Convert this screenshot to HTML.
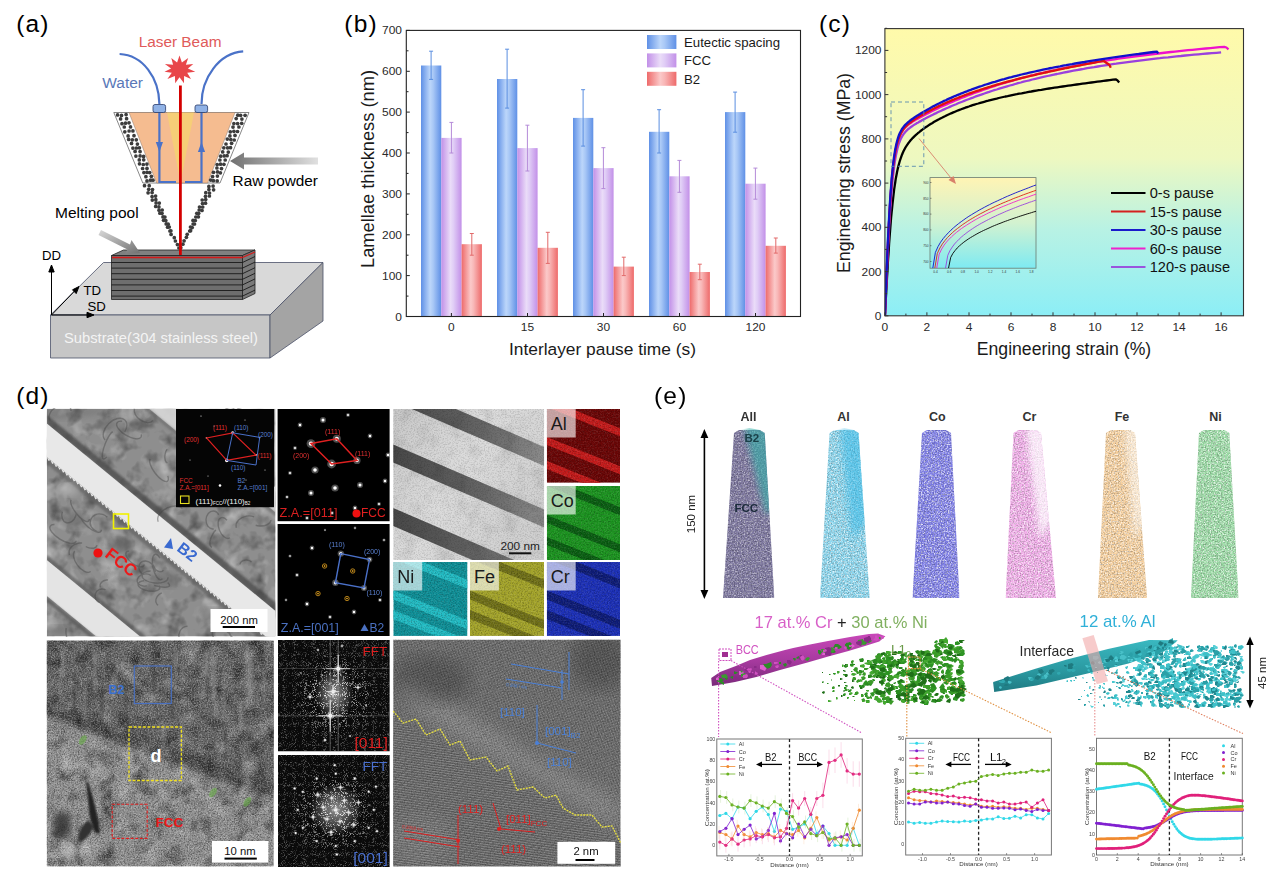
<!DOCTYPE html><html><head><meta charset="utf-8"><style>html,body{margin:0;padding:0;background:#fff;}svg{display:block;font-family:"Liberation Sans", sans-serif;}</style></head><body><svg width="1268" height="869" viewBox="0 0 1268 869"><defs><linearGradient id="garr" x1="0" y1="0" x2="1" y2="0"><stop offset="0" stop-color="#707070"/><stop offset="1" stop-color="#e0e0e0"/></linearGradient><linearGradient id="garr2" x1="1" y1="1" x2="0" y2="0"><stop offset="0" stop-color="#707070"/><stop offset="1" stop-color="#d8d8d8"/></linearGradient><linearGradient id="gbl" x1="0" x2="1"><stop offset="0" stop-color="#5f90e6"/><stop offset="0.45" stop-color="#bcd6fa"/><stop offset="0.6" stop-color="#a9c8f6"/><stop offset="1" stop-color="#5f90e6"/></linearGradient><linearGradient id="gpu" x1="0" x2="1"><stop offset="0" stop-color="#c290e8"/><stop offset="0.45" stop-color="#eadcf8"/><stop offset="0.6" stop-color="#e0cdf6"/><stop offset="1" stop-color="#c290e8"/></linearGradient><linearGradient id="grd" x1="0" x2="1"><stop offset="0" stop-color="#ee6a6a"/><stop offset="0.45" stop-color="#fbc9c9"/><stop offset="0.6" stop-color="#f8b6b6"/><stop offset="1" stop-color="#ee6a6a"/></linearGradient><linearGradient id="gcb" x1="0" y1="0" x2="0" y2="1"><stop offset="0" stop-color="#fffaaa"/><stop offset="0.45" stop-color="#eef8c0"/><stop offset="0.7" stop-color="#b8f2e4"/><stop offset="1" stop-color="#8ceef6"/></linearGradient><clipPath id="cpc"><rect x="884.9" y="28.6" width="358.6" height="287.2"/></clipPath><linearGradient id="gci" x1="0" y1="0" x2="0" y2="1"><stop offset="0" stop-color="#fff4b4"/><stop offset="0.5" stop-color="#d2f2d0"/><stop offset="1" stop-color="#7eeaf2"/></linearGradient><clipPath id="cpi"><rect x="930" y="177.6" width="106" height="90.6"/></clipPath><filter id="nzA" x="0" y="0" width="100%" height="100%" filterUnits="objectBoundingBox"><feTurbulence type="fractalNoise" baseFrequency="0.06" numOctaves="3" seed="4"/><feColorMatrix type="matrix" values="0 0 0 0 0  0 0 0 0 0  0 0 0 0 0  2.2 0 0 0 -1.05"/></filter><filter id="nzB" x="0" y="0" width="100%" height="100%" filterUnits="objectBoundingBox"><feTurbulence type="fractalNoise" baseFrequency="0.05" numOctaves="3" seed="9"/><feColorMatrix type="matrix" values="0 0 0 0 1  0 0 0 0 1  0 0 0 0 1  2.0 0 0 0 -1.05"/></filter><filter id="nzF" x="0" y="0" width="100%" height="100%" filterUnits="objectBoundingBox"><feTurbulence type="fractalNoise" baseFrequency="0.7" numOctaves="2" seed="2"/><feColorMatrix type="matrix" values="0 0 0 0 0  0 0 0 0 0  0 0 0 0 0  3 0 0 0 -1.3"/></filter><filter id="nzW" x="0" y="0" width="100%" height="100%" filterUnits="objectBoundingBox"><feTurbulence type="fractalNoise" baseFrequency="0.7" numOctaves="2" seed="5"/><feColorMatrix type="matrix" values="0 0 0 0 1  0 0 0 0 1  0 0 0 0 1  3 0 0 0 -1.3"/></filter><filter id="bl1"><feGaussianBlur stdDeviation="1.2"/></filter><filter id="bl2"><feGaussianBlur stdDeviation="3"/></filter><filter id="glow"><feGaussianBlur stdDeviation="0.7"/></filter><clipPath id="cd1"><rect x="46.8" y="408.8" width="228.7" height="227.7"/></clipPath><clipPath id="cd2"><rect x="393.2" y="409" width="151" height="151"/></clipPath><linearGradient id="gt2" x1="0" y1="0" x2="1" y2="0.6"><stop offset="0" stop-color="#c8c8c8"/><stop offset="0.5" stop-color="#dcdcdc"/><stop offset="1" stop-color="#d0d0d0"/></linearGradient><linearGradient id="gt2b" x1="0" y1="0" x2="1" y2="0"><stop offset="0" stop-color="#484848"/><stop offset="0.6" stop-color="#666"/><stop offset="1" stop-color="#8c8c8c"/></linearGradient><clipPath id="ceAl"><rect x="546.8" y="409" width="73.2" height="73.8"/></clipPath><clipPath id="ceCo"><rect x="546.8" y="486" width="73.2" height="74"/></clipPath><clipPath id="ceNi"><rect x="393.3" y="562" width="74.2" height="73.9"/></clipPath><clipPath id="ceFe"><rect x="470" y="562" width="74" height="73.9"/></clipPath><clipPath id="ceCr"><rect x="546.8" y="562" width="73.2" height="73.9"/></clipPath><clipPath id="ch1"><rect x="46.7" y="640.4" width="227.1" height="226.2"/></clipPath><clipPath id="cf640"><rect x="278" y="640" width="111.8" height="111.5"/></clipPath><radialGradient id="rgmk640" cx="0.5" cy="0.5" r="0.4"><stop offset="0" stop-color="#fff"/><stop offset="0.5" stop-color="#aaa"/><stop offset="1" stop-color="#4a4a4a"/></radialGradient><radialGradient id="rcmk640"><stop offset="0" stop-color="#fff" stop-opacity="0.55"/><stop offset="1" stop-color="#fff" stop-opacity="0"/></radialGradient><mask id="mk640"><rect x="278" y="640" width="111.8" height="111.5" fill="url(#rgmk640)"/></mask><filter id="fspmk640" x="0" y="0" width="100%" height="100%" filterUnits="objectBoundingBox"><feTurbulence type="turbulence" baseFrequency="1.1" numOctaves="1" seed="3"/><feColorMatrix type="matrix" values="0 0 0 0 1  0 0 0 0 1  0 0 0 0 1  3.2 0 0 0 -0.55"/></filter><clipPath id="cf755"><rect x="278" y="755" width="111.8" height="112"/></clipPath><radialGradient id="rgmk755" cx="0.5" cy="0.5" r="0.4"><stop offset="0" stop-color="#fff"/><stop offset="0.5" stop-color="#aaa"/><stop offset="1" stop-color="#4a4a4a"/></radialGradient><radialGradient id="rcmk755"><stop offset="0" stop-color="#fff" stop-opacity="0.55"/><stop offset="1" stop-color="#fff" stop-opacity="0"/></radialGradient><mask id="mk755"><rect x="278" y="755" width="111.8" height="112" fill="url(#rgmk755)"/></mask><filter id="fspmk755" x="0" y="0" width="100%" height="100%" filterUnits="objectBoundingBox"><feTurbulence type="turbulence" baseFrequency="1.1" numOctaves="1" seed="8"/><feColorMatrix type="matrix" values="0 0 0 0 1  0 0 0 0 1  0 0 0 0 1  3.2 0 0 0 -0.55"/></filter><clipPath id="ch2"><rect x="393.2" y="639.6" width="227.5" height="227"/></clipPath><pattern id="lat" width="2.6" height="2.6" patternUnits="userSpaceOnUse" patternTransform="rotate(-20)"><rect width="2.6" height="2.6" fill="#666"/><circle cx="1.3" cy="1.3" r="0.8" fill="#909090"/></pattern><pattern id="lat3" width="2.4" height="2.4" patternUnits="userSpaceOnUse" patternTransform="rotate(8)"><rect width="2.4" height="2.4" fill="#626262"/><rect width="2.4" height="1" fill="#8c8c8c"/></pattern><filter id="bl6"><feGaussianBlur stdDeviation="9"/></filter><filter id="spAll" x="0" y="0" width="100%" height="100%" filterUnits="objectBoundingBox"><feTurbulence type="fractalNoise" baseFrequency="1.1" numOctaves="1" seed="10"/><feColorMatrix type="matrix" values="0 0 0 0 0  0 0 0 0 0  0 0 0 0 0  6 0 0 0 -2.6"/><feFlood flood-color="#6a5a88"/><feComposite operator="in" in2="" /></filter><filter id="spAl" x="0" y="0" width="100%" height="100%" filterUnits="objectBoundingBox"><feTurbulence type="fractalNoise" baseFrequency="1.1" numOctaves="1" seed="7"/><feColorMatrix type="matrix" values="0 0 0 0 0  0 0 0 0 0  0 0 0 0 0  6 0 0 0 -2.6"/><feFlood flood-color="#40c8ec"/><feComposite operator="in" in2="" /></filter><filter id="spCo" x="0" y="0" width="100%" height="100%" filterUnits="objectBoundingBox"><feTurbulence type="fractalNoise" baseFrequency="1.1" numOctaves="1" seed="7"/><feColorMatrix type="matrix" values="0 0 0 0 0  0 0 0 0 0  0 0 0 0 0  6 0 0 0 -2.6"/><feFlood flood-color="#5050d8"/><feComposite operator="in" in2="" /></filter><filter id="spCr" x="0" y="0" width="100%" height="100%" filterUnits="objectBoundingBox"><feTurbulence type="fractalNoise" baseFrequency="1.1" numOctaves="1" seed="7"/><feColorMatrix type="matrix" values="0 0 0 0 0  0 0 0 0 0  0 0 0 0 0  6 0 0 0 -2.6"/><feFlood flood-color="#ea70d8"/><feComposite operator="in" in2="" /></filter><filter id="spFe" x="0" y="0" width="100%" height="100%" filterUnits="objectBoundingBox"><feTurbulence type="fractalNoise" baseFrequency="1.1" numOctaves="1" seed="7"/><feColorMatrix type="matrix" values="0 0 0 0 0  0 0 0 0 0  0 0 0 0 0  6 0 0 0 -2.6"/><feFlood flood-color="#f4b060"/><feComposite operator="in" in2="" /></filter><filter id="spNi" x="0" y="0" width="100%" height="100%" filterUnits="objectBoundingBox"><feTurbulence type="fractalNoise" baseFrequency="1.1" numOctaves="1" seed="7"/><feColorMatrix type="matrix" values="0 0 0 0 0  0 0 0 0 0  0 0 0 0 0  6 0 0 0 -2.6"/><feFlood flood-color="#50c860"/><feComposite operator="in" in2="" /></filter><clipPath id="ctAll"><polygon points="734,433 739,430 749.4,428 759.7,430 764.7,433 774.3,598 723,598"/></clipPath><clipPath id="ctAl"><polygon points="829.6,433 834.6,430 844.1,428 853.6,430 858.6,433 869.7,598 820,598"/></clipPath><clipPath id="ctCo"><polygon points="922,433 927,430 936.5,428 946,430 951,433 959.5,598 912.5,598"/></clipPath><clipPath id="ctCr"><polygon points="1013.5,433 1018.5,430 1027.2,428 1036,430 1041,433 1056,598 1005.6,598"/></clipPath><clipPath id="ctFe"><polygon points="1106,433 1111,430 1120.5,428 1130,430 1135,433 1147,598 1098,598"/></clipPath><clipPath id="ctNi"><polygon points="1199,433 1204,430 1214.2,428 1224.3,430 1229.3,433 1238.6,598 1191,598"/></clipPath><linearGradient id="grod" x1="0" y1="0" x2="0" y2="1"><stop offset="0" stop-color="#c848b8"/><stop offset="0.5" stop-color="#a83aa0"/><stop offset="1" stop-color="#7a2a7a"/></linearGradient><linearGradient id="grod2" x1="0" y1="0" x2="0" y2="1"><stop offset="0" stop-color="#3ab8c0"/><stop offset="0.6" stop-color="#2a98a0"/><stop offset="1" stop-color="#1e7a82"/></linearGradient></defs><rect width="1268" height="869" fill="#fff"/><text x="16.2" y="32" font-size="24.5" fill="#000" text-anchor="start" font-weight="normal" letter-spacing="1.2">(a)</text><polygon points="50.5,315 103.5,262.5 323,262.5 270,315" fill="#d9d9d9" stroke="#4a5068" stroke-width="0.8"/><polygon points="50.5,315 270,315 270,358 50.5,358" fill="#c6c6c6" stroke="#4a5068" stroke-width="0.8"/><polygon points="270,315 323,262.5 323,321 270,358" fill="#a4a4a4" stroke="#4a5068" stroke-width="0.8"/><text x="64" y="343" font-size="14.7" fill="#f4f4f4" text-anchor="start" font-weight="normal" textLength="194" lengthAdjust="spacingAndGlyphs">Substrate(304 stainless steel)</text><polygon points="111.5,255.5 123.5,250 255,250 242.5,255.5" fill="#808080" stroke="#222" stroke-width="0.8"/><polygon points="111.5,255.5 242.5,255.5 242.5,299.5 111.5,299.5" fill="#6e6e6e" stroke="#222" stroke-width="0.8"/><polygon points="242.5,255.5 255,250 255,293.5 242.5,299.5" fill="#7a7a7a" stroke="#222" stroke-width="0.8"/><line x1="111.5" y1="262.5" x2="242.5" y2="262.5" stroke="#1a1a1a" stroke-width="0.9"/><line x1="242.5" y1="262.5" x2="255" y2="256.5" stroke="#1a1a1a" stroke-width="0.9"/><line x1="111.5" y1="268.1" x2="242.5" y2="268.1" stroke="#1a1a1a" stroke-width="0.9"/><line x1="242.5" y1="268.1" x2="255" y2="262.1" stroke="#1a1a1a" stroke-width="0.9"/><line x1="111.5" y1="273.7" x2="242.5" y2="273.7" stroke="#1a1a1a" stroke-width="0.9"/><line x1="242.5" y1="273.7" x2="255" y2="267.7" stroke="#1a1a1a" stroke-width="0.9"/><line x1="111.5" y1="279.3" x2="242.5" y2="279.3" stroke="#1a1a1a" stroke-width="0.9"/><line x1="242.5" y1="279.3" x2="255" y2="273.3" stroke="#1a1a1a" stroke-width="0.9"/><line x1="111.5" y1="284.9" x2="242.5" y2="284.9" stroke="#1a1a1a" stroke-width="0.9"/><line x1="242.5" y1="284.9" x2="255" y2="278.9" stroke="#1a1a1a" stroke-width="0.9"/><line x1="111.5" y1="290.5" x2="242.5" y2="290.5" stroke="#1a1a1a" stroke-width="0.9"/><line x1="242.5" y1="290.5" x2="255" y2="284.5" stroke="#1a1a1a" stroke-width="0.9"/><line x1="111.5" y1="296.1" x2="242.5" y2="296.1" stroke="#1a1a1a" stroke-width="0.9"/><line x1="242.5" y1="296.1" x2="255" y2="290.1" stroke="#1a1a1a" stroke-width="0.9"/><line x1="112" y1="257.5" x2="242.5" y2="257.5" stroke="#d41a1a" stroke-width="1.6"/><line x1="242.5" y1="257.5" x2="255" y2="252" stroke="#d41a1a" stroke-width="1.2"/><g stroke="#000" stroke-width="1" fill="#000"><line x1="51.5" y1="315" x2="51.5" y2="270"/><polygon points="51.5,265 48.8,272 54.2,272"/><line x1="51.5" y1="315" x2="88" y2="315"/><polygon points="94,315 87,312.3 87,317.7"/><line x1="51.5" y1="315" x2="75" y2="290.5"/><polygon points="79,286.5 72.5,289.8 76.2,293.6"/></g><text x="42" y="259.8" font-size="13.2" fill="#000" text-anchor="start" font-weight="normal" >DD</text><text x="83.5" y="294.8" font-size="13.2" fill="#000" text-anchor="start" font-weight="normal" >TD</text><text x="87.5" y="311.3" font-size="13.2" fill="#000" text-anchor="start" font-weight="normal" >SD</text><polygon points="101,230 130,244.5 131.5,240 140,253 125,254 127.5,249.5 98.5,235" fill="url(#garr2)"/><text x="55" y="218" font-size="15.5" fill="#000" text-anchor="start" font-weight="normal" textLength="83.6" lengthAdjust="spacingAndGlyphs">Melting pool</text><polygon points="113.8,112.5 249,112.5 220,183 142.8,183" fill="#fff" stroke="#6a6a6a" stroke-width="0.8"/><polygon points="129,112.5 235,112.5 207.7,183 156.6,183" fill="#f5bc90" stroke="#8a7a70" stroke-width="0.5"/><polygon points="167,112.5 194,112.5 180.5,183" fill="#f6cf74" opacity="0.9"/><g fill="#3c3c3c"><circle cx="144.5" cy="185.7" r="1.85"/><circle cx="149.2" cy="185.7" r="1.85"/><circle cx="148.7" cy="189.3" r="1.85"/><circle cx="152.5" cy="189.5" r="1.85"/><circle cx="148.1" cy="192.8" r="1.85"/><circle cx="152.1" cy="192.6" r="1.85"/><circle cx="152.1" cy="196.6" r="1.85"/><circle cx="155.6" cy="196.1" r="1.85"/><circle cx="152.3" cy="200.1" r="1.85"/><circle cx="155.8" cy="199.7" r="1.85"/><circle cx="156.1" cy="202.9" r="1.85"/><circle cx="159.3" cy="203.1" r="1.85"/><circle cx="155.7" cy="206.4" r="1.85"/><circle cx="158.9" cy="206.9" r="1.85"/><circle cx="159" cy="210.2" r="1.85"/><circle cx="162.2" cy="210" r="1.85"/><circle cx="159.9" cy="213.2" r="1.85"/><circle cx="162" cy="213.3" r="1.85"/><circle cx="163" cy="216.9" r="1.85"/><circle cx="164.9" cy="217.1" r="1.85"/><circle cx="163.6" cy="220.3" r="1.85"/><circle cx="165.8" cy="220.6" r="1.85"/><circle cx="166.2" cy="223.9" r="1.85"/><circle cx="168.2" cy="224.2" r="1.85"/><circle cx="167.6" cy="227.2" r="1.85"/><circle cx="169.3" cy="227" r="1.85"/><circle cx="169.9" cy="231" r="1.85"/><circle cx="170.9" cy="230.8" r="1.85"/><circle cx="171.1" cy="234.4" r="1.85"/><circle cx="174.3" cy="237.7" r="1.85"/><circle cx="175.4" cy="241" r="1.85"/><circle cx="177.4" cy="244.6" r="1.85"/><circle cx="178.9" cy="248" r="1.85"/><circle cx="208.9" cy="186.4" r="1.85"/><circle cx="213.1" cy="186.1" r="1.85"/><circle cx="208.9" cy="189.6" r="1.85"/><circle cx="213.6" cy="189.8" r="1.85"/><circle cx="205.8" cy="192.7" r="1.85"/><circle cx="209.5" cy="193" r="1.85"/><circle cx="205.5" cy="196.3" r="1.85"/><circle cx="209.4" cy="196" r="1.85"/><circle cx="202.2" cy="200" r="1.85"/><circle cx="205.7" cy="199.6" r="1.85"/><circle cx="202.5" cy="203.5" r="1.85"/><circle cx="205.5" cy="203.2" r="1.85"/><circle cx="199.5" cy="207" r="1.85"/><circle cx="202.7" cy="207" r="1.85"/><circle cx="199.2" cy="210" r="1.85"/><circle cx="202" cy="210.4" r="1.85"/><circle cx="196.8" cy="213.3" r="1.85"/><circle cx="198.7" cy="213.3" r="1.85"/><circle cx="195.8" cy="217" r="1.85"/><circle cx="198.4" cy="216.8" r="1.85"/><circle cx="193" cy="220.4" r="1.85"/><circle cx="195.3" cy="220.5" r="1.85"/><circle cx="193.1" cy="224" r="1.85"/><circle cx="194.5" cy="224" r="1.85"/><circle cx="190.5" cy="227" r="1.85"/><circle cx="192.2" cy="227.6" r="1.85"/><circle cx="189.7" cy="231" r="1.85"/><circle cx="190.6" cy="230.7" r="1.85"/><circle cx="187.2" cy="234.3" r="1.85"/><circle cx="186.4" cy="237.3" r="1.85"/><circle cx="184.1" cy="240.8" r="1.85"/><circle cx="182.9" cy="244.2" r="1.85"/><circle cx="180.8" cy="247.7" r="1.85"/><circle cx="117.6" cy="114.9" r="1.85"/><circle cx="121.5" cy="115.4" r="1.85"/><circle cx="126.1" cy="114.6" r="1.85"/><circle cx="120.6" cy="118.9" r="1.85"/><circle cx="126.6" cy="118.7" r="1.85"/><circle cx="122" cy="123.7" r="1.85"/><circle cx="125.5" cy="123.2" r="1.85"/><circle cx="129" cy="122.8" r="1.85"/><circle cx="124.3" cy="127" r="1.85"/><circle cx="130.5" cy="126.9" r="1.85"/><circle cx="124.8" cy="131.8" r="1.85"/><circle cx="129.1" cy="131" r="1.85"/><circle cx="132.9" cy="130.9" r="1.85"/><circle cx="128.1" cy="135.9" r="1.85"/><circle cx="134" cy="135.7" r="1.85"/><circle cx="128.7" cy="139.4" r="1.85"/><circle cx="132.3" cy="139.8" r="1.85"/><circle cx="136.3" cy="139.8" r="1.85"/><circle cx="131.5" cy="143.4" r="1.85"/><circle cx="137.4" cy="144.1" r="1.85"/><circle cx="132.9" cy="148.1" r="1.85"/><circle cx="136.4" cy="148" r="1.85"/><circle cx="139.4" cy="147.8" r="1.85"/><circle cx="135.1" cy="151.4" r="1.85"/><circle cx="140.1" cy="151.6" r="1.85"/><circle cx="135.9" cy="156.1" r="1.85"/><circle cx="140.1" cy="155.9" r="1.85"/><circle cx="143.6" cy="156.4" r="1.85"/><circle cx="139.3" cy="159.9" r="1.85"/><circle cx="143.7" cy="159.8" r="1.85"/><circle cx="139.5" cy="163.8" r="1.85"/><circle cx="143.3" cy="164.5" r="1.85"/><circle cx="146.9" cy="164.1" r="1.85"/><circle cx="142.6" cy="168.5" r="1.85"/><circle cx="147" cy="168.4" r="1.85"/><circle cx="143.9" cy="172.6" r="1.85"/><circle cx="147" cy="172.3" r="1.85"/><circle cx="149.7" cy="172.6" r="1.85"/><circle cx="145.9" cy="176.7" r="1.85"/><circle cx="151.4" cy="176.3" r="1.85"/><circle cx="147" cy="180.9" r="1.85"/><circle cx="150.5" cy="180.2" r="1.85"/><circle cx="153" cy="180.2" r="1.85"/><circle cx="245.1" cy="115.3" r="1.85"/><circle cx="240.6" cy="115.3" r="1.85"/><circle cx="237.8" cy="115.2" r="1.85"/><circle cx="241.9" cy="119.1" r="1.85"/><circle cx="236.2" cy="118.6" r="1.85"/><circle cx="241.7" cy="123.3" r="1.85"/><circle cx="237.6" cy="123.6" r="1.85"/><circle cx="233.9" cy="123.6" r="1.85"/><circle cx="238.9" cy="127" r="1.85"/><circle cx="233" cy="127.1" r="1.85"/><circle cx="237.5" cy="131.5" r="1.85"/><circle cx="233.9" cy="131.3" r="1.85"/><circle cx="230.3" cy="131.8" r="1.85"/><circle cx="235" cy="135.4" r="1.85"/><circle cx="229.9" cy="135.9" r="1.85"/><circle cx="234.2" cy="140" r="1.85"/><circle cx="230.8" cy="139.6" r="1.85"/><circle cx="227.3" cy="139.1" r="1.85"/><circle cx="231.6" cy="143.3" r="1.85"/><circle cx="226" cy="144" r="1.85"/><circle cx="230.5" cy="147.7" r="1.85"/><circle cx="227.6" cy="147.8" r="1.85"/><circle cx="223.8" cy="147.8" r="1.85"/><circle cx="228.3" cy="152.1" r="1.85"/><circle cx="222.7" cy="151.9" r="1.85"/><circle cx="227.1" cy="155.7" r="1.85"/><circle cx="224.2" cy="155.9" r="1.85"/><circle cx="220.7" cy="156.2" r="1.85"/><circle cx="225.2" cy="160" r="1.85"/><circle cx="219.9" cy="160" r="1.85"/><circle cx="223.9" cy="164.3" r="1.85"/><circle cx="220.5" cy="164.2" r="1.85"/><circle cx="217.2" cy="164.6" r="1.85"/><circle cx="221.5" cy="168.6" r="1.85"/><circle cx="216.9" cy="168" r="1.85"/><circle cx="220.4" cy="172.8" r="1.85"/><circle cx="217.5" cy="171.9" r="1.85"/><circle cx="213.5" cy="172.3" r="1.85"/><circle cx="217.4" cy="176.1" r="1.85"/><circle cx="212.6" cy="176.6" r="1.85"/><circle cx="217.2" cy="180.9" r="1.85"/><circle cx="213.4" cy="180.7" r="1.85"/><circle cx="210.7" cy="180.1" r="1.85"/></g><g stroke="#4a72c8" stroke-width="2.2" fill="none"><path d="M119.6,54 C143,55 159,78 159.4,104"/><path d="M243.2,51.4 C219,53 201.5,78 201.5,104"/><path d="M159.4,112 V182 H176"/><path d="M201.5,112 V182 H185"/></g><polygon points="155.8,142 163,142 159.4,152" fill="#4a72c8"/><polygon points="197.9,152 205.1,152 201.5,142" fill="#4a72c8"/><rect x="153" y="104.5" width="12.6" height="8" rx="2" fill="#90b2e6" stroke="#283a68" stroke-width="0.8"/><rect x="195" y="105" width="12.6" height="7.5" rx="2" fill="#90b2e6" stroke="#283a68" stroke-width="0.8"/><line x1="180.4" y1="85.5" x2="180.4" y2="255" stroke="#d40000" stroke-width="2.8"/><polygon points="179.5,55.6 181.9,62.5 188.2,57.9 185.9,64.8 193.3,63.9 187.9,68.6 195.3,71.7 187.2,72.8 191,78.9 184.1,76 184,83.2 179.5,77.2 175.2,83.2 174.9,76 167.4,78.9 171.8,72.8 164.5,71.7 171.1,68.6 164.9,63.9 173.1,64.8 171.3,57.9 177.1,62.5" fill="#e8464a"/><text x="138.7" y="46.5" font-size="15.4" fill="#e05a5a" text-anchor="start" font-weight="normal" textLength="82.8" lengthAdjust="spacingAndGlyphs">Laser Beam</text><text x="102.3" y="88" font-size="15.5" fill="#5a78b8" text-anchor="start" font-weight="normal" textLength="40.7" lengthAdjust="spacingAndGlyphs">Water</text><polygon points="318,157.5 244,157.5 244,152.5 230,161 244,169.5 244,164.5 318,164.5" fill="url(#garr)"/><text x="232.6" y="185.5" font-size="15.4" fill="#000" text-anchor="start" font-weight="normal" textLength="85.4" lengthAdjust="spacingAndGlyphs">Raw powder</text><text x="344.3" y="31.8" font-size="24.5" fill="#000" text-anchor="start" font-weight="normal" letter-spacing="1.2">(b)</text><rect x="421" y="65.5" width="20.3" height="251" fill="url(#gbl)"/><g stroke="#5a8ee0" stroke-width="1"><line x1="431.1" y1="51.2" x2="431.1" y2="79.4"/><line x1="429.1" y1="51.2" x2="433.1" y2="51.2"/><line x1="429.1" y1="79.4" x2="433.1" y2="79.4"/></g><rect x="441.3" y="137.9" width="20.3" height="178.6" fill="url(#gpu)"/><g stroke="#b48ad8" stroke-width="1"><line x1="451.4" y1="122.4" x2="451.4" y2="153"/><line x1="449.4" y1="122.4" x2="453.4" y2="122.4"/><line x1="449.4" y1="153" x2="453.4" y2="153"/></g><rect x="461.6" y="244.2" width="20.3" height="72.3" fill="url(#grd)"/><g stroke="#e26a6a" stroke-width="1"><line x1="471.8" y1="233.5" x2="471.8" y2="255.2"/><line x1="469.8" y1="233.5" x2="473.8" y2="233.5"/><line x1="469.8" y1="255.2" x2="473.8" y2="255.2"/></g><rect x="497" y="79" width="20.3" height="237.5" fill="url(#gbl)"/><g stroke="#5a8ee0" stroke-width="1"><line x1="507.1" y1="49.2" x2="507.1" y2="108.1"/><line x1="505.1" y1="49.2" x2="509.1" y2="49.2"/><line x1="505.1" y1="108.1" x2="509.1" y2="108.1"/></g><rect x="517.3" y="148.1" width="20.3" height="168.4" fill="url(#gpu)"/><g stroke="#b48ad8" stroke-width="1"><line x1="527.4" y1="125.2" x2="527.4" y2="171"/><line x1="525.4" y1="125.2" x2="529.4" y2="125.2"/><line x1="525.4" y1="171" x2="529.4" y2="171"/></g><rect x="537.6" y="247.8" width="20.3" height="68.7" fill="url(#grd)"/><g stroke="#e26a6a" stroke-width="1"><line x1="547.8" y1="232.3" x2="547.8" y2="263.4"/><line x1="545.8" y1="232.3" x2="549.8" y2="232.3"/><line x1="545.8" y1="263.4" x2="549.8" y2="263.4"/></g><rect x="573" y="117.9" width="20.3" height="198.6" fill="url(#gbl)"/><g stroke="#5a8ee0" stroke-width="1"><line x1="583.1" y1="89.7" x2="583.1" y2="146.1"/><line x1="581.1" y1="89.7" x2="585.1" y2="89.7"/><line x1="581.1" y1="146.1" x2="585.1" y2="146.1"/></g><rect x="593.3" y="168.1" width="20.3" height="148.4" fill="url(#gpu)"/><g stroke="#b48ad8" stroke-width="1"><line x1="603.4" y1="147.7" x2="603.4" y2="188.6"/><line x1="601.4" y1="147.7" x2="605.4" y2="147.7"/><line x1="601.4" y1="188.6" x2="605.4" y2="188.6"/></g><rect x="613.6" y="266.6" width="20.3" height="49.9" fill="url(#grd)"/><g stroke="#e26a6a" stroke-width="1"><line x1="623.8" y1="257.2" x2="623.8" y2="275.6"/><line x1="621.8" y1="257.2" x2="625.8" y2="257.2"/><line x1="621.8" y1="275.6" x2="625.8" y2="275.6"/></g><rect x="649" y="131.8" width="20.3" height="184.7" fill="url(#gbl)"/><g stroke="#5a8ee0" stroke-width="1"><line x1="659.1" y1="109.7" x2="659.1" y2="153"/><line x1="657.1" y1="109.7" x2="661.1" y2="109.7"/><line x1="657.1" y1="153" x2="661.1" y2="153"/></g><rect x="669.3" y="176.3" width="20.3" height="140.2" fill="url(#gpu)"/><g stroke="#b48ad8" stroke-width="1"><line x1="679.4" y1="160.4" x2="679.4" y2="192.3"/><line x1="677.4" y1="160.4" x2="681.4" y2="160.4"/><line x1="677.4" y1="192.3" x2="681.4" y2="192.3"/></g><rect x="689.6" y="272" width="20.3" height="44.5" fill="url(#grd)"/><g stroke="#e26a6a" stroke-width="1"><line x1="699.8" y1="264.2" x2="699.8" y2="279.7"/><line x1="697.8" y1="264.2" x2="701.8" y2="264.2"/><line x1="697.8" y1="279.7" x2="701.8" y2="279.7"/></g><rect x="725" y="112.1" width="20.3" height="204.4" fill="url(#gbl)"/><g stroke="#5a8ee0" stroke-width="1"><line x1="735.1" y1="92.1" x2="735.1" y2="132.2"/><line x1="733.1" y1="92.1" x2="737.1" y2="92.1"/><line x1="733.1" y1="132.2" x2="737.1" y2="132.2"/></g><rect x="745.3" y="183.7" width="20.3" height="132.8" fill="url(#gpu)"/><g stroke="#b48ad8" stroke-width="1"><line x1="755.4" y1="168.1" x2="755.4" y2="199.2"/><line x1="753.4" y1="168.1" x2="757.4" y2="168.1"/><line x1="753.4" y1="199.2" x2="757.4" y2="199.2"/></g><rect x="765.6" y="245.8" width="20.3" height="70.7" fill="url(#grd)"/><g stroke="#e26a6a" stroke-width="1"><line x1="775.8" y1="238" x2="775.8" y2="253.1"/><line x1="773.8" y1="238" x2="777.8" y2="238"/><line x1="773.8" y1="253.1" x2="777.8" y2="253.1"/></g><rect x="406.3" y="30.4" width="394.2" height="286.1" fill="none" stroke="#222" stroke-width="1.1"/><text x="402" y="320.5" font-size="11.6" fill="#2a2a2a" text-anchor="end" font-weight="normal" textLength="6.65" lengthAdjust="spacingAndGlyphs">0</text><text x="402" y="279.6" font-size="11.6" fill="#2a2a2a" text-anchor="end" font-weight="normal" textLength="19.950000000000003" lengthAdjust="spacingAndGlyphs">100</text><text x="402" y="238.8" font-size="11.6" fill="#2a2a2a" text-anchor="end" font-weight="normal" textLength="19.950000000000003" lengthAdjust="spacingAndGlyphs">200</text><text x="402" y="197.9" font-size="11.6" fill="#2a2a2a" text-anchor="end" font-weight="normal" textLength="19.950000000000003" lengthAdjust="spacingAndGlyphs">300</text><text x="402" y="157" font-size="11.6" fill="#2a2a2a" text-anchor="end" font-weight="normal" textLength="19.950000000000003" lengthAdjust="spacingAndGlyphs">400</text><text x="402" y="116.1" font-size="11.6" fill="#2a2a2a" text-anchor="end" font-weight="normal" textLength="19.950000000000003" lengthAdjust="spacingAndGlyphs">500</text><text x="402" y="75.3" font-size="11.6" fill="#2a2a2a" text-anchor="end" font-weight="normal" textLength="19.950000000000003" lengthAdjust="spacingAndGlyphs">600</text><text x="402" y="34.4" font-size="11.6" fill="#2a2a2a" text-anchor="end" font-weight="normal" textLength="19.950000000000003" lengthAdjust="spacingAndGlyphs">700</text><g stroke="#222" stroke-width="1"><line x1="406.3" y1="316.5" x2="409.8" y2="316.5"/><line x1="406.3" y1="296.1" x2="408.5" y2="296.1"/><line x1="406.3" y1="275.6" x2="409.8" y2="275.6"/><line x1="406.3" y1="255.2" x2="408.5" y2="255.2"/><line x1="406.3" y1="234.8" x2="409.8" y2="234.8"/><line x1="406.3" y1="214.3" x2="408.5" y2="214.3"/><line x1="406.3" y1="193.9" x2="409.8" y2="193.9"/><line x1="406.3" y1="173.4" x2="408.5" y2="173.4"/><line x1="406.3" y1="153" x2="409.8" y2="153"/><line x1="406.3" y1="132.6" x2="408.5" y2="132.6"/><line x1="406.3" y1="112.1" x2="409.8" y2="112.1"/><line x1="406.3" y1="91.7" x2="408.5" y2="91.7"/><line x1="406.3" y1="71.3" x2="409.8" y2="71.3"/><line x1="406.3" y1="50.8" x2="408.5" y2="50.8"/><line x1="406.3" y1="30.4" x2="409.8" y2="30.4"/><line x1="451.4" y1="316.5" x2="451.4" y2="313"/><line x1="527.5" y1="316.5" x2="527.5" y2="313"/><line x1="603.5" y1="316.5" x2="603.5" y2="313"/><line x1="679.5" y1="316.5" x2="679.5" y2="313"/><line x1="755.5" y1="316.5" x2="755.5" y2="313"/></g><text x="451.4" y="331" font-size="11.6" fill="#2a2a2a" text-anchor="middle" font-weight="normal" textLength="6.65" lengthAdjust="spacingAndGlyphs">0</text><text x="527.5" y="331" font-size="11.6" fill="#2a2a2a" text-anchor="middle" font-weight="normal" textLength="13.3" lengthAdjust="spacingAndGlyphs">15</text><text x="603.5" y="331" font-size="11.6" fill="#2a2a2a" text-anchor="middle" font-weight="normal" textLength="13.3" lengthAdjust="spacingAndGlyphs">30</text><text x="679.5" y="331" font-size="11.6" fill="#2a2a2a" text-anchor="middle" font-weight="normal" textLength="13.3" lengthAdjust="spacingAndGlyphs">60</text><text x="755.5" y="331" font-size="11.6" fill="#2a2a2a" text-anchor="middle" font-weight="normal" textLength="19.950000000000003" lengthAdjust="spacingAndGlyphs">120</text><text x="602.5" y="355" font-size="17.4" fill="#1a1a1a" text-anchor="middle" font-weight="normal" textLength="187" lengthAdjust="spacingAndGlyphs">Interlayer pause time (s)</text><text transform="translate(373.5,169) rotate(-90)" x="0" y="0" font-size="18.2" fill="#1a1a1a" text-anchor="middle" textLength="198" lengthAdjust="spacingAndGlyphs">Lamellae thickness (nm)</text><rect x="647" y="35" width="29.4" height="14" fill="url(#gbl)"/><text x="684" y="47" font-size="13.2" fill="#1a1a1a" text-anchor="start" font-weight="normal" >Eutectic spacing</text><rect x="647" y="53.4" width="29.4" height="14" fill="url(#gpu)"/><text x="684" y="65.4" font-size="13.2" fill="#1a1a1a" text-anchor="start" font-weight="normal" >FCC</text><rect x="647" y="71.8" width="29.4" height="14" fill="url(#grd)"/><text x="684" y="83.8" font-size="13.2" fill="#1a1a1a" text-anchor="start" font-weight="normal" >B2</text><text x="819" y="32" font-size="24.5" fill="#000" text-anchor="start" font-weight="normal" letter-spacing="1.2">(c)</text><rect x="884.9" y="28.6" width="358.6" height="287.2" fill="url(#gcb)"/><g clip-path="url(#cpc)" fill="none" stroke-width="2.3" stroke-linejoin="round"><polyline points="884.9,315.8 884.9,315.7 884.9,315.5 884.9,315.1 885,314.5 885,313.7 885.1,312.7 885.1,311.4 885.2,310 885.3,308.2 885.4,306.3 885.5,304 885.7,301.6 885.8,298.9 886,295.9 886.2,292.7 886.4,289.2 886.6,285.5 886.8,281.6 887,277.4 887.3,273.1 887.6,268.6 887.8,263.8 888.1,259 888.5,254 888.8,248.9 889.1,243.7 889.5,238.5 889.9,233.2 890.3,228 890.7,222.8 891.1,217.7 891.6,212.7 892.1,207.8 892.6,203 893.1,198.5 893.6,194 894.1,189.8 894.7,185.8 895.3,182 895.8,178.4 896.5,175 897.1,171.8 897.7,168.9 898.4,166.1 899.1,163.5 899.8,161 900.5,158.8 901.3,156.6 902,154.7 902.8,152.8 903.6,151.1 904.4,149.5 905.2,147.9 906.1,146.5 907,145.1 907.9,143.8 908.8,142.6 909.7,141.4 910.6,140.3 911.6,139.2 912.6,138.1 913.6,137.1 914.6,136.1 915.7,135.1 916.8,134.2 917.8,133.2 919,132.3 920.1,131.4 921.2,130.5 922.4,129.6 923.6,128.7 924.8,127.9 926,127 927.3,126.2 928.5,125.4 929.8,124.5 931.1,123.7 932.5,122.9 933.8,122.1 935.2,121.3 936.6,120.5 938,119.7 939.4,119 940.9,118.2 942.4,117.5 943.9,116.7 945.4,116 946.9,115.2 948.5,114.5 950.1,113.8 951.7,113.1 953.3,112.4 955,111.7 956.6,111 958.3,110.3 960,109.7 961.8,109 963.5,108.4 965.3,107.7 967.1,107.1 968.9,106.5 970.7,105.8 972.6,105.2 974.5,104.6 976.4,104 978.3,103.5 980.3,102.9 982.3,102.3 984.2,101.8 986.3,101.2 988.3,100.7 990.4,100.1 992.4,99.6 994.5,99.1 996.7,98.6 998.8,98 1001,97.5 1003.2,97 1005.4,96.5 1007.6,96.1 1009.9,95.6 1012.2,95.1 1014.5,94.6 1016.8,94.2 1019.2,93.7 1021.6,93.3 1024,92.8 1026.4,92.4 1028.8,91.9 1031.3,91.5 1033.8,91 1036.3,90.6 1038.8,90.2 1041.4,89.8 1044,89.3 1046.6,88.9 1049.2,88.5 1051.8,88.1 1054.5,87.7 1057.2,87.3 1059.9,86.9 1062.7,86.5 1065.4,86.1 1068.2,85.7 1071,85.3 1073.9,84.9 1076.7,84.5 1079.6,84.1 1082.5,83.7 1085.4,83.3 1088.4,82.9 1091.4,82.5 1094.4,82.1 1097.4,81.7 1100.4,81.3 1103.5,80.9 1106.6,80.5 1109.7,80.1 1112.9,79.7 1116,79.3 1117.7,80.7 1119.2,82.5" stroke="#000000"/><polyline points="884.9,315.8 884.9,315.7 884.9,315.3 885,314.6 885,313.5 885.1,312 885.1,310.1 885.2,307.8 885.4,305.1 885.5,302 885.7,298.4 885.8,294.4 886,289.9 886.2,285 886.5,279.7 886.7,274 887,267.9 887.3,261.5 887.6,254.8 888,247.9 888.4,240.7 888.8,233.4 889.2,226.1 889.6,218.8 890.1,211.5 890.6,204.4 891.1,197.5 891.6,190.9 892.2,184.5 892.7,178.6 893.4,173 894,167.9 894.6,163.2 895.3,158.9 896,155 896.8,151.5 897.5,148.3 898.3,145.5 899.1,143 900,140.8 900.8,138.8 901.7,137.1 902.6,135.5 903.6,134.1 904.5,132.9 905.5,131.7 906.6,130.6 907.6,129.7 908.7,128.7 909.8,127.9 910.9,127 912.1,126.2 913.3,125.4 914.5,124.6 915.7,123.9 917,123.1 918.3,122.4 919.6,121.6 921,120.9 922.3,120.1 923.8,119.3 925.2,118.6 926.7,117.8 928.2,117 929.7,116.3 931.2,115.5 932.8,114.7 934.4,113.9 936.1,113.1 937.7,112.3 939.4,111.5 941.2,110.7 942.9,109.9 944.7,109.1 946.5,108.3 948.4,107.5 950.3,106.6 952.2,105.8 954.1,105 956.1,104.2 958.1,103.3 960.1,102.5 962.2,101.7 964.2,100.9 966.4,100 968.5,99.2 970.7,98.4 972.9,97.6 975.1,96.7 977.4,95.9 979.7,95.1 982,94.3 984.4,93.5 986.8,92.7 989.2,91.9 991.7,91 994.2,90.2 996.7,89.5 999.2,88.7 1001.8,87.9 1004.4,87.1 1007.1,86.3 1009.8,85.5 1012.5,84.8 1015.2,84 1018,83.2 1020.8,82.5 1023.6,81.7 1026.5,81 1029.4,80.3 1032.3,79.5 1035.3,78.8 1038.3,78.1 1041.3,77.4 1044.4,76.7 1047.5,76 1050.6,75.3 1053.8,74.6 1057,74 1060.2,73.3 1063.4,72.6 1066.7,72 1070.1,71.3 1073.4,70.7 1076.8,70.1 1080.2,69.5 1083.7,68.9 1087.2,68.2 1090.7,67.6 1094.2,67.1 1097.8,66.5 1101.4,65.9 1105.1,65.3 1108.8,64.8 1112.5,64.2 1116.2,63.7 1120,63.1 1123.9,62.6 1127.7,62.1 1131.6,61.6 1135.5,61.1 1139.5,60.6 1143.5,60.1 1147.5,59.6 1151.5,59.1 1155.6,58.6 1159.8,58.2 1163.9,57.7 1168.1,57.3 1172.3,56.8 1176.6,56.4 1180.9,56 1185.2,55.5 1189.6,55.1 1194,54.7 1198.4,54.3 1202.9,53.9 1207.4,53.5 1211.9,53.1 1216.5,52.8 1221.1,52.4" stroke="#9a40dd"/><polyline points="884.9,315.8 884.9,315.7 884.9,315.2 885,314.4 885,313.2 885.1,311.6 885.1,309.6 885.2,307 885.4,304 885.5,300.6 885.7,296.6 885.8,292.2 886,287.3 886.3,282 886.5,276.2 886.8,269.9 887,263.3 887.3,256.3 887.7,249.1 888,241.6 888.4,233.9 888.8,226.2 889.2,218.4 889.7,210.7 890.1,203.2 890.6,195.9 891.1,188.8 891.7,182.1 892.2,175.9 892.8,170 893.4,164.6 894.1,159.7 894.7,155.2 895.4,151.2 896.1,147.6 896.9,144.4 897.6,141.5 898.4,139 899.3,136.8 900.1,134.9 901,133.2 901.9,131.6 902.8,130.3 903.7,129.1 904.7,127.9 905.7,126.9 906.8,126 907.8,125.1 908.9,124.2 910,123.4 911.2,122.7 912.3,121.9 913.5,121.1 914.8,120.4 916,119.6 917.3,118.9 918.6,118.2 919.9,117.4 921.3,116.7 922.7,115.9 924.1,115.2 925.6,114.4 927.1,113.6 928.6,112.9 930.1,112.1 931.7,111.3 933.3,110.5 934.9,109.7 936.6,108.9 938.2,108.1 940,107.3 941.7,106.5 943.5,105.7 945.3,104.9 947.1,104.1 949,103.2 950.9,102.4 952.8,101.6 954.8,100.7 956.7,99.9 958.8,99.1 960.8,98.2 962.9,97.4 965,96.6 967.1,95.7 969.3,94.9 971.5,94.1 973.7,93.2 976,92.4 978.3,91.6 980.6,90.8 983,89.9 985.3,89.1 987.8,88.3 990.2,87.5 992.7,86.7 995.2,85.8 997.7,85 1000.3,84.2 1002.9,83.4 1005.6,82.6 1008.2,81.9 1010.9,81.1 1013.7,80.3 1016.4,79.5 1019.2,78.7 1022.1,78 1024.9,77.2 1027.8,76.5 1030.8,75.7 1033.7,75 1036.7,74.2 1039.7,73.5 1042.8,72.8 1045.9,72.1 1049,71.4 1052.2,70.7 1055.3,70 1058.6,69.3 1061.8,68.6 1065.1,67.9 1068.4,67.3 1071.8,66.6 1075.2,66 1078.6,65.3 1082,64.7 1085.5,64 1089.1,63.4 1092.6,62.8 1096.2,62.2 1099.8,61.6 1103.5,61 1107.2,60.4 1110.9,59.8 1114.6,59.3 1118.4,58.7 1122.2,58.1 1126.1,57.6 1130,57.1 1133.9,56.5 1137.9,56 1141.9,55.5 1145.9,55 1149.9,54.5 1154,54 1158.2,53.5 1162.3,53 1166.5,52.5 1170.8,52 1175,51.6 1179.3,51.1 1183.7,50.6 1188,50.2 1192.4,49.8 1196.9,49.3 1201.4,48.9 1205.9,48.5 1210.4,48.1 1215,47.7 1219.6,47.2 1224.3,46.8 1226.4,47.5 1228.5,49.3" stroke="#ee10cc"/><polyline points="884.9,315.8 884.9,315.7 884.9,315.4 884.9,314.9 885,314.2 885,313.1 885.1,311.8 885.1,310.2 885.2,308.2 885.3,306 885.4,303.4 885.5,300.6 885.6,297.4 885.8,293.9 885.9,290 886.1,285.9 886.3,281.4 886.5,276.7 886.7,271.6 886.9,266.3 887.2,260.8 887.4,255 887.7,249.1 888,243 888.3,236.8 888.6,230.5 888.9,224.1 889.3,217.8 889.6,211.5 890,205.4 890.4,199.3 890.8,193.5 891.2,187.8 891.7,182.4 892.1,177.3 892.6,172.4 893.1,167.8 893.6,163.5 894.1,159.6 894.7,155.9 895.3,152.5 895.8,149.5 896.4,146.6 897,144.1 897.7,141.7 898.3,139.6 899,137.7 899.7,136 900.4,134.4 901.1,133 901.8,131.7 902.6,130.5 903.3,129.4 904.1,128.3 904.9,127.4 905.8,126.5 906.6,125.6 907.5,124.8 908.3,124 909.2,123.3 910.2,122.6 911.1,121.8 912,121.2 913,120.5 914,119.8 915,119.1 916,118.5 917.1,117.8 918.2,117.1 919.2,116.5 920.4,115.8 921.5,115.2 922.6,114.5 923.8,113.9 925,113.2 926.2,112.5 927.4,111.9 928.6,111.2 929.9,110.6 931.2,109.9 932.5,109.2 933.8,108.6 935.1,107.9 936.5,107.2 937.8,106.6 939.2,105.9 940.7,105.2 942.1,104.6 943.6,103.9 945,103.2 946.5,102.6 948,101.9 949.6,101.3 951.1,100.6 952.7,99.9 954.3,99.3 955.9,98.6 957.6,98 959.2,97.3 960.9,96.7 962.6,96 964.3,95.4 966.1,94.7 967.8,94.1 969.6,93.4 971.4,92.8 973.2,92.2 975.1,91.5 976.9,90.9 978.8,90.3 980.7,89.6 982.7,89 984.6,88.4 986.6,87.8 988.6,87.2 990.6,86.6 992.6,85.9 994.7,85.3 996.7,84.7 998.8,84.1 1001,83.5 1003.1,82.9 1005.2,82.3 1007.4,81.7 1009.6,81.1 1011.9,80.6 1014.1,80 1016.4,79.4 1018.7,78.8 1021,78.2 1023.3,77.6 1025.6,77.1 1028,76.5 1030.4,75.9 1032.8,75.4 1035.3,74.8 1037.7,74.2 1040.2,73.6 1042.7,73.1 1045.3,72.5 1047.8,72 1050.4,71.4 1053,70.8 1055.6,70.3 1058.2,69.7 1060.9,69.2 1063.6,68.6 1066.3,68 1069,67.5 1071.7,66.9 1074.5,66.4 1077.3,65.8 1080.1,65.3 1082.9,64.7 1085.8,64.1 1088.7,63.6 1091.6,63 1094.5,62.5 1097.5,61.9 1100.4,61.4 1103.4,60.8 1106.6,63 1109.3,64.8 1110.8,67.7" stroke="#e01010"/><polyline points="884.9,315.8 884.9,315.7 884.9,315.3 884.9,314.7 885,313.7 885,312.3 885.1,310.6 885.2,308.5 885.3,306 885.4,303.1 885.5,299.8 885.7,296.1 885.8,292 886,287.4 886.2,282.5 886.4,277.2 886.6,271.6 886.9,265.6 887.1,259.3 887.4,252.7 887.7,245.9 888,238.9 888.4,231.9 888.7,224.7 889.1,217.6 889.5,210.5 889.9,203.5 890.3,196.7 890.8,190.2 891.3,183.9 891.7,177.9 892.3,172.3 892.8,167.1 893.3,162.3 893.9,157.8 894.5,153.8 895.1,150.1 895.8,146.7 896.4,143.7 897.1,141 897.8,138.6 898.5,136.4 899.2,134.5 900,132.7 900.8,131.2 901.6,129.7 902.4,128.4 903.3,127.3 904.1,126.2 905,125.1 906,124.2 906.9,123.3 907.9,122.4 908.8,121.6 909.8,120.8 910.9,120 911.9,119.2 913,118.5 914.1,117.7 915.2,116.9 916.3,116.2 917.5,115.4 918.7,114.7 919.9,114 921.1,113.2 922.4,112.4 923.7,111.7 925,110.9 926.3,110.2 927.7,109.4 929,108.7 930.4,107.9 931.9,107.1 933.3,106.3 934.8,105.6 936.3,104.8 937.8,104 939.3,103.3 940.9,102.5 942.5,101.7 944.1,100.9 945.8,100.2 947.4,99.4 949.1,98.6 950.8,97.9 952.6,97.1 954.3,96.3 956.1,95.6 957.9,94.8 959.8,94.1 961.6,93.3 963.5,92.6 965.4,91.8 967.4,91.1 969.3,90.3 971.3,89.6 973.3,88.8 975.4,88.1 977.5,87.4 979.5,86.7 981.7,86 983.8,85.2 986,84.5 988.2,83.8 990.4,83.1 992.6,82.4 994.9,81.8 997.2,81.1 999.5,80.4 1001.9,79.7 1004.2,79.1 1006.6,78.4 1009.1,77.7 1011.5,77.1 1014,76.4 1016.5,75.8 1019,75.2 1021.6,74.5 1024.2,73.9 1026.8,73.3 1029.4,72.7 1032.1,72.1 1034.8,71.5 1037.5,70.9 1040.2,70.3 1043,69.7 1045.8,69.1 1048.6,68.5 1051.5,68 1054.3,67.4 1057.2,66.8 1060.2,66.3 1063.1,65.7 1066.1,65.2 1069.1,64.6 1072.1,64.1 1075.2,63.5 1078.3,63 1081.4,62.5 1084.6,62 1087.7,61.4 1090.9,60.9 1094.2,60.4 1097.4,59.9 1100.7,59.4 1104,58.9 1107.4,58.4 1110.7,57.9 1114.1,57.4 1117.5,56.9 1121,56.4 1124.5,55.9 1128,55.4 1131.5,54.9 1135.1,54.4 1138.7,54 1142.3,53.5 1145.9,53 1149.6,52.5 1153.3,52 1157,51.6 1158.1,53.5" stroke="#1010cc"/></g><rect x="884.9" y="28.6" width="358.6" height="287.2" fill="none" stroke="#333" stroke-width="1.1"/><g stroke="#333" stroke-width="1"><line x1="884.9" y1="315.8" x2="884.9" y2="312.3"/><line x1="905.9" y1="315.8" x2="905.9" y2="313.6"/><line x1="926.9" y1="315.8" x2="926.9" y2="312.3"/><line x1="947.9" y1="315.8" x2="947.9" y2="313.6"/><line x1="969" y1="315.8" x2="969" y2="312.3"/><line x1="990" y1="315.8" x2="990" y2="313.6"/><line x1="1011" y1="315.8" x2="1011" y2="312.3"/><line x1="1032" y1="315.8" x2="1032" y2="313.6"/><line x1="1053" y1="315.8" x2="1053" y2="312.3"/><line x1="1074" y1="315.8" x2="1074" y2="313.6"/><line x1="1095" y1="315.8" x2="1095" y2="312.3"/><line x1="1116" y1="315.8" x2="1116" y2="313.6"/><line x1="1137" y1="315.8" x2="1137" y2="312.3"/><line x1="1158.1" y1="315.8" x2="1158.1" y2="313.6"/><line x1="1179.1" y1="315.8" x2="1179.1" y2="312.3"/><line x1="1200.1" y1="315.8" x2="1200.1" y2="313.6"/><line x1="1221.1" y1="315.8" x2="1221.1" y2="312.3"/><line x1="884.9" y1="315.8" x2="888.4" y2="315.8"/><line x1="884.9" y1="293.7" x2="887.1" y2="293.7"/><line x1="884.9" y1="271.6" x2="888.4" y2="271.6"/><line x1="884.9" y1="249.4" x2="887.1" y2="249.4"/><line x1="884.9" y1="227.3" x2="888.4" y2="227.3"/><line x1="884.9" y1="205.2" x2="887.1" y2="205.2"/><line x1="884.9" y1="183.1" x2="888.4" y2="183.1"/><line x1="884.9" y1="161" x2="887.1" y2="161"/><line x1="884.9" y1="138.9" x2="888.4" y2="138.9"/><line x1="884.9" y1="116.7" x2="887.1" y2="116.7"/><line x1="884.9" y1="94.6" x2="888.4" y2="94.6"/><line x1="884.9" y1="72.5" x2="887.1" y2="72.5"/><line x1="884.9" y1="50.4" x2="888.4" y2="50.4"/><line x1="884.9" y1="28.3" x2="887.1" y2="28.3"/></g><text x="884.9" y="331" font-size="11.6" fill="#2a2a2a" text-anchor="middle" font-weight="normal" textLength="6.65" lengthAdjust="spacingAndGlyphs">0</text><text x="926.9" y="331" font-size="11.6" fill="#2a2a2a" text-anchor="middle" font-weight="normal" textLength="6.65" lengthAdjust="spacingAndGlyphs">2</text><text x="969" y="331" font-size="11.6" fill="#2a2a2a" text-anchor="middle" font-weight="normal" textLength="6.65" lengthAdjust="spacingAndGlyphs">4</text><text x="1011" y="331" font-size="11.6" fill="#2a2a2a" text-anchor="middle" font-weight="normal" textLength="6.65" lengthAdjust="spacingAndGlyphs">6</text><text x="1053" y="331" font-size="11.6" fill="#2a2a2a" text-anchor="middle" font-weight="normal" textLength="6.65" lengthAdjust="spacingAndGlyphs">8</text><text x="1095" y="331" font-size="11.6" fill="#2a2a2a" text-anchor="middle" font-weight="normal" textLength="13.3" lengthAdjust="spacingAndGlyphs">10</text><text x="1137" y="331" font-size="11.6" fill="#2a2a2a" text-anchor="middle" font-weight="normal" textLength="13.3" lengthAdjust="spacingAndGlyphs">12</text><text x="1179.1" y="331" font-size="11.6" fill="#2a2a2a" text-anchor="middle" font-weight="normal" textLength="13.3" lengthAdjust="spacingAndGlyphs">14</text><text x="1221.1" y="331" font-size="11.6" fill="#2a2a2a" text-anchor="middle" font-weight="normal" textLength="13.3" lengthAdjust="spacingAndGlyphs">16</text><text x="881.5" y="319.8" font-size="11.6" fill="#2a2a2a" text-anchor="end" font-weight="normal" textLength="6.65" lengthAdjust="spacingAndGlyphs">0</text><text x="881.5" y="275.6" font-size="11.6" fill="#2a2a2a" text-anchor="end" font-weight="normal" textLength="19.950000000000003" lengthAdjust="spacingAndGlyphs">200</text><text x="881.5" y="231.3" font-size="11.6" fill="#2a2a2a" text-anchor="end" font-weight="normal" textLength="19.950000000000003" lengthAdjust="spacingAndGlyphs">400</text><text x="881.5" y="187.1" font-size="11.6" fill="#2a2a2a" text-anchor="end" font-weight="normal" textLength="19.950000000000003" lengthAdjust="spacingAndGlyphs">600</text><text x="881.5" y="142.9" font-size="11.6" fill="#2a2a2a" text-anchor="end" font-weight="normal" textLength="19.950000000000003" lengthAdjust="spacingAndGlyphs">800</text><text x="881.5" y="98.6" font-size="11.6" fill="#2a2a2a" text-anchor="end" font-weight="normal" textLength="26.6" lengthAdjust="spacingAndGlyphs">1000</text><text x="881.5" y="54.4" font-size="11.6" fill="#2a2a2a" text-anchor="end" font-weight="normal" textLength="26.6" lengthAdjust="spacingAndGlyphs">1200</text><text x="1064" y="355" font-size="17.6" fill="#1a1a1a" text-anchor="middle" font-weight="normal" textLength="174.5" lengthAdjust="spacingAndGlyphs">Engineering strain (%)</text><text transform="translate(849.5,173) rotate(-90)" font-size="18" fill="#1a1a1a" text-anchor="middle" textLength="200" lengthAdjust="spacingAndGlyphs">Engineering stress (MPa)</text><rect x="891" y="102" width="32.8" height="64.3" fill="none" stroke="#5a8ab0" stroke-width="0.9" stroke-dasharray="4,3"/><rect x="930" y="177.6" width="106" height="90.6" fill="url(#gci)" stroke="#6a7a70" stroke-width="0.8"/><g clip-path="url(#cpi)" fill="none" stroke-width="0.9"><polyline points="932.8,268.2 935.4,252.4 938,246.6 940.5,242.3 943.1,238.7 945.7,235.6 948.3,232.8 950.9,230.2 953.4,227.9 956,225.7 958.6,223.6 961.2,221.7 963.8,219.8 966.3,218 968.9,216.3 971.5,214.7 974.1,213.1 976.7,211.6 979.2,210.1 981.8,208.7 984.4,207.3 987,205.9 989.6,204.6 992.1,203.3 994.7,202.1 997.3,200.9 999.9,199.7 1002.5,198.5 1005,197.3 1007.6,196.2 1010.2,195.1 1012.8,194 1015.4,192.9 1017.9,191.9 1020.5,190.9 1023.1,189.9 1025.7,188.9 1028.3,187.9 1030.8,186.9 1033.4,185.9 1036,185" stroke="#1111cc"/><polyline points="934.8,268.2 937.3,253.4 939.9,248 942.4,243.9 944.9,240.6 947.4,237.6 950,235 952.5,232.6 955,230.4 957.6,228.4 960.1,226.5 962.6,224.6 965.2,222.9 967.7,221.2 970.2,219.6 972.8,218.1 975.3,216.6 977.8,215.2 980.3,213.8 982.9,212.5 985.4,211.2 987.9,209.9 990.5,208.7 993,207.5 995.5,206.3 998,205.2 1000.6,204 1003.1,202.9 1005.6,201.9 1008.2,200.8 1010.7,199.8 1013.2,198.7 1015.8,197.7 1018.3,196.8 1020.8,195.8 1023.4,194.8 1025.9,193.9 1028.4,193 1030.9,192.1 1033.5,191.2 1036,190.3" stroke="#dd2211"/><polyline points="936.7,268.2 939.2,254.1 941.7,249 944.1,245.1 946.6,241.9 949.1,239.2 951.6,236.7 954.1,234.4 956.6,232.3 959,230.4 961.5,228.5 964,226.8 966.5,225.2 969,223.6 971.5,222.1 973.9,220.6 976.4,219.2 978.9,217.8 981.4,216.5 983.9,215.3 986.4,214 988.8,212.8 991.3,211.7 993.8,210.5 996.3,209.4 998.8,208.3 1001.2,207.2 1003.7,206.2 1006.2,205.2 1008.7,204.2 1011.2,203.2 1013.7,202.2 1016.1,201.3 1018.6,200.3 1021.1,199.4 1023.6,198.5 1026.1,197.6 1028.6,196.8 1031,195.9 1033.5,195 1036,194.2" stroke="#ee22cc"/><polyline points="945.5,268.2 947.8,255.3 950,250.5 952.3,247 954.5,244 956.8,241.5 959.1,239.2 961.3,237.1 963.6,235.2 965.9,233.4 968.1,231.7 970.4,230.1 972.6,228.6 974.9,227.1 977.2,225.7 979.4,224.4 981.7,223.1 984,221.9 986.2,220.7 988.5,219.5 990.8,218.3 993,217.2 995.3,216.2 997.5,215.1 999.8,214.1 1002.1,213.1 1004.3,212.1 1006.6,211.1 1008.9,210.2 1011.1,209.3 1013.4,208.4 1015.6,207.5 1017.9,206.6 1020.2,205.7 1022.4,204.9 1024.7,204.1 1027,203.3 1029.2,202.4 1031.5,201.7 1033.7,200.9 1036,200.1" stroke="#9944dd"/><polyline points="948.5,268.2 950.7,257.4 952.9,253.4 955.1,250.5 957.2,248 959.4,245.9 961.6,244 963.8,242.2 966,240.6 968.2,239.1 970.4,237.7 972.6,236.4 974.8,235.1 976.9,233.9 979.1,232.7 981.3,231.6 983.5,230.5 985.7,229.5 987.9,228.5 990.1,227.5 992.2,226.5 994.4,225.6 996.6,224.7 998.8,223.8 1001,223 1003.2,222.1 1005.4,221.3 1007.6,220.5 1009.8,219.7 1011.9,219 1014.1,218.2 1016.3,217.5 1018.5,216.7 1020.7,216 1022.9,215.3 1025.1,214.6 1027.2,213.9 1029.4,213.3 1031.6,212.6 1033.8,211.9 1036,211.3" stroke="#000"/></g><line x1="930" y1="182.5" x2="931.5" y2="182.5" stroke="#333" stroke-width="0.5"/><text x="928.5" y="183.8" font-size="3.2" fill="#333" text-anchor="end" font-weight="normal" >900</text><line x1="930" y1="198.3" x2="931.5" y2="198.3" stroke="#333" stroke-width="0.5"/><text x="928.5" y="199.6" font-size="3.2" fill="#333" text-anchor="end" font-weight="normal" >850</text><line x1="930" y1="214.1" x2="931.5" y2="214.1" stroke="#333" stroke-width="0.5"/><text x="928.5" y="215.4" font-size="3.2" fill="#333" text-anchor="end" font-weight="normal" >800</text><line x1="930" y1="229.9" x2="931.5" y2="229.9" stroke="#333" stroke-width="0.5"/><text x="928.5" y="231.2" font-size="3.2" fill="#333" text-anchor="end" font-weight="normal" >800</text><line x1="930" y1="245.7" x2="931.5" y2="245.7" stroke="#333" stroke-width="0.5"/><text x="928.5" y="247" font-size="3.2" fill="#333" text-anchor="end" font-weight="normal" >750</text><line x1="930" y1="261.5" x2="931.5" y2="261.5" stroke="#333" stroke-width="0.5"/><text x="928.5" y="262.8" font-size="3.2" fill="#333" text-anchor="end" font-weight="normal" >700</text><text x="935.5" y="272.5" font-size="3.2" fill="#333" text-anchor="middle" font-weight="normal" >0.4</text><text x="949.2" y="272.5" font-size="3.2" fill="#333" text-anchor="middle" font-weight="normal" >0.6</text><text x="962.9" y="272.5" font-size="3.2" fill="#333" text-anchor="middle" font-weight="normal" >0.8</text><text x="976.6" y="272.5" font-size="3.2" fill="#333" text-anchor="middle" font-weight="normal" >1.0</text><text x="990.3" y="272.5" font-size="3.2" fill="#333" text-anchor="middle" font-weight="normal" >1.2</text><text x="1004" y="272.5" font-size="3.2" fill="#333" text-anchor="middle" font-weight="normal" >1.4</text><text x="1017.7" y="272.5" font-size="3.2" fill="#333" text-anchor="middle" font-weight="normal" >1.6</text><text x="1031.4" y="272.5" font-size="3.2" fill="#333" text-anchor="middle" font-weight="normal" >1.8</text><line x1="919" y1="138.5" x2="953" y2="180.5" stroke="#d8806a" stroke-width="0.9"/><polygon points="956,184 948.5,180 953.5,176" fill="#d8806a"/><line x1="1111" y1="193" x2="1145.5" y2="193" stroke="#000" stroke-width="2.2"/><text x="1149.7" y="198" font-size="14.6" fill="#111" text-anchor="start" font-weight="normal" >0-s pause</text><line x1="1111" y1="211.5" x2="1145.5" y2="211.5" stroke="#d42020" stroke-width="2.2"/><text x="1149.7" y="216.5" font-size="14.6" fill="#111" text-anchor="start" font-weight="normal" >15-s pause</text><line x1="1111" y1="230" x2="1145.5" y2="230" stroke="#1a1acc" stroke-width="2.2"/><text x="1149.7" y="235" font-size="14.6" fill="#111" text-anchor="start" font-weight="normal" >30-s pause</text><line x1="1111" y1="248.5" x2="1145.5" y2="248.5" stroke="#ee22cc" stroke-width="2.2"/><text x="1149.7" y="253.5" font-size="14.6" fill="#111" text-anchor="start" font-weight="normal" >60-s pause</text><line x1="1111" y1="267" x2="1145.5" y2="267" stroke="#9955dd" stroke-width="2.2"/><text x="1149.7" y="272" font-size="14.6" fill="#111" text-anchor="start" font-weight="normal" >120-s pause</text><text x="16.2" y="404" font-size="24.5" fill="#000" text-anchor="start" font-weight="normal" letter-spacing="1.2">(d)</text><g clip-path="url(#cd1)"><rect x="46.8" y="408.8" width="228.7" height="227.7" fill="#8e8e8e"/><rect x="46.8" y="408.8" width="228.7" height="227.7" fill="#000" filter="url(#nzA)" opacity="0.45"/><rect x="46.8" y="408.8" width="228.7" height="227.7" fill="#fff" filter="url(#nzB)" opacity="0.5"/><polygon points="46.8,300 275.5,487.5 275.5,512.5 46.8,325" fill="#d8d8d8" opacity="0.9"/><polygon points="46.8,325 275.5,512.5 275.5,516.5 46.8,329" fill="#666" filter="url(#bl1)" opacity="0.6"/><polygon points="46.8,408.8 150,408.8 46.8,420" fill="#5a5a5a" opacity="0.35" filter="url(#bl2)"/><polygon points="46.8,415 275.5,602.5 275.5,611.5 46.8,424" fill="#4a4a4a" filter="url(#bl1)" opacity="0.75"/><polygon points="46.8,457 275.5,644.5 275.5,651.5 46.8,464" fill="#5a5a5a" filter="url(#bl1)" opacity="0.6"/><polygon points="46.8,423.5 275.5,611 275.5,644.5 46.8,457" fill="#e8e8e8" /><polygon points="46.8,457 48.6,461 50.4,460" fill="#e8e8e8" /><polygon points="50.4,460 52.2,463.9 54,462.9" fill="#e8e8e8" /><polygon points="54,462.9 55.8,466.9 57.6,465.9" fill="#e8e8e8" /><polygon points="57.6,465.9 59.4,469.8 61.2,468.8" fill="#e8e8e8" /><polygon points="61.2,468.8 63,472.8 64.8,471.8" fill="#e8e8e8" /><polygon points="64.8,471.8 66.6,475.7 68.4,474.7" fill="#e8e8e8" /><polygon points="68.4,474.7 70.2,478.7 72,477.7" fill="#e8e8e8" /><polygon points="72,477.7 73.8,481.6 75.6,480.6" fill="#e8e8e8" /><polygon points="75.6,480.6 77.4,484.6 79.2,483.6" fill="#e8e8e8" /><polygon points="79.2,483.6 81,487.5 82.8,486.5" fill="#e8e8e8" /><polygon points="82.8,486.5 84.6,490.5 86.4,489.5" fill="#e8e8e8" /><polygon points="86.4,489.5 88.2,493.4 90,492.4" fill="#e8e8e8" /><polygon points="90,492.4 91.8,496.4 93.6,495.4" fill="#e8e8e8" /><polygon points="93.6,495.4 95.4,499.4 97.2,498.3" fill="#e8e8e8" /><polygon points="97.2,498.3 99,502.3 100.8,501.3" fill="#e8e8e8" /><polygon points="100.8,501.3 102.6,505.3 104.4,504.2" fill="#e8e8e8" /><polygon points="104.4,504.2 106.2,508.2 108,507.2" fill="#e8e8e8" /><polygon points="108,507.2 109.8,511.2 111.6,510.1" fill="#e8e8e8" /><polygon points="111.6,510.1 113.4,514.1 115.2,513.1" fill="#e8e8e8" /><polygon points="115.2,513.1 117,517.1 118.8,516" fill="#e8e8e8" /><polygon points="118.8,516 120.6,520 122.4,519" fill="#e8e8e8" /><polygon points="122.4,519 124.2,523 126,521.9" fill="#e8e8e8" /><polygon points="126,521.9 127.8,525.9 129.6,524.9" fill="#e8e8e8" /><polygon points="129.6,524.9 131.4,528.9 133.2,527.8" fill="#e8e8e8" /><polygon points="133.2,527.8 135,531.8 136.8,530.8" fill="#e8e8e8" /><polygon points="136.8,530.8 138.6,534.8 140.4,533.8" fill="#e8e8e8" /><polygon points="140.4,533.8 142.2,537.7 144,536.7" fill="#e8e8e8" /><polygon points="144,536.7 145.8,540.7 147.6,539.7" fill="#e8e8e8" /><polygon points="147.6,539.7 149.4,543.6 151.2,542.6" fill="#e8e8e8" /><polygon points="151.2,542.6 153,546.6 154.8,545.6" fill="#e8e8e8" /><polygon points="154.8,545.6 156.6,549.5 158.4,548.5" fill="#e8e8e8" /><polygon points="158.4,548.5 160.2,552.5 162,551.5" fill="#e8e8e8" /><polygon points="162,551.5 163.8,555.4 165.6,554.4" fill="#e8e8e8" /><polygon points="165.6,554.4 167.4,558.4 169.2,557.4" fill="#e8e8e8" /><polygon points="169.2,557.4 171,561.3 172.8,560.3" fill="#e8e8e8" /><polygon points="172.8,560.3 174.6,564.3 176.4,563.3" fill="#e8e8e8" /><polygon points="176.4,563.3 178.2,567.2 180,566.2" fill="#e8e8e8" /><polygon points="180,566.2 181.8,570.2 183.6,569.2" fill="#e8e8e8" /><polygon points="183.6,569.2 185.4,573.2 187.2,572.1" fill="#e8e8e8" /><polygon points="187.2,572.1 189,576.1 190.8,575.1" fill="#e8e8e8" /><polygon points="190.8,575.1 192.6,579.1 194.4,578" fill="#e8e8e8" /><polygon points="194.4,578 196.2,582 198,581" fill="#e8e8e8" /><polygon points="198,581 199.8,585 201.6,583.9" fill="#e8e8e8" /><polygon points="201.6,583.9 203.4,587.9 205.2,586.9" fill="#e8e8e8" /><polygon points="205.2,586.9 207,590.9 208.8,589.8" fill="#e8e8e8" /><polygon points="208.8,589.8 210.6,593.8 212.4,592.8" fill="#e8e8e8" /><polygon points="212.4,592.8 214.2,596.8 216,595.7" fill="#e8e8e8" /><polygon points="216,595.7 217.8,599.7 219.6,598.7" fill="#e8e8e8" /><polygon points="219.6,598.7 221.4,602.7 223.2,601.6" fill="#e8e8e8" /><polygon points="223.2,601.6 225,605.6 226.8,604.6" fill="#e8e8e8" /><polygon points="226.8,604.6 228.6,608.6 230.4,607.6" fill="#e8e8e8" /><polygon points="230.4,607.6 232.2,611.5 234,610.5" fill="#e8e8e8" /><polygon points="234,610.5 235.8,614.5 237.6,613.5" fill="#e8e8e8" /><polygon points="237.6,613.5 239.4,617.4 241.2,616.4" fill="#e8e8e8" /><polygon points="241.2,616.4 243,620.4 244.8,619.4" fill="#e8e8e8" /><polygon points="244.8,619.4 246.6,623.3 248.4,622.3" fill="#e8e8e8" /><polygon points="248.4,622.3 250.2,626.3 252,625.3" fill="#e8e8e8" /><polygon points="252,625.3 253.8,629.2 255.6,628.2" fill="#e8e8e8" /><polygon points="255.6,628.2 257.4,632.2 259.2,631.2" fill="#e8e8e8" /><polygon points="259.2,631.2 261,635.1 262.8,634.1" fill="#e8e8e8" /><polygon points="46.8,555 275.5,742.5 275.5,748.5 46.8,561" fill="#505050" filter="url(#bl1)" opacity="0.6"/><polygon points="46.8,560 275.5,747.5 275.5,783.5 46.8,596" fill="#e4e4e4" /><polygon points="46.8,597 275.5,784.5 275.5,789.5 46.8,602" fill="#555" filter="url(#bl1)" opacity="0.7"/><ellipse cx="75" cy="520" rx="12" ry="8" fill="#6a6a6a" filter="url(#bl2)" opacity="0.65"/><ellipse cx="120" cy="545" rx="12" ry="7" fill="#707070" filter="url(#bl2)" opacity="0.65"/><ellipse cx="165" cy="580" rx="14" ry="8" fill="#6e6e6e" filter="url(#bl2)" opacity="0.65"/><ellipse cx="215" cy="615" rx="14" ry="7" fill="#747474" filter="url(#bl2)" opacity="0.65"/><ellipse cx="70" cy="490" rx="8" ry="6" fill="#b4b4b4" filter="url(#bl2)" opacity="0.65"/><ellipse cx="200" cy="470" rx="16" ry="9" fill="#7a7a7a" filter="url(#bl2)" opacity="0.65"/><ellipse cx="250" cy="500" rx="14" ry="8" fill="#808080" filter="url(#bl2)" opacity="0.65"/><ellipse cx="235" cy="450" rx="10" ry="6" fill="#b0b0b0" filter="url(#bl2)" opacity="0.65"/><ellipse cx="110" cy="425" rx="14" ry="6" fill="#7a7a7a" filter="url(#bl2)" opacity="0.65"/><ellipse cx="60" cy="630" rx="10" ry="5" fill="#707070" filter="url(#bl2)" opacity="0.65"/><g fill="none" stroke="#444" stroke-width="1.4" opacity="0.42" filter="url(#glow)"><ellipse cx="102" cy="596" rx="7" ry="7" transform="rotate(110 102 596)" stroke-dasharray="23 21"/><ellipse cx="80" cy="552" rx="11" ry="9" transform="rotate(172 80 552)" stroke-dasharray="19 42"/><ellipse cx="163" cy="599" rx="8" ry="6" transform="rotate(140 163 599)" stroke-dasharray="14 28"/><ellipse cx="169" cy="455" rx="8" ry="4" transform="rotate(101 169 455)" stroke-dasharray="15 24"/><ellipse cx="147" cy="569" rx="7" ry="9" transform="rotate(133 147 569)" stroke-dasharray="34 15"/><ellipse cx="69" cy="514" rx="7" ry="9" transform="rotate(19 69 514)" stroke-dasharray="25 23"/><ellipse cx="149" cy="586" rx="11" ry="5" transform="rotate(10 149 586)" stroke-dasharray="33 16"/><ellipse cx="240" cy="631" rx="13" ry="10" transform="rotate(39 240 631)" stroke-dasharray="36 34"/><ellipse cx="155" cy="577" rx="13" ry="6" transform="rotate(6 155 577)" stroke-dasharray="41 19"/><ellipse cx="74" cy="633" rx="14" ry="8" transform="rotate(85 74 633)" stroke-dasharray="23 47"/><ellipse cx="115" cy="430" rx="14" ry="9" transform="rotate(135 115 430)" stroke-dasharray="49 24"/><ellipse cx="157" cy="582" rx="13" ry="4" transform="rotate(16 157 582)" stroke-dasharray="16 37"/><ellipse cx="258" cy="435" rx="10" ry="7" transform="rotate(24 258 435)" stroke-dasharray="34 18"/><ellipse cx="107" cy="585" rx="7" ry="5" transform="rotate(172 107 585)" stroke-dasharray="11 25"/><ellipse cx="100" cy="523" rx="9" ry="10" transform="rotate(108 100 523)" stroke-dasharray="35 25"/><ellipse cx="159" cy="470" rx="14" ry="5" transform="rotate(53 159 470)" stroke-dasharray="31 26"/><ellipse cx="90" cy="544" rx="7" ry="4" transform="rotate(16 90 544)" stroke-dasharray="12 22"/><ellipse cx="248" cy="525" rx="12" ry="9" transform="rotate(171 248 525)" stroke-dasharray="24 41"/><ellipse cx="158" cy="567" rx="13" ry="5" transform="rotate(77 158 567)" stroke-dasharray="36 21"/><ellipse cx="224" cy="630" rx="13" ry="10" transform="rotate(135 224 630)" stroke-dasharray="35 36"/><ellipse cx="225" cy="528" rx="11" ry="6" transform="rotate(68 225 528)" stroke-dasharray="34 19"/><ellipse cx="218" cy="537" rx="12" ry="6" transform="rotate(122 218 537)" stroke-dasharray="19 38"/><ellipse cx="226" cy="420" rx="14" ry="8" transform="rotate(122 226 420)" stroke-dasharray="36 32"/><ellipse cx="60" cy="414" rx="12" ry="8" transform="rotate(148 60 414)" stroke-dasharray="35 28"/><ellipse cx="109" cy="445" rx="15" ry="4" transform="rotate(112 109 445)" stroke-dasharray="30 30"/><ellipse cx="265" cy="429" rx="12" ry="4" transform="rotate(112 265 429)" stroke-dasharray="25 27"/><ellipse cx="241" cy="420" rx="13" ry="5" transform="rotate(177 241 420)" stroke-dasharray="26 30"/><ellipse cx="241" cy="426" rx="6" ry="4" transform="rotate(7 241 426)" stroke-dasharray="20 12"/><ellipse cx="234" cy="622" rx="12" ry="9" transform="rotate(120 234 622)" stroke-dasharray="34 31"/><ellipse cx="63" cy="534" rx="15" ry="6" transform="rotate(32 63 534)" stroke-dasharray="39 28"/><ellipse cx="223" cy="482" rx="10" ry="5" transform="rotate(169 223 482)" stroke-dasharray="26 23"/><ellipse cx="135" cy="559" rx="11" ry="5" transform="rotate(38 135 559)" stroke-dasharray="29 21"/><ellipse cx="187" cy="635" rx="9" ry="8" transform="rotate(116 187 635)" stroke-dasharray="23 30"/><ellipse cx="91" cy="523" rx="13" ry="5" transform="rotate(41 91 523)" stroke-dasharray="25 32"/><ellipse cx="83" cy="561" rx="13" ry="7" transform="rotate(54 83 561)" stroke-dasharray="31 34"/><ellipse cx="157" cy="564" rx="9" ry="5" transform="rotate(53 157 564)" stroke-dasharray="13 30"/><ellipse cx="171" cy="516" rx="14" ry="9" transform="rotate(156 171 516)" stroke-dasharray="34 40"/><ellipse cx="145" cy="580" rx="6" ry="8" transform="rotate(79 145 580)" stroke-dasharray="29 14"/><ellipse cx="246" cy="564" rx="6" ry="4" transform="rotate(175 246 564)" stroke-dasharray="14 19"/><ellipse cx="80" cy="510" rx="14" ry="5" transform="rotate(53 80 510)" stroke-dasharray="30 30"/><ellipse cx="129" cy="430" rx="14" ry="6" transform="rotate(31 129 430)" stroke-dasharray="38 24"/><ellipse cx="144" cy="414" rx="11" ry="7" transform="rotate(36 144 414)" stroke-dasharray="27 30"/><ellipse cx="260" cy="519" rx="11" ry="7" transform="rotate(5 260 519)" stroke-dasharray="18 39"/><ellipse cx="213" cy="520" rx="9" ry="7" transform="rotate(92 213 520)" stroke-dasharray="32 17"/><ellipse cx="247" cy="416" rx="12" ry="7" transform="rotate(30 247 416)" stroke-dasharray="36 25"/></g></g><rect x="176" y="409" width="98" height="98.2" fill="#050505"/><g fill="#fff"><circle cx="232.7" cy="432.8" r="1.6"/><circle cx="226.8" cy="460.4" r="1.8"/><circle cx="256" cy="455" r="1"/><circle cx="206.5" cy="438" r="0.8"/><circle cx="259.7" cy="437.4" r="0.7"/><circle cx="201" cy="416" r="0.6"/><circle cx="220" cy="485.5" r="1.3"/><circle cx="190" cy="460" r="0.5"/><circle cx="245" cy="420" r="0.5"/><circle cx="265" cy="470" r="0.5"/><circle cx="208" cy="476" r="0.5"/><circle cx="246" cy="480" r="0.5"/><circle cx="214" cy="426" r="0.5"/></g><polygon points="206.5,438 232.7,432.8 256,455 226.8,460.4" fill="none" stroke="#e02020" stroke-width="1.2"/><polygon points="232.7,432.8 259.7,437.4 256,465 226.8,460.4" fill="none" stroke="#4a70c8" stroke-width="1"/><g font-size="6.4" fill="#e03030"><text x="213" y="430">(111)</text><text x="184" y="442">(200)</text><text x="257.5" y="458">(111)</text><text x="179.5" y="483">FCC</text><text x="179.5" y="490">Z.A.=[011]</text></g><g font-size="6.4" fill="#5a80d0"><text x="234" y="430">(110)</text><text x="258" y="437">(200)</text><text x="231" y="470">(110)</text><text x="237.6" y="483">B2</text><text x="237.6" y="490">Z.A.=[001]</text></g><rect x="180.5" y="496" width="8.5" height="7.5" fill="none" stroke="#e8e020" stroke-width="1.1"/><text x="195.5" y="503.5" font-size="8" fill="#f0f0f0">(111)<tspan font-size="4.5" dy="1.5">FCC</tspan><tspan dy="-1.5">//(110)</tspan><tspan font-size="4.5" dy="1.5">B2</tspan></text><rect x="113.5" y="514" width="15" height="14.5" fill="none" stroke="#f0f000" stroke-width="1.6"/><circle cx="98" cy="553" r="4.6" fill="#ee1010"/><text transform="translate(104,556) rotate(38)" font-size="17" font-weight="bold" fill="#ee1818">FCC</text><polygon points="164,547.5 171,538 173,549" fill="#3a6ad0"/><text transform="translate(176,550) rotate(38)" font-size="16" font-weight="bold" fill="#3a6ad0">B2</text><rect x="210.5" y="609" width="57" height="23" fill="#fff"/><text x="239" y="623.5" font-size="11.3" fill="#111" text-anchor="middle" font-weight="normal" >200 nm</text><rect x="222.7" y="626" width="32.3" height="2" fill="#000"/><rect x="277.6" y="409" width="112" height="112.2" fill="#000"/><g fill="#fff"><circle cx="311" cy="443.6" r="4.4" opacity="0.3"/><circle cx="311" cy="443.6" r="2.2"/><circle cx="336.8" cy="438.8" r="4" opacity="0.3"/><circle cx="336.8" cy="438.8" r="2"/><circle cx="357" cy="460.4" r="3.6" opacity="0.3"/><circle cx="357" cy="460.4" r="1.8"/><circle cx="331.6" cy="464" r="4.4" opacity="0.3"/><circle cx="331.6" cy="464" r="2.2"/><circle cx="323" cy="420" r="3.0" opacity="0.3"/><circle cx="323" cy="420" r="1.5"/><circle cx="348" cy="415" r="2" opacity="0.3"/><circle cx="348" cy="415" r="1"/><circle cx="300" cy="425" r="2.4" opacity="0.3"/><circle cx="300" cy="425" r="1.2"/><circle cx="370" cy="436" r="2.4" opacity="0.3"/><circle cx="370" cy="436" r="1.2"/><circle cx="295" cy="448" r="2" opacity="0.3"/><circle cx="295" cy="448" r="1"/><circle cx="388" cy="455" r="2.4" opacity="0.3"/><circle cx="388" cy="455" r="1.2"/><circle cx="315" cy="470" r="3.6" opacity="0.3"/><circle cx="315" cy="470" r="1.8"/><circle cx="290" cy="473" r="2" opacity="0.3"/><circle cx="290" cy="473" r="1"/><circle cx="335" cy="488" r="3.6" opacity="0.3"/><circle cx="335" cy="488" r="1.8"/><circle cx="360" cy="485" r="3.0" opacity="0.3"/><circle cx="360" cy="485" r="1.5"/><circle cx="385" cy="481" r="2.4" opacity="0.3"/><circle cx="385" cy="481" r="1.2"/><circle cx="311" cy="493" r="3.0" opacity="0.3"/><circle cx="311" cy="493" r="1.5"/><circle cx="287" cy="497" r="1.8" opacity="0.3"/><circle cx="287" cy="497" r="0.9"/><circle cx="355" cy="508" r="2.4" opacity="0.3"/><circle cx="355" cy="508" r="1.2"/><circle cx="379" cy="504" r="2" opacity="0.3"/><circle cx="379" cy="504" r="1"/><circle cx="332" cy="513" r="2" opacity="0.3"/><circle cx="332" cy="513" r="1"/><circle cx="307" cy="518" r="2" opacity="0.3"/><circle cx="307" cy="518" r="1"/></g><polygon points="311,443.6 336.8,438.8 357,460.4 331.6,464" fill="none" stroke="#e02020" stroke-width="1.5"/><g font-size="7" fill="#e03030"><text x="325" y="434">(111)</text><text x="293" y="458">(200)</text><text x="355" y="456">(111)</text></g><text x="279.5" y="517" font-size="12.3" fill="#d82020" textLength="58" lengthAdjust="spacingAndGlyphs">Z.A.=[011]</text><circle cx="356.5" cy="513.5" r="4" fill="#ee1010"/><text x="361" y="517" font-size="12" fill="#e02020" text-anchor="start" font-weight="normal" >FCC</text><rect x="277.6" y="524" width="112" height="112" fill="#000"/><g fill="#fff"><circle cx="340.8" cy="553.6" r="3.2" opacity="0.3"/><circle cx="340.8" cy="553.6" r="1.6"/><circle cx="369.5" cy="559.6" r="2.8" opacity="0.3"/><circle cx="369.5" cy="559.6" r="1.4"/><circle cx="364" cy="588" r="3.0" opacity="0.3"/><circle cx="364" cy="588" r="1.5"/><circle cx="335.4" cy="582.8" r="3.2" opacity="0.3"/><circle cx="335.4" cy="582.8" r="1.6"/><circle cx="312" cy="548" r="2.4" opacity="0.3"/><circle cx="312" cy="548" r="1.2"/><circle cx="297" cy="575" r="2" opacity="0.3"/><circle cx="297" cy="575" r="1"/><circle cx="307" cy="604" r="2.4" opacity="0.3"/><circle cx="307" cy="604" r="1.2"/><circle cx="330" cy="617" r="2" opacity="0.3"/><circle cx="330" cy="617" r="1"/><circle cx="354" cy="612" r="2.4" opacity="0.3"/><circle cx="354" cy="612" r="1.2"/><circle cx="380" cy="600" r="2" opacity="0.3"/><circle cx="380" cy="600" r="1"/><circle cx="384" cy="540" r="1.6" opacity="0.3"/><circle cx="384" cy="540" r="0.8"/><circle cx="355" cy="528" r="1.4" opacity="0.3"/><circle cx="355" cy="528" r="0.7"/><circle cx="290" cy="556" r="1.6" opacity="0.3"/><circle cx="290" cy="556" r="0.8"/><circle cx="286" cy="600" r="1.4" opacity="0.3"/><circle cx="286" cy="600" r="0.7"/><circle cx="325" cy="530" r="1.2" opacity="0.3"/><circle cx="325" cy="530" r="0.6"/></g><polygon points="340.8,553.6 369.5,559.6 364,588 335.4,582.8" fill="none" stroke="#4a70c8" stroke-width="1.4"/><g fill="none" stroke="#e0a020" stroke-width="0.8"><circle cx="324.6" cy="566" r="2.2"/><circle cx="324.6" cy="566" r="0.6" fill="#e0a020"/><circle cx="352.7" cy="571" r="2.2"/><circle cx="352.7" cy="571" r="0.6" fill="#e0a020"/><circle cx="318" cy="593.6" r="2.2"/><circle cx="318" cy="593.6" r="0.6" fill="#e0a020"/><circle cx="347" cy="598.5" r="2.2"/><circle cx="347" cy="598.5" r="0.6" fill="#e0a020"/></g><g font-size="7" fill="#5a80d0"><text x="329" y="547">(110)</text><text x="364" y="554">(200)</text><text x="366.5" y="595">(110)</text></g><text x="280.8" y="632" font-size="12.3" fill="#4a70c0" textLength="58" lengthAdjust="spacingAndGlyphs">Z.A.=[001]</text><polygon points="360.5,631 368.5,631 364.5,624" fill="#4a70c0"/><text x="369.5" y="632" font-size="12" fill="#4a70c0" text-anchor="start" font-weight="normal" >B2</text><g clip-path="url(#cd2)"><rect x="393.2" y="409" width="151" height="151" fill="url(#gt2)"/><polygon points="393.2,382 544.2,446.9 544.2,465.9 393.2,401" fill="url(#gt2b)" /><polygon points="393.2,444.5 544.2,509.4 544.2,527.4 393.2,462.5" fill="url(#gt2b)" /><polygon points="393.2,508 544.2,572.9 544.2,590.9 393.2,526" fill="url(#gt2b)" /><rect x="393.2" y="409" width="151" height="151" fill="#000" filter="url(#nzA)" opacity="0.1"/><rect x="393.2" y="409" width="151" height="151" fill="#000" filter="url(#nzF)" opacity="0.12"/></g><text x="520.2" y="549.5" font-size="11.3" fill="#222" text-anchor="middle" font-weight="normal" textLength="39.5" lengthAdjust="spacingAndGlyphs">200 nm</text><rect x="509" y="552.3" width="22.3" height="2" fill="#111"/><g clip-path="url(#ceAl)"><rect x="546.8" y="409" width="73.2" height="73.8" fill="#6a0606"/><polygon points="546.8,399 620,428.3 620,436.3 546.8,407" fill="#c41a1a" /><polygon points="546.8,437 620,466.3 620,474.3 546.8,445" fill="#c41a1a" /><polygon points="546.8,461 620,490.3 620,498.3 546.8,469" fill="#c41a1a" /><rect x="546.8" y="409" width="73.2" height="73.8" fill="#000" filter="url(#nzF)" opacity="0.22"/><rect x="546.8" y="409" width="73.2" height="73.8" fill="#fff" filter="url(#nzW)" opacity="0.1"/><rect x="546.8" y="409" width="28.9" height="28.5" fill="#fff" opacity="0.62"/><text x="550.8" y="430" font-size="18" fill="#1a1a1a">Al</text></g><g clip-path="url(#ceCo)"><rect x="546.8" y="486" width="73.2" height="74" fill="#1c9420"/><polygon points="546.8,478 620,507.3 620,515.3 546.8,486" fill="#0a5e12" /><polygon points="546.8,515 620,544.3 620,552.3 546.8,523" fill="#0a5e12" /><polygon points="546.8,537 620,566.3 620,574.3 546.8,545" fill="#0a5e12" /><rect x="546.8" y="486" width="73.2" height="74" fill="#000" filter="url(#nzF)" opacity="0.22"/><rect x="546.8" y="486" width="73.2" height="74" fill="#fff" filter="url(#nzW)" opacity="0.1"/><rect x="546.8" y="486" width="28.9" height="28.5" fill="#fff" opacity="0.62"/><text x="550.8" y="507" font-size="18" fill="#1a1a1a">Co</text></g><g clip-path="url(#ceNi)"><rect x="393.3" y="562" width="74.2" height="73.9" fill="#0f9098"/><polygon points="393.3,550 467.5,579.7 467.5,588.7 393.3,559" fill="#22bcc4" /><polygon points="393.3,590.5 467.5,620.2 467.5,629.2 393.3,599.5" fill="#22bcc4" /><polygon points="393.3,610 467.5,639.7 467.5,648.7 393.3,619" fill="#22bcc4" /><rect x="393.3" y="562" width="74.2" height="73.9" fill="#000" filter="url(#nzF)" opacity="0.22"/><rect x="393.3" y="562" width="74.2" height="73.9" fill="#fff" filter="url(#nzW)" opacity="0.1"/><rect x="393.3" y="562" width="28.9" height="28.5" fill="#fff" opacity="0.62"/><text x="397.3" y="583" font-size="18" fill="#1a1a1a">Ni</text></g><g clip-path="url(#ceFe)"><rect x="470" y="562" width="74" height="73.9" fill="#a4a42a"/><polygon points="470,550 544,579.6 544,588.6 470,559" fill="#707018" /><polygon points="470,590.5 544,620.1 544,629.1 470,599.5" fill="#707018" /><polygon points="470,610 544,639.6 544,648.6 470,619" fill="#707018" /><rect x="470" y="562" width="74" height="73.9" fill="#000" filter="url(#nzF)" opacity="0.22"/><rect x="470" y="562" width="74" height="73.9" fill="#fff" filter="url(#nzW)" opacity="0.1"/><rect x="470" y="562" width="28.9" height="28.5" fill="#fff" opacity="0.62"/><text x="474" y="583" font-size="18" fill="#1a1a1a">Fe</text></g><g clip-path="url(#ceCr)"><rect x="546.8" y="562" width="73.2" height="73.9" fill="#1c30b8"/><polygon points="546.8,550 620,579.3 620,588.3 546.8,559" fill="#0e1c78" /><polygon points="546.8,590.5 620,619.8 620,628.8 546.8,599.5" fill="#0e1c78" /><polygon points="546.8,610 620,639.3 620,648.3 546.8,619" fill="#0e1c78" /><rect x="546.8" y="562" width="73.2" height="73.9" fill="#000" filter="url(#nzF)" opacity="0.22"/><rect x="546.8" y="562" width="73.2" height="73.9" fill="#fff" filter="url(#nzW)" opacity="0.1"/><rect x="546.8" y="562" width="28.9" height="28.5" fill="#fff" opacity="0.62"/><text x="550.8" y="583" font-size="18" fill="#1a1a1a">Cr</text></g><g clip-path="url(#ch1)"><rect x="46.7" y="640.4" width="227.1" height="226.2" fill="#909090"/><polygon points="46.7,640.4 273.8,640.4 273.8,790 46.7,706" fill="#646464" /><polygon points="46.7,700 273.8,784 273.8,800 46.7,716" fill="#4a4a4a" filter="url(#bl2)"/><rect x="46.7" y="640.4" width="227.1" height="226.2" fill="#000" filter="url(#nzA)" opacity="0.6"/><rect x="46.7" y="640.4" width="227.1" height="226.2" fill="#fff" filter="url(#nzB)" opacity="0.45"/><rect x="46.7" y="640.4" width="227.1" height="226.2" fill="#000" filter="url(#nzF)" opacity="0.35"/><rect x="46.7" y="640.4" width="227.1" height="226.2" fill="#fff" filter="url(#nzW)" opacity="0.3"/><g opacity="0.35" filter="url(#bl1)"><rect x="152" y="672" width="4" height="19" fill="#333"/><rect x="124" y="675" width="3" height="33" fill="#333"/><rect x="212" y="658" width="4" height="43" fill="#aaa"/><rect x="82" y="654" width="3" height="18" fill="#333"/><rect x="223" y="683" width="2" height="37" fill="#aaa"/><rect x="93" y="654" width="4" height="39" fill="#aaa"/><rect x="254" y="689" width="2" height="25" fill="#333"/><rect x="246" y="647" width="3" height="26" fill="#333"/><rect x="100" y="689" width="4" height="37" fill="#333"/><rect x="74" y="673" width="2" height="42" fill="#333"/><rect x="249" y="656" width="3" height="43" fill="#aaa"/><rect x="169" y="658" width="2" height="17" fill="#333"/><rect x="206" y="656" width="3" height="43" fill="#333"/><rect x="59" y="668" width="2" height="33" fill="#aaa"/><rect x="214" y="702" width="4" height="16" fill="#aaa"/><rect x="263" y="670" width="2" height="33" fill="#aaa"/><rect x="239" y="701" width="3" height="32" fill="#aaa"/><rect x="72" y="689" width="2" height="26" fill="#333"/><rect x="271" y="714" width="4" height="16" fill="#aaa"/><rect x="47" y="645" width="3" height="22" fill="#333"/><rect x="116" y="661" width="2" height="31" fill="#aaa"/><rect x="224" y="730" width="3" height="30" fill="#333"/><rect x="175" y="647" width="2" height="34" fill="#aaa"/><rect x="162" y="725" width="2" height="24" fill="#aaa"/><rect x="86" y="691" width="2" height="23" fill="#333"/><rect x="106" y="652" width="2" height="19" fill="#333"/><rect x="61" y="651" width="3" height="27" fill="#aaa"/><rect x="111" y="674" width="4" height="23" fill="#aaa"/><rect x="205" y="647" width="3" height="29" fill="#aaa"/><rect x="180" y="717" width="3" height="35" fill="#aaa"/><rect x="126" y="710" width="2" height="23" fill="#333"/><rect x="84" y="687" width="2" height="32" fill="#aaa"/><rect x="150" y="687" width="2" height="27" fill="#aaa"/><rect x="181" y="665" width="3" height="17" fill="#aaa"/><rect x="170" y="688" width="4" height="31" fill="#333"/><rect x="246" y="709" width="2" height="44" fill="#333"/><rect x="210" y="651" width="3" height="36" fill="#aaa"/><rect x="249" y="728" width="2" height="35" fill="#333"/><rect x="246" y="668" width="3" height="40" fill="#aaa"/><rect x="246" y="645" width="3" height="33" fill="#aaa"/></g><path d="M86,782 C89,800 88,815 92,825 C94,832 97,836 100,832 C98,815 94,800 88,782 Z" fill="#202020" filter="url(#bl1)"/><path d="M88,820 C80,828 76,836 80,842 C86,840 92,832 94,826 Z" fill="#303030" filter="url(#bl1)"/><ellipse cx="62" cy="825" rx="9" ry="14" fill="#2a2a2a" opacity="0.75" filter="url(#bl2)"/><ellipse cx="70" cy="852" rx="6" ry="10" fill="#d0d0d0" opacity="0.5" filter="url(#bl2)"/></g><rect x="134.3" y="666" width="37" height="37.5" fill="none" stroke="#4a70c0" stroke-width="1.2"/><text x="108.5" y="694" font-size="12.5" fill="#3a70d0" text-anchor="start" font-weight="bold" >B2</text><rect x="129" y="727" width="52.4" height="53.5" fill="none" stroke="#f0e020" stroke-width="1.3" stroke-dasharray="3,1.6"/><text x="150.5" y="761.5" font-size="18" fill="#fff" text-anchor="start" font-weight="bold" >d</text><rect x="112.2" y="804.2" width="35" height="34.2" fill="none" stroke="#e02020" stroke-width="1.1" stroke-dasharray="3,1.6"/><text x="155.5" y="827" font-size="13.5" fill="#e81818" text-anchor="start" font-weight="bold" >FCC</text><ellipse cx="82.8" cy="740" rx="3" ry="5.5" transform="rotate(35 82.8 740)" fill="#66aa44" opacity="0.6"/><ellipse cx="213" cy="792.6" rx="3" ry="5.5" transform="rotate(35 213 792.6)" fill="#66aa44" opacity="0.6"/><ellipse cx="247.3" cy="801.8" rx="3" ry="5.5" transform="rotate(35 247.3 801.8)" fill="#66aa44" opacity="0.6"/><rect x="211.9" y="841" width="56.5" height="21.6" fill="#fff"/><text x="240" y="855" font-size="11.3" fill="#111" text-anchor="middle" font-weight="normal" >10 nm</text><rect x="224.5" y="857.6" width="32.3" height="2" fill="#000"/><g clip-path="url(#cf640)"><rect x="278" y="640" width="111.8" height="111.5" fill="#0a0a0a"/><g mask="url(#mk640)"><rect x="278" y="640" width="111.8" height="111.5" fill="#fff" filter="url(#fspmk640)"/></g><ellipse cx="334" cy="694" rx="19.5" ry="26" fill="url(#rcmk640)"/><line x1="278" y1="668.7" x2="389.8" y2="668.7" stroke="#888" stroke-width="0.6" opacity="0.7"/><line x1="338.2" y1="640" x2="338.2" y2="751.5" stroke="#999" stroke-width="0.7" opacity="0.8"/><line x1="326.2" y1="668.7" x2="350.2" y2="668.7" stroke="#ddd" stroke-width="0.9"/><line x1="338.2" y1="654.7" x2="338.2" y2="682.7" stroke="#eee" stroke-width="1"/><line x1="278" y1="715.8" x2="389.8" y2="715.8" stroke="#888" stroke-width="0.6" opacity="0.7"/><line x1="330.2" y1="640" x2="330.2" y2="751.5" stroke="#999" stroke-width="0.7" opacity="0.8"/><line x1="318.2" y1="715.8" x2="342.2" y2="715.8" stroke="#ddd" stroke-width="0.9"/><line x1="330.2" y1="699.8" x2="330.2" y2="731.8" stroke="#eee" stroke-width="1"/><line x1="327" y1="691.6" x2="339" y2="691.6" stroke="#ddd" stroke-width="0.9"/><line x1="333" y1="685.6" x2="333" y2="697.6" stroke="#eee" stroke-width="1"/><circle cx="338.2" cy="668.7" r="3.6" fill="#fff" opacity="0.35" filter="url(#glow)"/><circle cx="338.2" cy="668.7" r="2" fill="#fff"/><line x1="332.2" y1="668.7" x2="344.2" y2="668.7" stroke="#ddd" stroke-width="0.6"/><line x1="338.2" y1="662.7" x2="338.2" y2="674.7" stroke="#ddd" stroke-width="0.6"/><circle cx="330.2" cy="715.8" r="3.6" fill="#fff" opacity="0.35" filter="url(#glow)"/><circle cx="330.2" cy="715.8" r="2" fill="#fff"/><line x1="324.2" y1="715.8" x2="336.2" y2="715.8" stroke="#ddd" stroke-width="0.6"/><line x1="330.2" y1="709.8" x2="330.2" y2="721.8" stroke="#ddd" stroke-width="0.6"/><circle cx="333" cy="691.6" r="2.7" fill="#fff" opacity="0.35" filter="url(#glow)"/><circle cx="333" cy="691.6" r="1.5" fill="#fff"/><line x1="328.5" y1="691.6" x2="337.5" y2="691.6" stroke="#ddd" stroke-width="0.6"/><line x1="333" y1="687.1" x2="333" y2="696.1" stroke="#ddd" stroke-width="0.6"/><circle cx="310" cy="697" r="1.8" fill="#fff" opacity="0.35" filter="url(#glow)"/><circle cx="310" cy="697" r="1" fill="#fff"/><line x1="307" y1="697" x2="313" y2="697" stroke="#ddd" stroke-width="0.6"/><line x1="310" y1="694" x2="310" y2="700" stroke="#ddd" stroke-width="0.6"/><circle cx="358" cy="687.5" r="1.8" fill="#fff" opacity="0.35" filter="url(#glow)"/><circle cx="358" cy="687.5" r="1" fill="#fff"/><line x1="355" y1="687.5" x2="361" y2="687.5" stroke="#ddd" stroke-width="0.6"/><line x1="358" y1="684.5" x2="358" y2="690.5" stroke="#ddd" stroke-width="0.6"/><circle cx="318" cy="650" r="1.4" fill="#fff" opacity="0.35" filter="url(#glow)"/><circle cx="318" cy="650" r="0.8" fill="#fff"/><circle cx="342" cy="646" r="1.4" fill="#fff" opacity="0.35" filter="url(#glow)"/><circle cx="342" cy="646" r="0.8" fill="#fff"/><circle cx="325" cy="740" r="1.6" fill="#fff" opacity="0.35" filter="url(#glow)"/><circle cx="325" cy="740" r="0.9" fill="#fff"/><circle cx="350" cy="736" r="1.3" fill="#fff" opacity="0.35" filter="url(#glow)"/><circle cx="350" cy="736" r="0.7" fill="#fff"/><circle cx="301" cy="673" r="0.9" fill="#fff" opacity="0.35" filter="url(#glow)"/><circle cx="301" cy="673" r="0.5" fill="#fff"/><circle cx="366" cy="705" r="1.1" fill="#fff" opacity="0.35" filter="url(#glow)"/><circle cx="366" cy="705" r="0.6" fill="#fff"/></g><text x="387.3" y="655.5" font-size="13.5" fill="#e02020" text-anchor="end" font-weight="normal" >FFT</text><text x="387.8" y="747.5" font-size="15.5" fill="#e02020" text-anchor="end" font-weight="normal" >[011]</text><g clip-path="url(#cf755)"><rect x="278" y="755" width="111.8" height="112" fill="#0a0a0a"/><g mask="url(#mk755)"><rect x="278" y="755" width="111.8" height="112" fill="#fff" filter="url(#fspmk755)"/></g><ellipse cx="335.8" cy="809.8" rx="26" ry="26" fill="url(#rcmk755)"/><circle cx="348.5" cy="812.3" r="2" fill="#fff" opacity="0.35" filter="url(#glow)"/><circle cx="348.5" cy="812.3" r="1.1" fill="#fff"/><line x1="345.2" y1="812.3" x2="351.8" y2="812.3" stroke="#ddd" stroke-width="0.6"/><line x1="348.5" y1="809" x2="348.5" y2="815.6" stroke="#ddd" stroke-width="0.6"/><circle cx="339.9" cy="821.5" r="2" fill="#fff" opacity="0.35" filter="url(#glow)"/><circle cx="339.9" cy="821.5" r="1.1" fill="#fff"/><line x1="336.6" y1="821.5" x2="343.2" y2="821.5" stroke="#ddd" stroke-width="0.6"/><line x1="339.9" y1="818.2" x2="339.9" y2="824.8" stroke="#ddd" stroke-width="0.6"/><circle cx="327.2" cy="819.1" r="2" fill="#fff" opacity="0.35" filter="url(#glow)"/><circle cx="327.2" cy="819.1" r="1.1" fill="#fff"/><line x1="323.9" y1="819.1" x2="330.5" y2="819.1" stroke="#ddd" stroke-width="0.6"/><line x1="327.2" y1="815.8" x2="327.2" y2="822.4" stroke="#ddd" stroke-width="0.6"/><circle cx="323.1" cy="807.3" r="2" fill="#fff" opacity="0.35" filter="url(#glow)"/><circle cx="323.1" cy="807.3" r="1.1" fill="#fff"/><line x1="319.8" y1="807.3" x2="326.4" y2="807.3" stroke="#ddd" stroke-width="0.6"/><line x1="323.1" y1="804" x2="323.1" y2="810.6" stroke="#ddd" stroke-width="0.6"/><circle cx="331.7" cy="798.1" r="2" fill="#fff" opacity="0.35" filter="url(#glow)"/><circle cx="331.7" cy="798.1" r="1.1" fill="#fff"/><line x1="328.4" y1="798.1" x2="335" y2="798.1" stroke="#ddd" stroke-width="0.6"/><line x1="331.7" y1="794.8" x2="331.7" y2="801.4" stroke="#ddd" stroke-width="0.6"/><circle cx="344.4" cy="800.5" r="2" fill="#fff" opacity="0.35" filter="url(#glow)"/><circle cx="344.4" cy="800.5" r="1.1" fill="#fff"/><line x1="341.1" y1="800.5" x2="347.7" y2="800.5" stroke="#ddd" stroke-width="0.6"/><line x1="344.4" y1="797.2" x2="344.4" y2="803.8" stroke="#ddd" stroke-width="0.6"/><circle cx="353.8" cy="824.8" r="2" fill="#fff" opacity="0.35" filter="url(#glow)"/><circle cx="353.8" cy="824.8" r="1.1" fill="#fff"/><line x1="350.5" y1="824.8" x2="357.1" y2="824.8" stroke="#ddd" stroke-width="0.6"/><line x1="353.8" y1="821.5" x2="353.8" y2="828.1" stroke="#ddd" stroke-width="0.6"/><circle cx="331.1" cy="832.2" r="2" fill="#fff" opacity="0.35" filter="url(#glow)"/><circle cx="331.1" cy="832.2" r="1.1" fill="#fff"/><line x1="327.8" y1="832.2" x2="334.4" y2="832.2" stroke="#ddd" stroke-width="0.6"/><line x1="331.1" y1="828.9" x2="331.1" y2="835.5" stroke="#ddd" stroke-width="0.6"/><circle cx="313.1" cy="817.1" r="2" fill="#fff" opacity="0.35" filter="url(#glow)"/><circle cx="313.1" cy="817.1" r="1.1" fill="#fff"/><line x1="309.8" y1="817.1" x2="316.4" y2="817.1" stroke="#ddd" stroke-width="0.6"/><line x1="313.1" y1="813.8" x2="313.1" y2="820.4" stroke="#ddd" stroke-width="0.6"/><circle cx="317.8" cy="794.8" r="2" fill="#fff" opacity="0.35" filter="url(#glow)"/><circle cx="317.8" cy="794.8" r="1.1" fill="#fff"/><line x1="314.5" y1="794.8" x2="321.1" y2="794.8" stroke="#ddd" stroke-width="0.6"/><line x1="317.8" y1="791.5" x2="317.8" y2="798.1" stroke="#ddd" stroke-width="0.6"/><circle cx="340.5" cy="787.4" r="2" fill="#fff" opacity="0.35" filter="url(#glow)"/><circle cx="340.5" cy="787.4" r="1.1" fill="#fff"/><line x1="337.2" y1="787.4" x2="343.8" y2="787.4" stroke="#ddd" stroke-width="0.6"/><line x1="340.5" y1="784.1" x2="340.5" y2="790.7" stroke="#ddd" stroke-width="0.6"/><circle cx="358.5" cy="802.5" r="2" fill="#fff" opacity="0.35" filter="url(#glow)"/><circle cx="358.5" cy="802.5" r="1.1" fill="#fff"/><line x1="355.2" y1="802.5" x2="361.8" y2="802.5" stroke="#ddd" stroke-width="0.6"/><line x1="358.5" y1="799.2" x2="358.5" y2="805.8" stroke="#ddd" stroke-width="0.6"/><circle cx="373.8" cy="809.8" r="1.6" fill="#fff" opacity="0.35" filter="url(#glow)"/><circle cx="373.8" cy="809.8" r="0.9" fill="#fff"/><circle cx="368.7" cy="827.8" r="1.6" fill="#fff" opacity="0.35" filter="url(#glow)"/><circle cx="368.7" cy="827.8" r="0.9" fill="#fff"/><circle cx="354.8" cy="841.1" r="1.6" fill="#fff" opacity="0.35" filter="url(#glow)"/><circle cx="354.8" cy="841.1" r="0.9" fill="#fff"/><circle cx="335.8" cy="845.9" r="1.6" fill="#fff" opacity="0.35" filter="url(#glow)"/><circle cx="335.8" cy="845.9" r="0.9" fill="#fff"/><circle cx="316.8" cy="841.1" r="1.6" fill="#fff" opacity="0.35" filter="url(#glow)"/><circle cx="316.8" cy="841.1" r="0.9" fill="#fff"/><circle cx="302.9" cy="827.8" r="1.6" fill="#fff" opacity="0.35" filter="url(#glow)"/><circle cx="302.9" cy="827.8" r="0.9" fill="#fff"/><circle cx="297.8" cy="809.8" r="1.6" fill="#fff" opacity="0.35" filter="url(#glow)"/><circle cx="297.8" cy="809.8" r="0.9" fill="#fff"/><circle cx="302.9" cy="791.8" r="1.6" fill="#fff" opacity="0.35" filter="url(#glow)"/><circle cx="302.9" cy="791.8" r="0.9" fill="#fff"/><circle cx="316.8" cy="778.5" r="1.6" fill="#fff" opacity="0.35" filter="url(#glow)"/><circle cx="316.8" cy="778.5" r="0.9" fill="#fff"/><circle cx="335.8" cy="773.7" r="1.6" fill="#fff" opacity="0.35" filter="url(#glow)"/><circle cx="335.8" cy="773.7" r="0.9" fill="#fff"/><circle cx="354.8" cy="778.5" r="1.6" fill="#fff" opacity="0.35" filter="url(#glow)"/><circle cx="354.8" cy="778.5" r="0.9" fill="#fff"/><circle cx="368.7" cy="791.7" r="1.6" fill="#fff" opacity="0.35" filter="url(#glow)"/><circle cx="368.7" cy="791.7" r="0.9" fill="#fff"/><circle cx="377" cy="831.2" r="1.6" fill="#fff" opacity="0.35" filter="url(#glow)"/><circle cx="377" cy="831.2" r="0.9" fill="#fff"/><circle cx="336.9" cy="854.4" r="1.6" fill="#fff" opacity="0.35" filter="url(#glow)"/><circle cx="336.9" cy="854.4" r="0.9" fill="#fff"/><circle cx="295.7" cy="833" r="1.6" fill="#fff" opacity="0.35" filter="url(#glow)"/><circle cx="295.7" cy="833" r="0.9" fill="#fff"/><circle cx="294.6" cy="788.4" r="1.6" fill="#fff" opacity="0.35" filter="url(#glow)"/><circle cx="294.6" cy="788.4" r="0.9" fill="#fff"/><circle cx="334.7" cy="765.2" r="1.6" fill="#fff" opacity="0.35" filter="url(#glow)"/><circle cx="334.7" cy="765.2" r="0.9" fill="#fff"/><circle cx="375.9" cy="786.6" r="1.6" fill="#fff" opacity="0.35" filter="url(#glow)"/><circle cx="375.9" cy="786.6" r="0.9" fill="#fff"/><circle cx="335.8" cy="809.8" r="2.5" fill="#fff" opacity="0.35" filter="url(#glow)"/><circle cx="335.8" cy="809.8" r="1.4" fill="#fff"/><line x1="331.6" y1="809.8" x2="340" y2="809.8" stroke="#ddd" stroke-width="0.6"/><line x1="335.8" y1="805.6" x2="335.8" y2="814" stroke="#ddd" stroke-width="0.6"/></g><text x="387.3" y="770.5" font-size="13.5" fill="#4a70d0" text-anchor="end" font-weight="normal" >FFT</text><text x="387.8" y="863" font-size="15.5" fill="#4a70d0" text-anchor="end" font-weight="normal" >[001]</text><g clip-path="url(#ch2)"><rect x="393.2" y="639.6" width="227.5" height="227" fill="url(#lat)"/><polygon points="393.2,716 403,723 470,760 545,798 620.7,843 620.7,866.6 393.2,866.6" fill="url(#lat3)" /><ellipse cx="430" cy="680" rx="40" ry="25" fill="#000" opacity="0.2" filter="url(#bl6)"/><ellipse cx="600" cy="660" rx="30" ry="30" fill="#000" opacity="0.2" filter="url(#bl6)"/><path d="M400,700 L470,745 L545,785 L620,830 L620,800 L540,760 L470,715 L400,680 Z" fill="#fff" opacity="0.18" filter="url(#bl6)"/><ellipse cx="420" cy="840" rx="35" ry="25" fill="#fff" opacity="0.08" filter="url(#bl6)"/><rect x="393.2" y="639.6" width="227.5" height="227" fill="#000" filter="url(#nzF)" opacity="0.25"/></g><polyline points="393.2,711 403,723 416,719 426,735 440,729 450,745 460,741 470,760 486,757 497,771 508,766 517,790 533,787 545,798 556,795 563,808 575,815 592,815 602,827 612,826 620.7,843" fill="none" stroke="#e8e040" stroke-width="1.3" stroke-dasharray="2,1"/><g stroke="#4a80d8" stroke-width="1" fill="none"><line x1="511" y1="664" x2="569" y2="674"/><line x1="506" y1="679" x2="562" y2="688"/><line x1="569" y1="652" x2="569" y2="690"/><line x1="562" y1="670" x2="562" y2="700"/><line x1="537" y1="705" x2="537" y2="745"/><line x1="537" y1="743" x2="576" y2="753"/></g><circle cx="537" cy="743" r="2" fill="#4a80d8"/><circle cx="562" cy="682" r="1.8" fill="#4a80d8"/><g font-size="11.5" fill="#4a80d8"><text x="500" y="716">[110]</text><text x="545" y="735">[001]<tspan font-size="8" dy="2.5">B2</tspan></text><text x="547" y="766">[110]</text></g><text x="506" y="686" font-size="4.5" fill="#4a80d8" transform="rotate(8 506 686)">0.2087 nm</text><g stroke="#e02020" stroke-width="1" fill="none"><line x1="404" y1="831" x2="460" y2="840"/><line x1="404" y1="838" x2="460" y2="847"/><line x1="458" y1="815" x2="458" y2="864"/><line x1="493" y1="803" x2="501" y2="829"/><line x1="501" y1="829" x2="535" y2="832"/></g><circle cx="458" cy="841" r="1.8" fill="#e02020"/><circle cx="499" cy="829" r="2" fill="#e02020"/><g font-size="11.5" fill="#e02020"><text x="458" y="813">(111)</text><text x="506" y="823">[011]<tspan font-size="8" dy="2.5">FCC</tspan></text><text x="501" y="853">(111)</text></g><text x="402" y="828" font-size="4.5" fill="#e02020" transform="rotate(8 402 828)">0.2058 nm</text><rect x="557.4" y="841.8" width="57.8" height="22" fill="#fff"/><text x="586" y="855" font-size="11.3" fill="#111" text-anchor="middle" font-weight="normal" >2 nm</text><rect x="575.5" y="859" width="19" height="2" fill="#000"/><text x="654" y="404" font-size="24.5" fill="#000" text-anchor="start" font-weight="normal" letter-spacing="1.2">(e)</text><text x="748.6" y="420.5" font-size="12.5" fill="#333" text-anchor="middle" font-weight="bold" >All</text><g clip-path="url(#ctAll)"><rect x="723" y="430" width="51.3" height="168" fill="#7e78a0"/><rect x="723" y="430" width="51.3" height="168" fill="#fff" filter="url(#nzW)" opacity="0.5"/><rect x="723" y="430" width="51.3" height="168" fill="#000" filter="url(#nzF)" opacity="0.25"/><polygon points="744,426 770,426 777,505 766,515" fill="#30b0a8" opacity="0.6" filter="url(#bl2)"/></g><text x="843.4" y="420.5" font-size="12.5" fill="#333" text-anchor="middle" font-weight="bold" >Al</text><g clip-path="url(#ctAl)"><rect x="820" y="430" width="49.7" height="168" fill="#8cd8f0"/><rect x="820" y="430" width="49.7" height="168" fill="#fff" filter="url(#nzW)" opacity="0.75"/><rect x="820" y="430" width="49.7" height="168" fill="#000" filter="url(#nzF)" opacity="0.25"/><polygon points="840,428 862,428 868,520 852,540" fill="#30b8e8" opacity="0.5" filter="url(#bl2)"/></g><text x="937.4" y="420.5" font-size="12.5" fill="#333" text-anchor="middle" font-weight="bold" >Co</text><g clip-path="url(#ctCo)"><rect x="912.5" y="430" width="47" height="168" fill="#8282ea"/><rect x="912.5" y="430" width="47" height="168" fill="#fff" filter="url(#nzW)" opacity="0.75"/><rect x="912.5" y="430" width="47" height="168" fill="#000" filter="url(#nzF)" opacity="0.25"/></g><text x="1029.4" y="420.5" font-size="12.5" fill="#333" text-anchor="middle" font-weight="bold" >Cr</text><g clip-path="url(#ctCr)"><rect x="1005.6" y="430" width="50.4" height="168" fill="#f4b0ec"/><rect x="1005.6" y="430" width="50.4" height="168" fill="#fff" filter="url(#nzW)" opacity="0.75"/><rect x="1005.6" y="430" width="50.4" height="168" fill="#000" filter="url(#nzF)" opacity="0.25"/><polygon points="1026,428 1045,428 1052,520 1040,540" fill="#fff" opacity="0.7" filter="url(#bl2)"/></g><text x="1122" y="420.5" font-size="12.5" fill="#333" text-anchor="middle" font-weight="bold" >Fe</text><g clip-path="url(#ctFe)"><rect x="1098" y="430" width="49" height="168" fill="#f8d2a0"/><rect x="1098" y="430" width="49" height="168" fill="#fff" filter="url(#nzW)" opacity="0.75"/><rect x="1098" y="430" width="49" height="168" fill="#000" filter="url(#nzF)" opacity="0.25"/><polygon points="1124,428 1140,428 1146,520 1134,540" fill="#fff" opacity="0.5" filter="url(#bl2)"/></g><text x="1215.6" y="420.5" font-size="12.5" fill="#333" text-anchor="middle" font-weight="bold" >Ni</text><g clip-path="url(#ctNi)"><rect x="1191" y="430" width="47.6" height="168" fill="#9edea8"/><rect x="1191" y="430" width="47.6" height="168" fill="#fff" filter="url(#nzW)" opacity="0.75"/><rect x="1191" y="430" width="47.6" height="168" fill="#000" filter="url(#nzF)" opacity="0.25"/></g><text x="744.5" y="441.5" font-size="11.5" fill="#1a4048" text-anchor="start" font-weight="bold" >B2</text><text x="734.5" y="512" font-size="11.5" fill="#1a2a3a" text-anchor="start" font-weight="bold" >FCC</text><g fill="#000"><line x1="704.4" y1="436" x2="704.4" y2="592" stroke="#000" stroke-width="1.6"/><polygon points="704.4,429 700.5,438 708.3,438"/><polygon points="704.4,599 700.5,590 708.3,590"/></g><text transform="translate(695,514) rotate(-90)" font-size="11.5" fill="#222" text-anchor="middle">150 nm</text><text x="754.5" y="627.5" font-size="16.4" fill="#d860c8" textLength="173" lengthAdjust="spacingAndGlyphs">17 at.% Cr <tspan fill="#222">+</tspan> <tspan fill="#80b060">30 at.% Ni</tspan></text><text x="1079.5" y="627" font-size="16.4" fill="#30b0d8" text-anchor="start" font-weight="normal" textLength="76" lengthAdjust="spacingAndGlyphs">12 at.% Al</text><polygon points="711.2,678 712,686 735,682 756.3,677 780,670 807.5,662.5 830,656 848.5,651 865,646 879.3,641.5 885.4,636.2 878,633.5 869,634.1 850,637 828,641 810,644.5 793.2,648 785,650 766.5,655 750,660 735.8,666 720,672" fill="url(#grod)" /><g><path fill="#e060d0" d="M746 675 743 677 741 676 741 674 743 674zM770 666 768 668 767 667 768 666 769 666zM850 644 849 645 847 645 847 643 849 642zM767 667 765 671 760 669 760 665 765 665zM719 679 718 680 716 680 716 678 718 677zM769 666 768 668 763 668 762 665 767 664zM827 654 826 655 822 655 823 652 825 652zM744 674 742 675 739 675 739 671 743 671zM855 646 852 648 849 648 849 645 852 644z"/><path fill="#2e8a28" d="M852 644 849 647 845 647 846 643 850 642zM822 652 820 655 818 653 818 650 820 650zM724 680 722 682 719 681 719 678 721 678zM842 647 839 649 833 648 835 644 838 644zM831 652 831 653 828 653 829 651 830 651zM799 658 798 659 796 658 797 657 799 656zM781 663 781 664 779 664 779 662 781 662zM772 665 770 668 767 667 766 664 771 662zM787 665 785 667 784 666 783 664 786 663zM728 678 727 680 725 679 725 678 727 677zM738 672 736 674 734 674 734 671 736 672zM796 659 795 661 793 659 793 658 795 658zM852 647 849 650 845 648 845 644 850 644zM829 650 827 652 825 652 824 650 827 648zM836 652 834 653 831 653 830 650 833 649zM771 665 768 669 765 667 763 664 768 664zM734 678 733 679 731 678 730 677 733 676zM867 643 865 645 864 644 864 642 865 641zM724 682 724 685 718 682 717 680 721 679z"/><path fill="#3a9a30" d="M720 682 719 683 718 682 717 681 719 680zM810 658 808 661 805 660 806 658 808 657zM872 641 869 643 866 642 866 639 870 639zM828 652 827 654 826 652 826 651 828 650zM863 643 861 646 857 644 858 640 863 639zM882 638 880 639 879 639 879 637 881 637zM743 671 742 673 741 672 740 670 742 671zM867 642 864 645 860 644 858 641 863 640zM829 650 826 653 822 652 821 649 825 649zM835 650 833 653 828 651 828 649 832 647zM728 677 726 678 722 678 721 675 726 674zM746 675 744 676 741 677 741 674 745 673z"/><path fill="#8a2a88" d="M754 674 751 678 748 676 748 673 752 673zM861 642 858 644 856 643 856 642 859 641zM862 642 861 643 859 643 858 641 861 641zM757 667 756 668 754 668 754 666 756 666zM749 670 747 671 745 671 744 668 748 668zM750 670 749 672 746 671 747 669 749 668zM738 679 738 681 733 681 733 677 736 676zM792 662 790 665 787 663 787 660 790 660zM870 640 868 643 864 641 864 638 870 636zM804 657 803 659 799 658 800 655 803 655zM832 653 830 656 825 655 825 652 828 650zM862 642 861 646 856 644 857 642 861 640zM832 649 830 653 825 651 825 648 829 647zM871 638 871 641 867 640 867 638 869 636zM805 657 803 661 798 659 799 657 802 656z"/><path fill="#d050c0" d="M852 646 851 647 849 647 849 645 850 645zM750 669 749 671 747 670 747 669 749 668zM758 673 757 675 755 674 755 671 756 672zM805 658 803 661 801 660 800 657 803 655zM752 669 751 671 749 670 749 669 751 668zM779 666 778 668 776 668 775 666 778 665zM751 672 750 673 749 673 748 671 750 671zM838 648 837 649 835 649 835 647 837 647zM779 663 776 664 774 664 774 662 777 662zM847 648 846 650 844 648 844 647 846 646zM879 639 877 641 873 640 875 638 877 637zM878 637 877 639 875 638 875 636 876 635zM884 638 883 639 881 639 880 636 884 636zM748 676 747 678 743 678 743 675 747 674zM827 651 825 652 823 652 823 650 826 649z"/></g><g><path fill="#2e9424" d="M878 700 877 701 875 700 875 699 877 697zM908 672 905 674 903 674 903 671 906 670zM947 664 945 667 942 666 942 664 945 663zM934 697 933 698 931 697 930 696 933 696zM938 673 938 675 934 675 934 672 937 671zM893 664 890 666 887 665 888 662 891 661zM907 672 905 673 902 673 902 669 905 670zM932 660 930 662 928 660 927 659 930 657zM922 677 920 679 917 679 917 676 920 676zM886 658 884 660 882 659 882 658 884 657zM951 672 949 675 945 674 946 670 950 670zM941 678 941 681 936 680 936 677 940 677zM941 648 939 650 936 649 934 646 938 646zM928 661 926 663 923 663 923 660 926 660zM965 654 963 656 959 656 958 653 964 651zM882 693 880 695 876 694 877 692 881 691zM951 648 950 650 948 649 948 647 951 647zM952 692 950 694 949 693 948 691 950 691zM879 666 878 668 874 667 875 665 877 665zM943 667 941 669 938 668 938 666 941 666zM966 695 964 697 960 696 960 694 963 693zM885 668 882 670 879 669 879 666 882 665zM921 680 920 683 916 682 917 679 919 677zM924 691 923 693 919 692 919 690 922 689zM951 670 948 671 946 671 947 669 949 669zM963 661 963 662 960 661 960 660 962 660zM857 669 856 670 855 670 854 668 856 667zM947 680 946 682 943 681 944 678 946 678zM892 701 891 703 886 703 886 699 890 699zM882 660 880 661 876 662 876 657 879 658zM944 657 942 659 941 658 940 657 943 656zM891 692 890 694 888 693 888 692 890 691zM910 701 909 702 907 701 905 699 909 698zM868 695 867 697 865 697 865 695 866 694zM933 664 933 666 931 665 930 664 933 663zM912 673 910 674 908 674 909 672 910 672zM881 675 881 677 878 676 876 674 880 673zM852 690 850 692 848 691 849 690 851 689zM907 659 906 660 904 660 904 659 906 658zM887 667 883 670 880 669 881 666 883 664zM945 689 942 692 940 690 940 687 944 688zM870 701 869 702 867 701 866 700 869 700zM908 698 907 699 904 699 904 697 907 697zM902 682 901 685 898 684 897 681 901 680zM899 678 898 679 896 678 896 677 898 677zM899 667 898 669 896 668 895 666 898 665zM891 692 890 695 888 694 887 692 890 691zM907 662 904 664 900 664 900 659 905 659zM955 688 954 690 951 690 951 686 955 686zM906 688 904 692 900 690 900 687 904 686zM875 680 875 681 873 681 872 679 874 679zM917 695 916 697 913 696 913 694 915 694zM887 655 886 657 884 656 884 654 887 654zM963 648 959 651 956 649 955 647 961 646zM847 688 846 689 844 689 844 687 846 687zM914 659 912 660 910 660 910 658 912 657zM949 683 947 685 943 683 945 681 947 680zM903 652 900 654 897 654 898 651 901 651zM901 693 899 694 896 694 896 691 899 692zM965 651 963 653 961 652 961 650 963 649zM916 669 914 672 909 671 910 669 913 667zM890 685 889 687 885 686 886 684 889 683zM906 675 904 677 900 676 901 673 903 672zM934 664 932 668 927 666 928 662 932 660zM932 694 931 696 928 696 928 693 931 693zM921 677 921 679 919 678 918 676 921 676zM836 673 835 675 833 674 833 673 834 673zM944 696 943 699 939 698 940 696 942 695zM875 694 873 697 871 695 870 693 873 692zM881 691 880 693 877 693 877 691 879 690zM891 672 889 676 885 674 885 671 889 671zM892 660 890 661 887 661 888 659 890 658zM829 683 828 684 827 684 827 683 828 683zM936 674 935 675 933 674 932 673 935 672zM898 688 898 689 896 689 896 687 897 687zM923 690 921 692 918 691 917 689 920 688zM849 689 849 690 847 689 847 689 849 689zM889 662 887 664 883 664 885 660 888 659zM925 702 923 704 920 703 920 702 924 701zM965 684 963 686 961 685 960 682 964 681zM921 686 920 686 918 686 918 685 920 684zM945 687 943 689 939 688 941 685 943 683zM912 676 912 677 910 677 909 674 912 674zM950 665 948 667 945 666 944 663 948 663zM871 661 868 662 867 662 867 660 869 660zM914 690 913 691 911 691 911 689 913 688zM925 697 924 698 923 698 923 696 925 696zM887 670 886 673 882 672 881 668 885 667zM938 642 936 643 934 643 935 641 937 640zM926 669 923 672 921 671 920 668 924 666zM884 667 882 668 878 668 880 665 883 663zM916 684 914 686 912 686 912 684 914 683zM955 646 952 649 949 648 949 645 952 644zM883 661 880 664 876 662 877 659 881 659zM958 699 957 701 953 700 953 698 956 695zM857 693 856 693 855 693 855 692 856 692zM891 657 889 660 886 660 886 656 888 656zM924 696 922 697 919 697 920 694 923 694zM953 658 953 662 947 660 947 658 952 657zM868 694 867 695 864 695 865 693 867 692zM946 666 945 667 943 667 942 665 944 665zM877 671 876 674 873 673 872 669 875 668zM873 683 871 686 868 685 869 683 871 682zM873 681 871 684 868 682 868 681 871 680zM934 691 933 693 930 692 930 689 933 689zM963 669 961 670 959 670 959 669 963 667zM927 692 925 693 923 694 924 691 927 690zM915 663 913 664 911 663 912 661 914 661zM932 658 932 660 928 660 928 658 931 656zM846 694 845 696 843 696 843 694 845 693zM892 659 890 660 887 661 888 658 891 657zM907 701 904 703 901 702 902 699 905 699zM869 683 866 686 863 684 864 682 866 680zM879 690 877 692 876 691 875 689 877 689zM862 686 861 688 859 687 859 685 861 685zM937 688 935 691 931 691 931 686 935 686zM924 665 922 667 921 667 920 665 923 665zM916 672 914 675 910 674 910 672 915 671zM931 659 929 661 928 660 928 658 930 658zM931 691 930 693 927 692 927 690 929 689zM848 686 847 687 845 686 845 685 847 685zM960 644 958 645 955 645 955 642 958 641zM965 672 961 675 958 675 956 671 961 670zM886 698 884 701 882 700 882 698 885 697zM960 691 959 694 954 693 953 690 958 689zM916 672 914 673 911 673 911 670 915 670zM950 658 948 659 946 657 946 656 948 656zM914 681 912 684 911 682 910 681 913 680zM961 673 960 673 958 673 958 672 959 671zM913 682 911 683 910 682 910 681 912 681zM903 701 902 702 901 702 901 701 902 700zM917 686 914 687 910 687 910 684 914 682zM925 668 921 671 917 670 918 667 920 667zM886 675 887 677 883 676 883 673 886 673zM915 698 914 699 912 699 911 696 914 696zM908 674 907 676 905 675 904 673 907 672zM902 686 900 687 898 687 899 684 901 684zM929 702 928 705 924 705 924 701 928 700zM944 646 943 649 941 647 939 645 942 644zM878 697 878 698 875 698 875 697 878 696zM886 672 885 674 884 672 884 671 886 671z"/><path fill="#44a830" d="M854 666 852 667 850 666 850 665 852 664zM922 685 920 686 917 686 917 683 920 682zM844 666 843 667 842 667 842 665 843 664zM953 670 951 671 950 671 950 669 952 668zM924 657 921 659 918 658 918 655 921 655zM961 675 959 676 957 675 956 673 959 672zM914 665 911 667 909 666 908 664 911 663zM870 702 869 703 866 703 866 700 867 700zM914 661 913 662 911 662 909 660 913 659zM908 686 907 688 905 687 905 685 908 685zM932 696 930 698 928 698 928 696 931 695zM946 659 944 660 942 660 942 658 945 657zM956 680 955 681 951 681 951 678 955 678zM930 660 928 663 924 662 924 659 928 658zM927 694 925 696 924 696 923 693 926 692zM887 702 885 705 883 704 883 701 886 701zM900 676 898 678 892 678 894 675 898 673zM955 687 954 689 951 688 951 686 953 685zM910 703 908 704 906 704 907 702 908 701zM917 698 916 700 911 699 914 697 916 696zM873 663 871 665 868 665 868 662 870 661zM954 683 953 685 950 685 950 683 952 682zM863 681 861 682 859 681 859 680 861 679zM964 663 962 665 959 663 959 660 963 661zM877 667 873 671 871 670 871 666 873 665zM849 698 848 699 847 699 847 697 849 697zM905 660 903 662 901 660 901 658 903 657zM929 666 928 668 925 667 924 665 928 664zM883 702 879 703 877 702 877 699 880 698zM879 698 878 700 874 700 875 696 877 696zM953 676 950 679 947 678 946 675 950 675zM905 701 904 703 901 702 901 700 904 700zM931 699 930 701 928 700 927 698 930 698zM947 658 945 659 943 658 943 657 945 656zM952 652 951 653 948 653 948 650 951 649zM948 640 948 644 942 642 943 640 946 637zM908 656 907 658 905 657 904 656 906 655zM950 665 949 666 948 666 948 665 950 664zM916 701 915 703 913 702 913 700 916 699zM922 676 920 677 917 676 918 675 921 674zM881 657 880 660 876 659 877 657 880 655zM891 694 890 695 888 695 889 694 890 693zM926 663 926 664 923 663 923 662 924 662zM941 669 939 671 937 671 937 669 940 668zM855 700 855 701 854 701 854 700 854 700zM871 664 868 665 865 664 864 663 868 662zM872 666 871 668 869 668 870 666 871 665zM894 689 893 690 891 690 891 688 893 687zM957 688 955 690 953 689 952 687 955 687zM886 667 884 671 879 670 881 666 884 665zM948 660 946 661 943 661 943 659 946 658zM964 682 961 684 959 683 958 680 962 679zM832 701 830 702 828 702 828 700 829 700zM966 686 963 689 959 689 960 685 962 684zM939 663 938 666 936 664 936 663 939 662zM928 701 926 704 923 703 922 700 926 700zM912 679 910 681 909 680 908 677 911 677zM946 641 943 644 941 642 939 639 944 639zM886 662 885 664 881 662 881 660 885 659zM873 661 871 662 870 662 870 661 872 660zM907 654 906 657 904 656 902 653 907 652zM923 693 921 694 918 693 918 691 921 691zM961 686 959 687 958 688 958 686 959 686zM936 653 935 655 932 654 932 652 934 651zM866 701 864 702 862 702 862 700 864 699zM931 688 929 690 926 689 925 686 929 685zM911 671 908 675 904 674 905 671 909 669zM924 675 923 678 920 677 919 673 923 673zM893 668 891 670 887 668 887 667 890 665zM929 686 926 688 923 688 923 685 927 685zM947 690 947 693 943 692 943 690 946 689zM954 666 950 669 947 669 946 666 951 664zM936 662 932 664 928 664 928 661 932 660zM915 699 913 701 910 701 911 698 914 697zM964 692 960 694 957 693 957 689 961 688zM848 665 848 666 847 665 846 664 848 664zM915 664 913 666 909 664 909 662 913 660zM886 680 885 682 881 681 882 678 884 678zM953 673 952 675 949 675 949 673 952 672zM925 664 923 665 921 665 921 664 922 662zM957 683 956 685 952 684 953 682 955 682zM950 655 949 656 947 656 947 655 949 653zM906 694 904 697 903 695 902 692 905 691zM961 678 960 680 957 679 958 677 960 677zM954 692 953 693 951 692 950 691 953 690zM938 652 937 654 932 653 933 650 936 649zM926 695 924 696 923 696 923 694 924 694zM894 679 892 680 890 679 889 677 892 677zM925 670 924 672 919 671 921 668 924 667zM880 672 879 675 876 673 875 670 879 670zM865 666 864 668 860 667 860 665 864 664zM910 689 907 693 904 691 905 689 908 688zM919 660 917 661 915 661 916 659 918 659zM924 676 923 677 920 677 920 675 923 674zM875 673 872 675 869 673 871 671 873 671zM939 675 937 678 934 676 933 674 936 673zM959 647 958 650 956 649 956 647 958 646zM857 674 854 676 851 675 852 673 854 673zM862 674 860 676 859 675 859 674 861 673zM896 688 895 690 892 689 892 687 894 685zM848 666 848 667 846 667 846 666 847 665zM941 655 940 656 938 656 937 653 941 653zM957 649 955 651 950 650 952 647 954 647zM853 693 851 695 849 695 849 693 851 692zM838 698 837 700 836 699 836 697 837 697zM885 692 884 693 882 692 883 691 884 691zM869 691 868 692 866 691 866 690 869 690zM952 689 950 690 947 690 947 687 950 686zM891 654 890 656 888 655 889 653 890 653zM840 672 838 674 837 673 837 671 839 671zM964 678 961 679 959 679 960 677 961 676zM957 684 955 685 953 685 954 683 956 682zM883 685 882 686 881 685 881 684 882 684zM892 652 889 654 886 654 886 651 889 651zM948 647 946 648 944 648 945 646 947 646zM938 695 937 696 934 696 935 695 936 694zM916 681 915 683 912 682 912 681 914 680zM930 692 928 694 926 693 926 692 928 691z"/><path fill="#2a8a20" d="M943 700 940 702 936 702 937 699 940 698zM902 660 900 663 898 662 897 659 899 659zM864 660 863 662 860 662 859 659 863 658zM933 670 931 673 928 671 928 669 931 668zM961 690 960 691 958 691 957 689 960 688zM824 682 823 683 822 683 822 682 823 681zM914 659 912 661 909 660 908 658 912 657zM900 691 898 692 895 692 896 690 898 690zM922 670 919 671 917 671 917 669 920 668zM920 691 919 692 917 691 917 690 919 690zM892 670 891 672 889 671 889 670 891 670zM913 690 912 693 908 692 909 689 913 688zM892 669 891 671 888 670 889 668 891 668zM896 664 894 668 891 666 891 662 896 661zM948 654 947 655 945 655 945 653 947 653zM923 692 921 693 920 693 919 692 922 691zM876 667 874 670 871 669 871 667 875 665zM884 693 882 695 880 694 879 692 883 691zM956 683 955 684 952 684 952 682 955 681zM924 694 922 695 918 694 919 692 922 690zM890 667 889 668 887 667 887 665 889 665zM933 671 932 672 929 672 929 670 931 669zM904 659 903 660 900 660 900 658 902 658zM936 686 935 688 932 687 932 685 934 684zM885 674 884 677 878 675 878 672 882 671zM935 685 934 687 931 686 930 684 934 683zM927 675 924 677 922 675 922 673 925 673zM918 658 914 660 911 659 911 657 915 655zM899 664 895 666 892 667 893 662 895 661zM916 684 914 685 911 685 911 681 914 681zM902 691 901 694 898 692 898 690 901 688zM960 643 960 644 958 644 958 643 959 642zM861 672 860 674 859 673 858 672 860 671zM881 654 879 656 877 656 877 654 879 653zM954 690 954 691 951 691 952 690 953 689zM943 644 940 646 938 644 938 643 941 642zM898 662 896 664 892 663 892 661 895 659zM863 671 862 673 859 672 859 670 861 670zM960 679 958 680 956 679 957 678 958 678zM953 694 953 695 951 695 950 693 953 693zM851 691 850 692 848 692 848 691 850 690zM957 661 955 663 953 661 952 659 957 658zM907 669 906 670 905 670 905 668 906 667zM854 665 852 666 850 665 850 664 853 663zM932 657 930 658 929 658 928 656 930 656zM932 662 931 663 928 663 928 661 931 660zM873 677 870 678 868 678 868 675 871 674zM855 665 855 665 853 665 853 664 855 664zM911 686 909 689 904 688 905 685 910 684zM870 684 868 686 866 685 865 684 868 683zM922 653 919 655 916 653 915 651 918 650zM964 671 963 673 960 672 959 670 962 669zM923 661 922 662 918 661 918 659 922 658zM904 657 903 659 901 659 901 656 903 655zM961 694 960 695 958 695 958 693 960 693zM951 653 947 655 943 653 944 650 947 649zM924 684 923 685 920 685 920 683 923 681zM940 650 939 652 937 651 937 650 939 649zM878 663 877 664 875 664 876 662 877 662zM952 665 950 668 947 667 948 665 950 665zM946 690 944 692 942 691 942 689 944 688zM918 701 917 702 914 702 914 700 916 699zM900 674 899 675 896 675 897 673 899 673zM945 692 944 694 940 692 941 690 943 688zM905 681 903 683 900 682 900 679 903 680zM903 672 901 674 898 674 897 672 900 671zM953 653 951 656 946 655 946 652 950 651zM947 645 946 646 944 646 944 644 946 644zM904 655 903 656 900 656 901 654 902 654zM911 687 908 690 905 690 904 686 909 685zM937 701 936 703 931 702 932 699 936 699zM928 658 927 660 924 659 924 657 926 656zM902 694 900 696 897 695 897 692 901 692zM892 690 889 694 886 692 885 689 890 688zM944 673 943 674 941 673 941 672 943 671zM942 654 942 654 939 654 940 652 942 652zM927 659 925 660 923 660 923 658 925 658zM877 661 876 664 873 663 872 660 877 658zM931 688 929 689 927 689 927 687 929 687zM874 665 872 667 870 667 870 664 873 664zM879 690 877 693 874 693 873 689 877 688zM913 691 911 693 908 693 909 691 911 689zM938 659 935 663 932 661 930 659 934 658zM932 672 931 674 928 673 928 671 930 671zM918 674 914 677 911 675 911 672 915 671zM896 683 895 684 894 684 893 683 896 682zM939 680 936 683 933 682 932 680 935 678zM831 674 830 675 829 675 829 674 830 674zM929 656 927 657 925 657 925 656 927 654zM905 671 904 672 901 671 901 670 904 669zM882 660 880 662 878 661 878 659 880 659zM920 684 919 686 916 685 916 683 918 683zM887 689 886 690 884 689 884 688 886 687zM865 686 864 688 860 687 862 685 864 684zM953 679 952 681 948 681 949 678 951 677zM897 662 895 664 893 663 893 661 896 660zM894 658 893 660 890 660 888 657 893 656zM928 664 927 666 924 664 925 663 927 663zM959 692 958 692 956 692 955 690 958 690zM945 693 945 694 943 694 942 691 944 692zM916 699 915 701 913 700 913 698 915 698zM952 646 951 648 948 647 948 644 951 644zM882 673 881 676 878 675 878 672 880 672zM952 646 949 649 947 647 948 645 950 645zM923 675 921 677 919 675 919 674 922 672zM929 666 929 668 926 666 926 664 928 665zM882 695 881 696 880 695 880 693 881 693zM911 697 909 698 907 698 907 696 909 695zM848 666 846 668 844 667 844 665 845 665zM903 668 902 669 899 669 899 667 902 667zM935 691 933 692 931 692 931 691 933 690zM832 680 832 681 831 680 831 680 832 679z"/><path fill="#3a9a28" d="M856 678 856 680 852 680 853 677 855 677zM938 644 937 646 934 646 935 644 937 643zM846 674 845 676 843 675 843 674 845 674zM909 695 906 698 904 697 904 694 908 693zM920 670 919 672 912 671 914 668 917 667zM879 674 877 675 875 675 875 673 877 673zM853 672 852 672 851 672 851 671 852 671zM960 660 959 661 956 660 957 659 958 658zM902 662 900 664 897 663 897 661 900 660zM930 697 928 698 925 697 925 694 927 695zM963 685 962 688 959 687 959 684 961 682zM951 676 948 678 943 678 945 675 949 673zM951 680 950 682 946 681 946 679 949 678zM859 693 857 695 854 695 855 693 857 691zM872 696 871 697 869 698 870 696 871 695zM961 670 959 672 956 673 956 670 959 669zM925 698 922 701 919 699 919 697 922 697zM882 676 880 678 876 677 877 675 879 674zM899 663 897 665 894 664 894 662 896 661zM886 695 884 698 880 697 881 694 884 693zM892 662 890 664 888 663 888 661 891 660zM963 651 962 652 960 651 960 650 963 649zM860 673 858 674 857 674 856 672 858 671zM893 685 892 686 890 685 892 684 893 684zM950 697 947 699 945 697 946 696 948 695zM890 687 889 688 887 687 887 685 889 685zM858 671 856 672 854 671 853 669 856 669zM877 675 875 678 872 677 873 675 875 674zM893 672 890 674 889 672 888 669 890 669zM928 654 926 657 921 655 922 651 926 652zM848 690 847 691 844 691 845 689 847 689zM881 667 879 669 877 668 876 665 879 665zM859 681 858 683 856 682 857 680 858 680zM959 651 958 654 954 653 954 650 958 647zM923 652 921 655 919 653 919 651 922 650zM965 694 961 695 959 695 959 692 961 691zM905 687 903 689 899 688 899 685 902 684zM872 697 872 699 869 698 869 697 871 696zM945 691 942 693 941 692 940 690 943 690zM951 681 950 682 946 682 947 679 949 678zM915 678 914 680 911 680 911 677 914 676zM957 693 954 694 951 694 950 690 954 689zM864 672 863 673 862 672 862 671 864 670zM887 661 885 662 884 662 883 659 885 659zM924 654 921 656 919 655 918 653 923 652zM943 662 942 665 939 664 939 662 941 661zM854 661 853 663 851 663 851 661 853 660zM906 690 903 691 900 690 901 688 903 688zM959 651 958 653 955 652 954 650 959 649zM915 678 913 679 911 679 911 677 913 676zM951 647 950 648 948 648 948 646 950 645zM911 655 909 656 907 656 908 655 909 654zM958 657 956 659 955 659 955 657 957 657zM931 685 930 687 929 686 929 685 930 685zM939 656 937 658 934 657 934 655 937 653zM878 671 875 673 873 673 873 670 876 669zM961 693 960 695 958 693 957 691 961 690zM931 687 929 690 926 688 924 685 929 685zM965 700 963 702 960 701 960 699 964 698zM874 682 871 684 868 683 869 681 872 680zM890 697 888 701 883 699 885 697 888 696zM883 656 881 657 877 656 879 654 882 653zM964 666 962 669 958 668 959 665 963 663zM866 674 865 676 862 675 863 673 865 672zM866 678 864 680 862 680 861 677 864 676zM886 654 885 655 884 655 884 654 886 653zM860 681 860 682 857 682 857 680 859 679zM940 673 937 675 934 675 935 672 937 672zM869 668 867 670 864 670 864 668 867 668zM892 655 888 657 885 658 886 655 889 654zM962 641 961 643 960 642 960 640 961 640zM915 685 911 687 908 686 907 684 912 683zM864 696 863 697 861 697 861 694 863 694zM957 650 956 651 954 651 954 649 955 649zM940 662 938 664 935 664 936 661 939 660zM870 698 869 699 867 699 866 697 868 696zM943 653 940 654 938 654 938 651 941 650zM905 683 904 683 902 683 902 681 904 681zM878 692 877 693 873 693 874 690 875 689zM920 683 916 685 914 684 913 682 917 681zM835 688 834 689 832 689 832 687 834 686zM865 700 864 701 861 700 862 699 864 698zM963 667 963 668 960 668 961 667 962 666zM894 701 891 705 889 703 888 700 891 700zM940 649 939 651 935 651 936 648 939 647zM858 669 857 671 855 670 854 669 857 667zM938 653 935 655 933 654 933 652 935 652zM904 689 903 691 900 690 900 688 903 687zM962 652 959 653 956 653 957 651 961 650zM946 679 945 680 944 680 944 678 945 678zM949 696 947 697 945 697 945 695 947 694zM933 658 931 659 926 658 927 655 930 654zM932 679 932 681 929 680 929 678 931 678zM944 671 944 673 941 673 941 671 943 669zM881 658 879 661 876 659 875 656 879 654zM934 672 932 674 927 674 927 670 932 670zM835 691 834 692 832 692 833 690 834 690zM885 684 884 684 882 684 881 683 884 682zM917 672 915 674 913 673 913 672 915 671zM891 678 889 678 887 678 887 677 890 676zM931 652 928 654 924 655 924 651 928 650zM946 645 946 648 941 646 940 644 944 643zM943 640 943 643 939 642 939 640 942 639zM917 685 916 687 914 686 913 685 916 684zM891 685 889 688 885 686 886 683 889 682zM894 678 891 681 888 679 888 675 892 675zM899 687 897 688 895 687 895 686 897 686zM923 691 921 694 919 694 919 690 921 691z"/><path fill="#1f7018" d="M909 674 907 675 906 674 905 672 907 672zM932 676 929 679 925 678 925 675 929 674zM909 695 906 697 904 696 904 694 907 693zM847 664 846 666 845 665 845 664 846 664zM921 667 920 668 918 667 918 665 920 665zM940 651 938 653 936 652 935 649 938 649zM893 666 892 667 890 667 889 665 892 664zM910 694 908 696 905 695 905 693 908 692zM877 665 876 666 873 665 873 664 875 663zM957 655 956 657 954 657 954 655 956 654zM965 686 963 687 961 687 961 685 963 685zM919 670 918 671 916 671 916 669 918 669zM921 660 921 661 919 660 918 659 920 658zM925 653 923 655 921 654 921 651 924 651zM934 677 933 679 929 679 929 676 932 675zM920 656 919 657 918 657 917 655 919 654zM886 653 884 655 881 655 881 653 884 652zM906 694 906 697 901 696 901 693 904 692zM916 667 915 668 913 668 913 666 914 666zM883 693 880 695 875 694 876 692 880 691zM914 657 913 658 911 659 911 656 913 656zM930 698 926 700 922 699 923 697 926 695zM847 683 846 683 844 683 844 682 845 682zM927 681 925 685 922 684 921 681 925 680zM900 681 900 683 898 682 898 681 900 680zM960 683 960 684 958 683 958 681 959 682zM908 686 908 687 905 687 906 685 907 685zM944 642 943 643 941 643 941 642 943 641zM880 675 879 676 877 676 877 675 878 675zM848 675 847 677 845 677 845 674 847 674zM921 694 919 696 917 694 917 693 919 692zM961 672 960 674 957 673 956 671 959 671zM825 692 824 694 822 693 822 692 824 691zM914 662 913 663 910 662 910 660 912 660zM899 665 898 666 896 666 896 664 899 663zM957 690 954 692 950 691 950 687 953 687zM913 665 912 667 910 667 911 664 912 664zM918 699 916 701 913 700 913 698 917 697zM945 677 943 680 941 678 941 676 944 674zM930 676 928 678 925 676 925 674 929 673zM894 686 893 687 891 687 891 685 892 685zM898 653 896 655 892 655 892 652 896 651zM951 700 950 703 946 702 947 700 950 698zM890 680 888 681 887 680 887 679 888 678zM938 700 937 702 935 701 935 700 937 700zM962 695 958 699 955 697 955 694 959 692zM903 681 901 682 900 681 900 680 902 679zM943 654 942 655 940 655 940 654 942 653zM929 698 927 700 923 698 924 697 927 695zM926 679 924 682 921 680 920 677 924 676zM913 654 912 656 910 655 910 653 913 653zM883 692 882 694 878 694 878 691 881 690zM933 654 930 656 925 656 927 653 930 653zM884 682 883 685 879 683 879 681 883 680zM893 699 891 700 890 701 889 698 892 698zM915 659 915 660 913 660 913 658 914 658zM917 686 914 688 909 687 910 685 914 682zM932 681 931 683 928 681 928 680 930 679zM933 674 931 676 929 675 928 673 932 672zM927 681 926 683 923 682 922 679 926 678zM902 695 899 698 896 698 896 695 899 694zM923 685 922 687 919 686 918 683 923 682zM910 700 908 702 905 700 905 699 907 698zM915 656 912 658 910 657 910 654 912 654zM963 643 961 643 960 643 960 642 962 641zM878 677 878 678 876 678 876 676 877 676zM939 694 937 696 934 695 936 693 938 693zM863 688 862 689 860 689 860 687 862 687zM914 674 913 677 909 676 910 672 913 672zM961 672 960 672 959 672 958 670 960 670zM961 687 960 688 957 688 958 687 960 686zM846 671 845 672 843 671 843 670 844 670zM891 680 890 682 888 681 888 680 890 680zM823 673 823 673 822 673 822 672 823 672zM843 696 842 697 841 697 841 695 842 695zM883 677 881 679 880 678 879 677 881 676zM967 689 963 692 961 690 960 687 963 687zM855 681 853 682 852 682 852 680 853 680zM963 690 958 692 954 691 955 689 959 687zM845 691 844 692 843 691 843 691 844 690zM917 666 915 669 912 667 913 665 916 663zM923 683 922 684 920 683 920 682 923 682zM886 669 884 672 880 671 880 668 884 667zM901 663 899 664 898 663 897 661 899 661zM936 679 934 681 931 679 932 678 934 677zM937 669 935 670 933 670 932 668 935 668zM886 693 885 694 883 694 883 692 885 690zM965 692 963 694 960 694 960 692 964 691zM913 674 912 677 907 676 908 674 911 672zM953 648 951 650 949 649 949 647 952 646zM953 654 950 655 948 654 947 652 951 651zM878 691 878 692 875 692 876 691 878 690zM955 656 954 657 952 656 952 655 954 655zM926 691 923 695 919 693 920 689 924 689zM922 674 921 677 918 675 917 674 921 672zM840 686 839 687 838 686 838 685 840 685zM902 699 900 701 897 699 898 698 900 697zM894 689 892 691 887 691 888 688 893 686zM855 696 854 697 853 697 852 696 854 696zM959 671 958 672 957 672 956 670 959 669zM961 655 959 656 957 656 957 654 959 654zM905 655 904 656 901 656 902 654 904 653zM920 664 918 666 916 664 916 662 919 662zM957 679 956 680 953 680 954 678 956 677zM925 702 924 703 922 703 921 701 923 701zM965 640 962 642 959 642 959 640 963 640zM886 677 884 679 882 678 882 677 884 675zM875 668 873 669 871 669 870 666 874 666zM883 662 882 663 881 663 880 662 882 661zM913 665 912 666 910 666 910 664 912 663zM854 688 853 689 851 688 851 687 853 686zM843 679 841 680 840 680 840 678 841 678z"/></g><rect x="719" y="649" width="12" height="11.5" fill="none" stroke="#d050c0" stroke-width="1" stroke-dasharray="2,1"/><rect x="722" y="652" width="6" height="5" fill="#a03090"/><text x="735.7" y="653.5" font-size="13.5" fill="#d050c0" textLength="23" lengthAdjust="spacingAndGlyphs">BCC</text><text x="891" y="654" font-size="13.5" fill="#6a9a48">L1<tspan font-size="9" dy="3">2</tspan></text><rect x="908.4" y="657" width="11.6" height="11.6" fill="none" stroke="#e09040" stroke-width="1.1" stroke-dasharray="2,1"/><polygon points="993.2,683.3 994.2,692 1036.3,685.5 1087.5,673.5 1128.5,663.5 1165.4,650.5 1175.7,642.3 1177.7,640.3 1149,640 1108,649 1067,659.5 1036.3,668.5 993.2,682" fill="url(#grod2)" /><g><path fill="#48c0c8" d="M1002 687 1001 689 999 688 999 687 1000 686zM1092 665 1091 667 1089 667 1089 665 1090 664zM1096 663 1094 665 1092 665 1093 663 1095 662zM1173 641 1173 642 1170 642 1170 640 1172 640zM1173 643 1172 644 1170 643 1170 642 1172 640zM1171 643 1170 644 1167 643 1166 642 1169 641zM1109 661 1106 663 1103 662 1103 659 1106 658zM1049 674 1048 675 1046 674 1046 673 1048 672zM1041 675 1039 676 1038 676 1037 674 1040 673zM1124 652 1122 654 1121 653 1120 651 1122 651zM1149 649 1148 651 1145 650 1145 647 1147 647zM1107 660 1106 661 1104 661 1104 659 1106 659zM1060 673 1059 673 1057 674 1058 672 1059 672zM1122 654 1120 655 1119 654 1119 653 1121 653zM1012 682 1010 684 1008 683 1008 681 1010 681zM1099 658 1096 660 1093 659 1093 656 1098 656zM1033 679 1032 681 1029 680 1028 677 1032 677zM1048 676 1046 679 1043 678 1044 675 1046 674zM1127 657 1124 660 1120 659 1120 655 1124 655zM1089 666 1088 668 1086 667 1085 665 1087 665z"/><path fill="#30a8b0" d="M1034 679 1033 681 1030 680 1030 679 1032 677zM1157 647 1156 649 1153 648 1153 646 1156 645zM1076 666 1075 666 1072 667 1072 664 1074 664zM1072 670 1070 672 1067 671 1067 669 1071 668zM1135 654 1133 656 1131 655 1130 653 1132 653zM1002 681 1001 683 999 682 999 681 1001 681zM1094 664 1092 667 1088 666 1089 663 1092 663zM1042 671 1041 672 1039 672 1039 670 1041 670zM1105 659 1103 662 1101 661 1101 659 1103 659zM1148 651 1146 653 1144 652 1143 651 1146 649zM1090 661 1089 662 1088 661 1088 660 1089 660zM1139 651 1138 653 1136 653 1135 650 1137 648zM1120 657 1118 659 1114 659 1115 656 1118 656zM1121 655 1121 656 1118 655 1118 653 1121 654zM1076 670 1074 672 1072 672 1071 669 1074 669zM1121 655 1120 656 1117 656 1117 653 1119 653zM1005 682 1004 683 1001 683 1002 680 1005 680zM1045 677 1044 679 1041 679 1042 676 1043 676zM1135 653 1134 655 1131 655 1132 652 1135 651zM1061 673 1059 675 1057 674 1058 672 1059 672zM1151 649 1149 652 1146 651 1146 648 1149 648zM1173 641 1172 643 1169 642 1169 640 1173 638z"/><path fill="#1e7a80" d="M1054 670 1053 672 1050 672 1050 670 1053 669zM1044 672 1041 674 1039 673 1038 670 1042 669zM1110 661 1108 662 1106 662 1105 659 1108 659zM1095 663 1094 665 1091 664 1091 662 1093 661zM1009 685 1007 686 1004 686 1005 684 1007 684zM1074 665 1071 667 1068 666 1068 664 1072 663zM1041 677 1038 680 1035 679 1035 677 1038 675zM1152 647 1151 649 1148 648 1149 646 1152 645zM1141 652 1139 654 1136 655 1135 652 1140 650zM1073 667 1072 669 1068 669 1068 666 1071 665zM1167 644 1166 646 1164 646 1164 644 1165 643zM1052 674 1051 675 1049 674 1048 672 1052 672zM1164 643 1161 646 1158 644 1159 642 1160 641zM1055 671 1052 673 1049 673 1049 670 1053 669zM1114 658 1112 661 1108 660 1109 657 1111 655zM1174 642 1173 644 1168 643 1169 640 1172 640zM1067 666 1066 667 1064 666 1064 665 1066 665zM1010 678 1007 682 1004 680 1004 678 1008 676z"/></g><g><path fill="#48c8d0" d="M1178 694 1175 697 1173 695 1173 693 1176 692zM1202 695 1201 695 1199 695 1200 694 1201 694zM1233 682 1233 682 1231 682 1232 681 1233 680zM1235 699 1234 700 1232 700 1231 697 1235 697zM1210 668 1209 669 1208 670 1208 668 1209 667zM1190 672 1187 674 1184 673 1184 671 1187 670zM1136 668 1135 669 1133 669 1133 667 1135 667zM1209 647 1208 648 1205 648 1205 646 1208 645zM1183 684 1182 686 1179 685 1179 683 1182 683zM1166 657 1165 658 1164 658 1164 657 1165 656zM1116 682 1114 683 1112 683 1112 681 1114 681zM1191 693 1191 695 1188 694 1188 692 1191 692zM1228 663 1226 664 1224 663 1223 662 1226 661zM1118 670 1117 672 1116 671 1116 670 1118 669zM1120 704 1119 705 1116 705 1117 703 1119 703zM1147 690 1146 691 1145 691 1145 690 1146 690zM1218 689 1217 690 1216 689 1215 688 1217 687zM1157 677 1156 677 1155 677 1155 676 1157 676zM1199 703 1197 704 1196 705 1196 703 1197 702zM1158 664 1158 665 1157 664 1156 663 1158 662zM1217 667 1217 668 1215 668 1215 666 1216 666zM1154 654 1152 657 1149 655 1149 654 1152 652zM1173 692 1172 693 1169 693 1169 691 1172 690zM1173 686 1172 688 1170 687 1171 685 1172 685zM1143 668 1142 670 1141 669 1141 667 1142 668zM1162 663 1161 664 1159 664 1159 662 1161 662zM1205 698 1204 699 1203 698 1203 696 1205 697zM1209 658 1207 659 1204 659 1204 656 1207 656zM1233 651 1233 652 1231 652 1231 650 1232 650zM1235 652 1234 653 1233 653 1232 651 1234 651zM1196 661 1195 663 1193 662 1192 659 1195 658zM1166 650 1164 651 1162 651 1162 649 1164 647zM1213 702 1213 704 1210 703 1210 701 1212 701zM1180 702 1178 705 1174 704 1175 700 1178 700zM1192 681 1190 683 1187 683 1187 680 1190 679zM1175 678 1173 679 1171 679 1172 677 1173 677zM1156 656 1156 658 1154 657 1154 655 1155 655zM1208 675 1208 676 1204 675 1205 674 1206 673zM1237 675 1235 676 1232 676 1233 673 1234 673zM1130 702 1129 704 1127 703 1128 702 1129 701zM1170 670 1168 672 1164 671 1165 669 1168 668zM1172 689 1169 690 1167 689 1168 688 1170 686zM1179 697 1177 699 1174 698 1173 695 1179 694zM1186 694 1184 696 1181 695 1181 693 1183 693zM1186 660 1184 661 1182 661 1183 660 1184 659zM1105 684 1105 685 1103 684 1103 683 1105 683zM1212 698 1210 699 1209 699 1210 697 1211 697zM1164 659 1160 661 1159 660 1158 658 1160 656zM1192 702 1191 703 1189 703 1189 701 1191 700zM1221 699 1220 701 1218 701 1218 698 1220 698zM1193 674 1190 675 1187 674 1188 672 1190 671zM1183 694 1182 696 1178 696 1180 694 1182 693zM1143 669 1141 670 1138 670 1138 667 1140 667zM1199 693 1197 695 1197 694 1196 693 1198 693zM1206 669 1205 670 1203 670 1204 668 1206 668zM1125 686 1123 686 1121 687 1122 684 1123 684zM1200 670 1198 671 1196 670 1196 668 1198 667zM1121 689 1121 689 1120 689 1120 688 1121 688zM1190 688 1188 690 1186 689 1187 687 1188 687zM1236 650 1233 652 1230 651 1231 648 1233 648zM1210 691 1208 693 1206 692 1207 690 1208 690zM1157 693 1155 694 1153 693 1152 692 1155 692zM1226 667 1225 669 1223 668 1223 667 1226 666zM1198 678 1197 679 1194 678 1194 676 1198 676zM1239 680 1237 681 1236 681 1236 680 1238 679zM1216 693 1215 695 1213 695 1214 693 1216 692zM1165 667 1164 668 1163 668 1163 667 1164 667zM1226 672 1223 674 1221 672 1221 670 1225 669zM1166 689 1163 690 1162 690 1161 687 1164 686zM1181 698 1179 701 1175 700 1176 698 1179 697zM1174 653 1174 655 1172 654 1171 653 1173 652zM1130 661 1129 662 1128 662 1128 661 1129 661zM1202 669 1200 671 1199 670 1197 668 1200 667zM1218 702 1217 703 1215 703 1216 701 1217 701zM1121 677 1119 679 1117 678 1117 676 1119 675zM1195 687 1194 689 1192 688 1193 686 1194 686zM1232 700 1230 701 1227 700 1227 699 1230 698zM1159 653 1156 655 1154 654 1154 652 1157 650zM1215 656 1214 657 1213 657 1213 656 1214 655zM1164 701 1163 702 1161 702 1162 701 1163 700zM1225 648 1223 649 1222 649 1222 646 1224 646zM1165 647 1164 648 1163 648 1163 647 1164 646zM1237 678 1235 680 1232 679 1233 677 1235 677zM1143 660 1141 663 1138 662 1139 660 1141 659zM1215 688 1215 690 1213 688 1212 687 1215 687zM1173 673 1172 674 1171 673 1171 672 1173 672zM1174 652 1172 655 1169 653 1169 650 1172 650zM1139 660 1138 662 1135 660 1134 658 1138 658zM1238 694 1236 696 1233 695 1234 693 1237 692zM1143 683 1142 685 1139 684 1139 682 1142 682zM1213 651 1212 653 1208 652 1209 650 1212 649zM1126 700 1125 701 1124 701 1124 700 1125 699zM1140 699 1140 701 1137 701 1137 698 1140 697zM1189 707 1188 708 1187 707 1187 706 1188 705zM1192 683 1190 684 1188 684 1187 682 1191 680zM1213 655 1211 656 1209 656 1209 654 1211 654zM1213 677 1212 678 1210 678 1210 676 1212 676zM1208 652 1206 654 1204 654 1203 651 1205 652zM1173 647 1170 648 1169 648 1168 646 1171 646zM1151 661 1151 662 1149 662 1149 661 1151 660zM1134 677 1133 678 1131 679 1130 676 1133 676zM1118 658 1117 659 1114 659 1115 657 1116 656zM1190 646 1189 647 1188 647 1188 646 1189 645zM1155 672 1152 674 1149 673 1150 671 1153 669zM1143 667 1141 668 1139 668 1140 667 1141 666zM1193 664 1192 665 1189 665 1190 662 1192 661zM1232 647 1231 649 1229 648 1230 647 1231 647zM1167 661 1166 662 1164 662 1164 660 1166 659zM1167 703 1167 704 1164 704 1165 702 1167 702zM1128 698 1128 699 1125 699 1125 696 1127 695zM1147 697 1146 699 1143 698 1143 696 1146 696zM1187 682 1185 683 1183 683 1183 680 1186 681zM1203 683 1202 684 1200 684 1201 682 1202 682zM1152 657 1152 658 1150 658 1151 657 1152 657zM1209 683 1207 685 1204 684 1203 682 1207 681zM1140 674 1140 675 1138 674 1137 673 1139 673zM1198 658 1195 659 1193 659 1192 657 1195 655zM1072 681 1072 682 1070 681 1070 680 1072 680zM1172 699 1171 700 1169 700 1169 698 1171 698zM1227 686 1226 688 1224 688 1224 686 1226 685zM1178 651 1178 652 1176 651 1176 650 1177 650zM1207 668 1207 669 1205 668 1205 667 1206 667zM1169 652 1167 653 1165 653 1165 651 1167 650zM1178 691 1177 692 1176 692 1175 691 1177 689zM1143 693 1143 694 1141 694 1141 692 1143 692zM1186 694 1184 695 1180 695 1180 693 1185 691zM1194 691 1192 694 1188 693 1189 690 1191 690zM1229 671 1227 673 1225 672 1224 669 1227 669zM1226 675 1224 678 1221 676 1222 673 1225 673zM1140 669 1138 671 1135 671 1135 668 1138 666zM1202 686 1201 687 1199 687 1199 684 1201 683zM1190 675 1190 677 1188 676 1188 675 1190 675zM1218 679 1217 682 1213 681 1214 678 1216 677zM1182 662 1181 664 1177 663 1178 661 1180 660zM1207 668 1205 669 1204 669 1204 667 1205 667zM1243 659 1243 660 1240 660 1240 658 1242 658zM1200 656 1198 658 1195 657 1196 655 1198 654zM1155 700 1154 702 1152 701 1152 700 1154 699zM1205 673 1204 673 1203 673 1202 671 1204 670zM1190 670 1189 671 1186 671 1186 669 1188 668zM1209 657 1209 657 1208 657 1208 656 1209 656zM1131 701 1131 702 1128 703 1129 701 1130 700zM1180 683 1179 684 1177 683 1177 682 1179 682zM1181 678 1180 680 1177 679 1176 677 1179 676zM1170 704 1168 706 1166 706 1167 704 1168 703zM1178 681 1178 682 1174 682 1174 680 1177 679zM1216 676 1216 676 1215 676 1215 675 1216 675zM1184 694 1181 696 1178 695 1179 693 1181 692zM1214 674 1212 675 1209 674 1210 672 1212 672zM1132 655 1132 656 1130 655 1130 654 1132 654zM1222 651 1222 652 1220 651 1220 651 1222 650zM1151 652 1151 654 1147 653 1148 651 1150 651zM1165 650 1164 651 1162 651 1163 649 1164 649zM1129 681 1129 681 1127 681 1128 680 1129 680zM1183 704 1183 705 1182 705 1181 704 1183 703zM1204 685 1203 687 1201 686 1200 684 1203 683zM1199 704 1198 705 1196 705 1196 703 1198 703zM1220 690 1218 692 1216 692 1216 689 1219 689zM1197 671 1195 673 1191 672 1192 670 1195 670zM1228 698 1227 700 1226 699 1226 697 1228 697zM1216 707 1213 708 1210 707 1210 705 1214 704zM1219 691 1219 692 1217 692 1217 691 1218 691zM1231 647 1230 648 1228 648 1228 647 1231 646zM1105 689 1105 689 1103 689 1103 688 1104 687zM1197 655 1197 656 1195 656 1195 655 1196 654zM1202 674 1202 675 1200 675 1200 674 1202 674zM1162 685 1160 686 1158 686 1158 684 1159 683zM1154 704 1153 705 1151 705 1152 703 1153 703zM1170 673 1168 674 1165 674 1164 672 1167 670zM1154 702 1152 704 1150 703 1151 701 1153 701zM1226 675 1226 676 1225 675 1225 674 1226 674zM1213 706 1212 707 1211 706 1210 706 1211 705zM1186 707 1184 708 1182 708 1181 705 1183 705zM1162 665 1162 666 1160 665 1160 664 1162 663zM1155 653 1154 653 1152 653 1153 652 1154 651zM1183 682 1182 683 1181 682 1181 681 1182 681zM1224 705 1222 706 1218 706 1220 703 1222 703zM1158 697 1158 699 1155 698 1155 695 1157 694zM1210 669 1207 671 1205 670 1206 668 1208 667zM1135 657 1134 658 1133 657 1134 657 1135 656zM1162 671 1161 673 1160 672 1160 670 1161 670zM1236 655 1235 656 1233 656 1234 654 1235 653zM1204 648 1203 650 1199 650 1199 648 1202 647zM1129 672 1129 673 1126 672 1127 671 1128 671zM1222 665 1220 667 1218 666 1218 665 1220 664zM1241 691 1240 693 1238 692 1238 691 1240 690zM1135 698 1134 699 1133 699 1133 698 1134 697zM1196 681 1193 684 1190 683 1191 681 1193 680zM1150 698 1149 700 1148 699 1148 698 1149 697zM1169 650 1168 650 1167 650 1167 649 1168 649zM1224 661 1223 661 1221 661 1221 660 1223 659z"/><path fill="#58d0d8" d="M1224 658 1221 659 1219 658 1218 656 1221 656zM1141 698 1140 699 1138 699 1137 697 1139 697zM1146 669 1145 670 1144 671 1143 669 1145 669zM1106 667 1105 667 1104 667 1104 666 1105 666zM1193 663 1191 665 1189 666 1189 662 1192 661zM1220 680 1220 681 1218 681 1218 679 1219 679zM1185 676 1183 677 1182 677 1182 675 1183 674zM1174 649 1171 650 1168 650 1167 648 1171 647zM1177 677 1175 680 1171 679 1171 676 1174 675zM1206 705 1205 707 1201 707 1201 703 1203 702zM1231 680 1230 682 1227 680 1227 679 1230 678zM1230 695 1228 697 1225 697 1226 695 1228 694zM1142 662 1141 663 1140 663 1139 661 1141 661zM1192 695 1191 697 1189 697 1189 694 1191 693zM1118 698 1116 699 1115 699 1114 698 1116 696zM1229 694 1228 695 1226 694 1227 693 1228 693zM1170 690 1169 692 1167 691 1167 690 1169 690zM1210 656 1208 657 1206 656 1206 655 1208 654zM1152 686 1150 687 1149 686 1149 685 1151 685zM1146 679 1144 680 1142 680 1141 678 1145 677zM1182 700 1180 702 1177 701 1177 699 1180 699zM1223 695 1221 698 1219 696 1218 694 1221 693zM1235 692 1233 693 1231 693 1232 692 1234 690zM1191 653 1190 655 1187 654 1187 651 1189 651zM1220 660 1219 662 1217 661 1217 660 1219 659zM1173 680 1171 681 1169 681 1169 679 1172 679zM1224 700 1222 701 1221 701 1220 699 1222 699zM1094 706 1092 708 1091 707 1090 705 1092 706zM1130 706 1128 707 1127 706 1127 705 1128 704zM1244 660 1242 662 1239 662 1239 660 1242 659zM1204 692 1202 693 1200 692 1200 691 1202 691zM1214 648 1213 648 1211 648 1212 647 1213 647zM1237 680 1236 683 1233 681 1233 679 1235 678zM1189 696 1187 698 1185 697 1185 694 1188 694zM1194 691 1193 694 1189 693 1190 691 1194 689zM1188 675 1187 676 1186 676 1186 674 1188 674zM1206 655 1205 657 1200 656 1201 654 1203 652zM1221 654 1220 656 1217 655 1218 652 1221 652zM1125 681 1124 683 1122 681 1122 679 1124 678zM1145 671 1144 672 1142 672 1142 669 1144 669zM1151 679 1150 681 1148 679 1148 678 1149 678zM1218 648 1217 649 1216 649 1214 647 1217 646zM1142 666 1140 668 1137 667 1138 664 1141 664zM1175 671 1173 672 1171 672 1171 670 1173 670zM1197 685 1196 686 1194 686 1194 684 1196 684zM1236 678 1235 680 1231 680 1232 678 1235 676zM1175 679 1174 680 1172 680 1172 678 1174 677zM1097 668 1096 668 1095 668 1095 667 1097 667zM1234 664 1232 666 1230 666 1230 664 1232 664zM1224 660 1222 663 1220 662 1221 660 1224 658zM1229 699 1227 701 1225 700 1225 698 1227 698zM1190 681 1188 682 1185 682 1186 679 1189 679zM1190 701 1189 702 1187 702 1187 700 1190 700zM1170 667 1169 669 1166 668 1166 665 1168 665zM1173 685 1172 687 1170 687 1168 684 1172 684zM1204 705 1203 707 1201 706 1201 704 1203 704zM1128 686 1126 687 1124 687 1124 685 1126 685zM1188 700 1186 701 1185 701 1185 699 1187 698zM1213 664 1211 666 1209 665 1208 663 1212 663zM1084 678 1083 679 1083 679 1082 677 1083 677zM1175 654 1174 655 1172 654 1172 653 1174 652zM1132 692 1131 693 1129 692 1129 690 1131 691zM1162 686 1161 687 1159 687 1159 685 1161 684zM1091 688 1090 689 1089 689 1089 687 1090 687zM1219 704 1217 706 1215 705 1215 703 1217 702zM1200 688 1198 689 1196 688 1196 687 1198 687zM1161 703 1160 704 1158 703 1159 702 1160 702zM1191 688 1189 689 1187 688 1187 686 1189 687zM1229 696 1226 697 1223 696 1224 694 1226 693zM1119 704 1116 707 1115 706 1115 704 1117 704zM1165 681 1164 682 1161 682 1162 680 1164 679zM1232 694 1231 696 1229 695 1228 693 1231 693zM1147 676 1147 678 1143 677 1143 676 1146 675zM1206 695 1205 696 1203 696 1203 694 1204 693zM1161 648 1158 650 1157 649 1156 647 1158 646zM1173 664 1172 665 1170 665 1171 663 1172 663zM1181 680 1179 681 1177 681 1177 679 1179 679zM1179 651 1177 652 1173 652 1174 649 1176 647zM1229 703 1228 704 1226 703 1226 702 1228 702zM1163 701 1162 702 1160 702 1160 700 1162 699zM1185 649 1184 650 1183 649 1183 649 1184 648zM1229 687 1228 688 1226 688 1226 686 1227 685zM1155 675 1154 676 1152 676 1152 674 1154 674zM1243 694 1241 695 1238 695 1239 692 1241 691zM1140 675 1139 676 1136 676 1137 674 1138 673zM1089 696 1088 697 1087 696 1087 694 1088 694zM1213 668 1212 669 1209 669 1210 667 1212 667zM1221 682 1219 684 1217 683 1217 681 1219 679zM1216 678 1213 679 1210 678 1211 676 1214 676zM1220 667 1219 668 1217 668 1217 666 1219 666zM1142 705 1142 707 1140 706 1140 705 1141 705zM1157 661 1156 663 1153 662 1154 660 1155 659zM1211 662 1209 663 1207 663 1207 661 1210 660zM1168 653 1167 656 1164 655 1164 653 1168 652zM1161 663 1160 665 1157 664 1157 662 1159 661zM1160 679 1158 680 1156 679 1156 677 1158 677zM1194 669 1191 672 1189 672 1188 668 1192 667zM1169 689 1167 691 1166 690 1166 689 1168 688zM1130 656 1130 657 1128 657 1128 656 1130 656zM1184 649 1183 651 1178 650 1179 647 1182 647zM1167 669 1165 671 1164 670 1163 668 1166 667zM1136 684 1135 685 1133 685 1133 683 1135 683zM1163 707 1162 708 1160 708 1160 706 1162 705zM1119 660 1118 662 1115 662 1115 660 1118 659zM1243 656 1242 658 1239 657 1240 656 1242 656zM1240 662 1240 663 1238 662 1239 661 1240 661zM1204 676 1202 678 1200 678 1200 676 1203 675zM1186 674 1186 677 1181 675 1181 672 1184 672zM1116 703 1116 705 1113 705 1113 702 1115 702zM1238 663 1236 664 1234 664 1234 662 1236 661zM1245 672 1243 674 1241 672 1240 671 1243 671zM1164 694 1164 694 1163 694 1162 693 1164 693zM1157 657 1156 659 1154 658 1154 656 1156 655zM1161 696 1160 697 1159 697 1159 696 1160 696zM1159 655 1158 657 1154 657 1153 654 1158 653zM1214 668 1213 669 1212 668 1212 667 1214 666zM1218 675 1217 676 1214 676 1214 674 1217 673zM1101 663 1100 664 1098 663 1098 662 1100 661zM1225 693 1223 693 1222 693 1222 692 1223 692zM1191 678 1191 681 1188 679 1187 678 1190 677zM1239 667 1238 668 1235 667 1236 666 1237 664zM1241 690 1239 692 1237 691 1237 689 1239 689zM1202 689 1200 692 1198 690 1197 688 1200 687zM1166 661 1164 663 1162 662 1162 660 1166 659zM1175 699 1174 699 1171 699 1172 698 1173 697zM1236 658 1235 659 1233 658 1233 657 1235 657zM1150 690 1149 692 1147 691 1146 690 1148 689zM1231 686 1229 687 1227 688 1228 686 1229 685zM1172 680 1170 683 1166 681 1166 679 1170 678zM1219 694 1218 695 1215 695 1215 692 1218 692zM1172 675 1171 676 1169 676 1170 675 1171 674zM1119 699 1118 700 1117 699 1117 698 1118 697zM1202 658 1201 659 1201 659 1200 658 1202 657zM1219 664 1219 665 1217 664 1217 663 1218 662zM1157 706 1156 707 1155 706 1155 706 1156 705zM1130 659 1129 661 1127 660 1128 659 1129 659zM1217 651 1216 652 1215 652 1215 651 1216 650zM1224 679 1222 680 1221 680 1221 678 1223 678zM1161 657 1159 659 1158 658 1158 657 1160 656zM1104 663 1103 664 1102 664 1102 663 1103 663zM1134 691 1133 692 1131 692 1132 690 1133 690zM1238 652 1237 654 1234 654 1234 651 1237 651zM1199 703 1198 705 1196 704 1196 702 1198 702zM1149 668 1146 670 1144 669 1142 667 1147 666zM1223 705 1223 706 1221 706 1221 704 1222 704zM1214 692 1211 693 1208 694 1208 689 1211 688zM1103 687 1103 688 1102 688 1102 687 1103 686zM1173 670 1172 671 1169 670 1169 668 1171 668zM1181 673 1179 676 1177 674 1177 672 1180 671zM1139 693 1139 694 1138 693 1137 692 1138 692zM1142 697 1141 699 1140 698 1140 696 1141 695zM1242 698 1240 699 1238 700 1237 697 1241 696zM1185 689 1183 690 1181 690 1181 688 1184 686zM1206 662 1205 664 1201 663 1200 660 1203 660zM1136 678 1134 680 1132 679 1133 678 1135 677zM1228 674 1226 675 1223 675 1223 671 1226 671zM1133 661 1132 662 1130 662 1130 661 1132 660zM1223 683 1221 685 1219 684 1219 681 1221 681zM1166 677 1165 678 1162 678 1163 676 1165 675zM1133 660 1132 660 1131 660 1130 659 1133 659zM1147 665 1146 666 1143 665 1143 663 1145 662zM1150 684 1148 685 1146 684 1147 683 1148 682zM1213 683 1212 684 1209 684 1209 682 1211 680zM1231 705 1229 707 1225 707 1227 705 1228 704zM1194 665 1192 667 1190 666 1190 665 1192 664zM1222 661 1221 664 1218 663 1217 661 1221 659zM1176 648 1174 649 1172 649 1172 647 1174 647zM1218 673 1217 675 1213 674 1213 671 1215 671zM1145 687 1143 688 1141 687 1141 686 1143 686zM1208 699 1207 700 1205 699 1205 698 1208 698zM1216 646 1215 647 1213 647 1213 645 1215 645zM1174 693 1172 695 1169 694 1168 692 1172 690zM1118 666 1116 667 1115 666 1114 665 1116 665z"/><path fill="#208890" d="M1187 665 1186 667 1182 667 1183 663 1186 663zM1171 669 1170 670 1168 669 1168 667 1170 667zM1097 669 1096 670 1095 670 1095 668 1097 668zM1216 690 1215 693 1211 692 1211 688 1215 689zM1153 677 1152 678 1150 678 1151 676 1152 676zM1162 700 1162 702 1158 701 1159 698 1161 697zM1155 668 1155 670 1151 668 1151 667 1154 665zM1165 675 1164 676 1163 676 1163 674 1165 674zM1215 697 1213 699 1210 699 1210 695 1213 695zM1179 652 1176 653 1174 652 1174 650 1177 650zM1228 659 1227 661 1225 660 1223 658 1228 657zM1158 681 1158 683 1154 683 1155 681 1157 680zM1217 694 1216 695 1214 695 1214 693 1216 693zM1158 653 1157 655 1156 654 1155 653 1157 652zM1161 649 1158 650 1155 650 1155 648 1158 646zM1220 705 1219 707 1217 706 1218 705 1219 704zM1183 682 1182 683 1181 682 1181 681 1183 681zM1200 665 1197 666 1196 667 1195 664 1198 663zM1239 651 1238 653 1237 652 1237 651 1238 650zM1167 649 1166 650 1162 650 1162 647 1165 646zM1191 682 1190 683 1189 682 1189 682 1190 681zM1176 686 1175 688 1172 687 1171 684 1175 684zM1235 698 1233 700 1230 699 1230 696 1232 696zM1213 680 1212 683 1209 681 1208 678 1211 678zM1174 676 1172 677 1169 677 1170 674 1172 674zM1182 690 1178 692 1175 691 1174 688 1178 687zM1135 698 1134 699 1131 699 1132 697 1134 697zM1121 678 1119 679 1118 679 1118 678 1120 677zM1157 660 1156 661 1153 661 1152 659 1155 658zM1188 672 1187 673 1186 673 1186 672 1187 671zM1237 655 1237 656 1235 655 1234 654 1236 653zM1171 649 1171 650 1170 650 1169 648 1171 648zM1201 706 1199 708 1196 708 1197 705 1199 705zM1122 687 1122 687 1121 687 1121 687 1122 686zM1117 665 1117 665 1116 665 1115 664 1117 664zM1156 658 1155 659 1153 659 1152 658 1155 657zM1093 693 1091 694 1090 694 1090 693 1091 693zM1186 692 1185 693 1182 693 1182 692 1184 691zM1175 672 1174 673 1173 673 1173 671 1174 671zM1242 663 1239 666 1237 665 1237 662 1239 661zM1239 694 1238 696 1235 694 1236 693 1239 692zM1187 673 1186 676 1184 675 1184 672 1186 672zM1152 683 1151 684 1148 683 1148 681 1150 681zM1228 666 1227 667 1226 667 1226 666 1227 665zM1158 650 1157 652 1154 651 1153 649 1157 648zM1159 687 1158 688 1157 687 1156 686 1158 684zM1218 691 1215 693 1211 692 1213 690 1216 688zM1112 690 1111 691 1109 691 1108 689 1110 688zM1152 654 1151 656 1148 656 1147 653 1151 652zM1163 674 1162 675 1161 675 1161 674 1163 673zM1210 676 1209 677 1207 677 1207 675 1208 674zM1151 655 1149 657 1147 656 1146 654 1148 653zM1191 657 1189 659 1187 659 1187 657 1190 656zM1158 675 1156 677 1155 677 1154 675 1156 674zM1215 704 1214 706 1211 704 1212 703 1214 702zM1237 695 1236 696 1232 696 1233 694 1235 692zM1139 684 1138 686 1136 685 1135 682 1138 681zM1109 670 1109 671 1107 671 1107 670 1109 669zM1237 685 1235 686 1234 685 1234 684 1235 683zM1203 676 1201 677 1199 677 1199 675 1201 675zM1239 668 1238 670 1236 669 1235 667 1237 667zM1242 690 1240 692 1238 692 1237 689 1241 688zM1163 695 1160 697 1157 696 1157 693 1160 692zM1163 655 1161 656 1159 655 1159 653 1163 652zM1184 673 1184 674 1182 673 1182 672 1183 672zM1106 692 1105 693 1103 693 1104 691 1105 690zM1121 660 1119 661 1118 661 1118 659 1120 659zM1143 693 1142 694 1141 693 1141 693 1142 692zM1220 676 1219 677 1217 676 1216 675 1220 674zM1088 682 1087 683 1086 683 1086 682 1087 682zM1225 672 1224 673 1221 672 1222 671 1223 671zM1193 692 1192 693 1190 693 1189 691 1192 691zM1150 687 1149 688 1147 687 1146 686 1148 685zM1194 675 1191 678 1188 677 1189 674 1192 673zM1240 694 1238 696 1236 695 1236 693 1238 692zM1242 667 1239 670 1236 669 1236 666 1239 666zM1236 665 1235 666 1234 666 1234 665 1235 664zM1170 695 1168 697 1164 696 1164 694 1168 694zM1137 656 1137 657 1135 657 1135 656 1137 655zM1081 699 1080 700 1078 700 1078 699 1079 699zM1208 662 1207 664 1205 663 1205 661 1208 660zM1210 699 1207 701 1205 699 1204 696 1207 696zM1214 677 1213 679 1211 678 1211 676 1212 676zM1142 703 1141 705 1137 705 1138 702 1140 701zM1191 687 1189 687 1189 687 1189 686 1189 685zM1168 658 1166 659 1164 658 1164 657 1167 656zM1173 664 1172 665 1171 664 1171 664 1172 663zM1187 674 1186 674 1185 674 1185 673 1186 673zM1214 649 1212 650 1210 650 1211 648 1213 648zM1228 656 1228 657 1226 657 1226 655 1228 655zM1163 667 1162 669 1160 668 1160 667 1162 666zM1182 702 1181 705 1177 703 1177 701 1180 701zM1227 675 1225 678 1222 677 1222 675 1226 674zM1234 651 1232 652 1229 652 1229 650 1232 649zM1208 683 1206 684 1204 683 1204 682 1207 681zM1212 706 1210 707 1207 707 1209 705 1210 704zM1202 666 1200 669 1198 668 1198 666 1201 665zM1204 688 1202 689 1199 688 1200 686 1203 686zM1235 654 1233 656 1230 655 1230 653 1234 653zM1204 673 1203 674 1201 674 1201 673 1202 673zM1130 699 1129 699 1128 699 1128 698 1129 698zM1199 679 1197 680 1195 679 1194 678 1197 677zM1169 687 1167 689 1164 688 1164 687 1166 686zM1190 689 1189 692 1185 691 1185 689 1188 687zM1134 682 1133 683 1131 683 1130 681 1133 681zM1149 694 1147 695 1146 695 1146 693 1148 693zM1227 680 1226 681 1224 681 1224 680 1226 679zM1100 685 1099 686 1099 685 1099 685 1099 685zM1131 692 1130 693 1127 693 1128 690 1130 690zM1106 697 1105 698 1104 697 1104 697 1105 696zM1179 660 1178 662 1175 661 1174 659 1178 658zM1209 648 1208 649 1207 648 1206 646 1208 646zM1170 684 1169 686 1167 686 1167 684 1169 683zM1178 683 1177 685 1174 684 1173 681 1177 681zM1227 647 1226 650 1223 649 1224 647 1226 645zM1123 682 1121 684 1119 683 1119 682 1121 681zM1213 659 1212 660 1210 660 1210 659 1213 658zM1130 692 1129 693 1126 693 1126 691 1129 691zM1110 668 1109 669 1107 669 1107 667 1109 667zM1134 677 1131 679 1130 679 1129 676 1132 676zM1197 669 1196 671 1194 670 1193 667 1196 667zM1209 662 1207 664 1205 664 1205 662 1208 661zM1142 674 1140 676 1138 675 1139 673 1140 672zM1175 653 1173 654 1172 653 1173 652 1174 652zM1090 702 1090 703 1089 702 1088 701 1089 701zM1242 702 1240 703 1239 703 1238 701 1240 701zM1237 661 1236 663 1234 662 1233 661 1235 660zM1237 652 1236 653 1234 652 1233 651 1235 651zM1173 667 1171 669 1168 668 1169 666 1171 666zM1182 691 1181 693 1178 693 1179 690 1181 690zM1214 691 1214 692 1212 691 1212 690 1213 690zM1222 660 1221 662 1218 662 1218 660 1220 660zM1199 706 1197 708 1194 707 1195 705 1197 704zM1229 682 1227 683 1224 684 1225 681 1227 681zM1182 690 1181 691 1179 691 1178 688 1181 688zM1217 689 1216 692 1212 691 1211 688 1215 688zM1220 700 1219 701 1216 701 1215 699 1218 697zM1171 673 1170 675 1169 674 1169 673 1170 673zM1162 664 1160 666 1157 665 1157 663 1160 663zM1237 659 1237 660 1235 659 1234 657 1236 657zM1219 683 1218 684 1215 684 1215 682 1217 681zM1187 669 1186 670 1185 670 1185 668 1186 668zM1195 671 1193 672 1190 672 1190 670 1194 669zM1138 684 1137 687 1135 686 1134 683 1137 682zM1236 690 1234 692 1232 691 1232 690 1234 689zM1225 658 1224 659 1223 658 1222 657 1224 656zM1193 673 1192 675 1190 674 1190 672 1192 672zM1176 680 1175 682 1174 681 1174 680 1175 680zM1227 663 1226 665 1221 665 1223 662 1224 661zM1170 707 1168 709 1166 708 1167 706 1169 705zM1239 682 1238 683 1236 683 1237 682 1239 681zM1159 678 1157 679 1156 679 1156 677 1157 677zM1207 682 1207 683 1204 682 1205 681 1207 680zM1221 654 1219 656 1216 655 1217 653 1219 653zM1214 692 1213 694 1211 693 1211 691 1212 690zM1215 688 1215 689 1213 689 1213 687 1214 687zM1209 675 1208 677 1207 676 1206 675 1208 674zM1197 702 1196 704 1193 702 1193 701 1196 699zM1122 665 1121 665 1121 665 1120 664 1121 664zM1176 675 1175 677 1173 676 1173 675 1176 674zM1179 647 1177 648 1176 648 1176 647 1177 646zM1218 684 1217 686 1215 685 1215 683 1218 683zM1214 705 1212 708 1208 706 1208 704 1212 704zM1181 660 1181 661 1179 660 1178 659 1181 659zM1077 678 1076 679 1075 678 1075 677 1076 677zM1238 673 1235 674 1234 673 1234 672 1236 672zM1227 706 1225 708 1223 708 1223 705 1226 705zM1162 701 1160 703 1158 701 1158 700 1160 698zM1132 696 1130 698 1128 697 1128 695 1131 694zM1156 678 1154 679 1153 678 1152 677 1154 676zM1190 678 1188 681 1185 680 1185 677 1188 677zM1094 690 1093 691 1092 690 1093 689 1094 689zM1158 658 1157 659 1154 659 1154 657 1156 657zM1149 662 1148 663 1146 663 1146 661 1148 660zM1208 658 1207 659 1205 659 1205 657 1206 656zM1164 705 1162 707 1159 706 1159 703 1162 703zM1152 701 1151 703 1150 702 1150 701 1151 701zM1139 700 1138 702 1136 701 1136 700 1138 699zM1170 668 1168 670 1166 669 1166 667 1168 666zM1186 673 1186 674 1184 674 1183 671 1186 672zM1217 652 1215 653 1213 652 1213 650 1215 650zM1166 673 1166 675 1163 675 1163 673 1165 672zM1229 707 1227 707 1226 707 1225 706 1228 705zM1162 697 1160 698 1159 698 1159 696 1160 696zM1125 679 1125 680 1124 680 1124 679 1124 679zM1194 689 1193 690 1191 690 1191 688 1192 688z"/><path fill="#2aa0a8" d="M1165 651 1162 652 1160 651 1159 649 1163 649zM1233 680 1232 682 1229 681 1228 678 1231 678zM1201 679 1200 680 1198 679 1198 678 1200 678zM1176 680 1176 681 1174 680 1174 679 1175 678zM1172 699 1171 701 1168 700 1168 698 1171 698zM1123 699 1123 701 1121 700 1121 698 1122 698zM1237 646 1236 648 1234 647 1234 645 1236 644zM1155 687 1154 689 1151 689 1151 685 1153 685zM1170 705 1169 707 1167 706 1167 704 1169 704zM1182 675 1181 677 1179 677 1179 674 1182 674zM1169 677 1168 678 1166 678 1166 675 1168 676zM1118 673 1117 674 1114 673 1115 672 1117 671zM1200 650 1199 651 1198 651 1198 649 1199 649zM1176 657 1175 658 1173 657 1173 656 1175 655zM1113 697 1113 699 1111 698 1111 697 1112 696zM1150 656 1147 657 1146 657 1145 655 1148 653zM1189 647 1188 648 1186 648 1186 646 1189 646zM1179 653 1176 654 1175 654 1175 652 1177 652zM1241 678 1240 679 1237 678 1236 677 1239 676zM1086 705 1085 706 1084 706 1084 704 1086 704zM1197 675 1195 676 1191 676 1192 674 1195 674zM1171 675 1169 678 1166 676 1165 673 1169 672zM1235 650 1234 651 1232 651 1232 650 1234 649zM1182 690 1182 693 1178 691 1178 688 1180 688zM1230 685 1228 688 1225 686 1226 684 1229 684zM1170 648 1170 648 1168 649 1169 647 1170 647zM1119 677 1119 678 1117 678 1117 677 1119 676zM1208 682 1205 685 1202 684 1203 681 1205 681zM1159 654 1157 655 1155 655 1155 652 1157 652zM1181 653 1180 654 1178 654 1178 652 1180 652zM1222 696 1221 697 1220 697 1220 695 1221 695zM1224 662 1221 663 1219 662 1219 660 1222 660zM1184 653 1182 654 1181 653 1180 651 1183 651zM1160 689 1158 691 1156 690 1156 689 1159 688zM1203 650 1202 652 1198 651 1198 648 1201 648zM1091 686 1090 687 1090 687 1089 686 1090 686zM1175 675 1173 677 1172 676 1171 675 1173 674zM1208 657 1207 658 1205 657 1204 656 1207 655zM1201 696 1199 699 1196 698 1196 696 1199 695zM1105 705 1105 707 1103 706 1103 705 1104 704zM1240 707 1239 708 1237 707 1237 706 1239 705zM1142 656 1139 657 1137 656 1137 654 1140 653zM1223 698 1222 699 1220 698 1221 697 1222 697zM1176 662 1173 665 1171 663 1172 661 1174 661zM1232 673 1230 676 1227 674 1228 673 1230 672zM1178 654 1175 656 1173 656 1174 653 1175 653zM1145 658 1144 660 1141 659 1141 657 1143 657zM1222 704 1220 707 1217 705 1217 704 1220 702zM1165 705 1162 707 1159 707 1160 703 1163 704zM1221 666 1220 667 1218 667 1218 665 1220 664zM1237 686 1236 688 1234 688 1234 685 1236 685zM1119 683 1118 684 1116 683 1116 682 1118 682zM1167 683 1166 683 1164 683 1164 682 1165 681zM1171 687 1170 688 1169 687 1169 686 1170 685zM1177 666 1176 668 1174 667 1173 666 1175 665zM1138 704 1137 705 1135 704 1135 703 1137 703zM1220 673 1219 673 1218 673 1217 671 1219 671zM1220 652 1217 655 1214 654 1213 651 1217 650zM1196 668 1195 669 1194 669 1194 667 1196 667zM1168 673 1165 675 1162 674 1162 672 1165 670zM1190 664 1188 666 1186 666 1186 664 1187 663zM1207 668 1204 670 1200 669 1201 666 1204 666zM1219 666 1218 669 1215 667 1215 665 1218 664zM1098 673 1098 673 1097 673 1097 672 1098 672zM1194 676 1193 677 1192 677 1192 675 1193 675zM1182 677 1181 679 1179 679 1179 677 1181 676zM1198 691 1195 693 1192 692 1193 690 1195 689zM1164 662 1163 663 1162 663 1162 662 1163 662zM1237 677 1236 678 1235 678 1235 676 1237 676zM1213 699 1212 701 1209 701 1210 698 1213 697zM1174 706 1173 707 1170 706 1170 704 1173 704zM1237 677 1235 677 1233 678 1233 675 1235 675zM1196 688 1195 690 1191 689 1191 686 1194 685zM1200 647 1199 649 1197 648 1197 646 1200 645zM1233 684 1232 685 1229 685 1229 682 1231 682zM1169 690 1166 692 1163 692 1165 690 1167 689zM1166 677 1164 679 1161 677 1161 674 1164 674zM1170 660 1167 661 1165 661 1165 659 1168 657zM1241 654 1239 656 1236 655 1237 653 1239 652zM1219 703 1218 705 1217 704 1217 703 1218 702zM1195 673 1195 674 1194 674 1194 673 1195 673zM1240 700 1237 703 1234 702 1234 699 1236 697zM1233 669 1231 670 1230 670 1230 668 1232 668zM1234 664 1233 666 1229 665 1229 663 1232 662zM1149 684 1148 686 1144 685 1144 683 1147 682zM1167 689 1167 692 1163 690 1164 688 1165 688zM1141 698 1140 700 1138 700 1138 697 1140 697zM1138 681 1135 683 1134 682 1133 680 1135 678zM1234 682 1232 683 1230 683 1231 681 1233 680zM1122 661 1122 662 1119 661 1119 660 1121 659zM1195 668 1195 670 1191 670 1192 667 1195 666zM1160 686 1159 688 1156 687 1155 684 1159 684zM1244 695 1242 697 1240 696 1240 694 1242 694zM1225 657 1225 659 1221 658 1222 656 1224 655zM1233 663 1232 665 1230 664 1229 662 1232 661zM1217 655 1215 657 1213 656 1213 655 1215 654zM1236 704 1235 706 1233 705 1233 703 1235 702zM1225 678 1224 680 1223 679 1223 678 1224 678zM1237 673 1235 674 1234 673 1233 671 1235 671zM1204 693 1203 693 1202 693 1202 692 1203 692zM1222 662 1220 663 1219 663 1219 661 1221 661zM1142 673 1141 674 1140 674 1139 672 1141 672zM1139 703 1137 704 1136 704 1135 702 1138 702zM1128 702 1127 703 1125 703 1126 701 1127 701zM1233 691 1231 693 1229 692 1228 689 1232 690zM1184 705 1182 708 1179 707 1180 705 1183 704zM1224 661 1223 662 1222 662 1223 661 1224 660zM1230 659 1228 661 1225 660 1226 658 1229 656zM1208 649 1207 651 1204 650 1204 649 1206 648zM1142 670 1140 672 1137 671 1138 669 1140 668zM1205 705 1204 707 1202 706 1202 704 1204 704zM1168 706 1167 707 1165 707 1163 705 1167 704zM1094 678 1093 679 1092 678 1092 677 1093 677zM1148 659 1147 660 1146 660 1145 659 1146 658zM1168 695 1166 696 1163 695 1162 693 1165 692zM1139 692 1137 695 1134 694 1134 692 1137 690zM1138 691 1138 692 1136 691 1136 690 1137 690zM1153 664 1151 666 1149 666 1148 664 1150 663zM1217 665 1217 667 1214 666 1214 664 1216 664zM1236 707 1235 708 1234 707 1234 707 1235 706zM1204 674 1201 676 1199 674 1199 672 1202 672zM1216 671 1215 672 1213 672 1212 670 1215 670zM1232 673 1230 674 1228 673 1227 671 1230 671zM1173 687 1172 688 1170 689 1169 686 1173 685zM1216 671 1214 671 1212 671 1213 669 1215 670zM1205 648 1205 650 1201 649 1200 646 1203 646zM1187 660 1184 661 1183 660 1183 659 1185 659zM1226 679 1225 680 1223 680 1223 678 1224 677zM1184 706 1182 708 1179 706 1178 703 1182 704zM1101 697 1100 698 1099 697 1099 697 1100 696zM1224 683 1221 686 1219 685 1217 683 1221 682zM1184 649 1183 650 1182 650 1181 649 1183 648zM1222 661 1221 661 1220 662 1220 660 1221 660zM1173 673 1173 675 1170 674 1170 672 1172 672zM1189 695 1188 696 1185 696 1185 694 1187 694zM1133 654 1132 657 1128 656 1129 654 1131 652zM1229 693 1228 695 1226 694 1226 693 1229 692zM1147 675 1146 677 1144 677 1144 675 1146 674zM1177 661 1176 662 1173 661 1171 659 1176 658zM1121 688 1120 689 1119 689 1118 687 1120 687zM1140 656 1138 658 1134 657 1135 655 1137 654zM1166 676 1164 677 1162 677 1161 674 1165 674zM1149 664 1148 666 1146 665 1146 664 1148 663zM1185 650 1185 652 1181 652 1182 649 1184 649zM1133 686 1132 687 1131 687 1131 686 1132 685zM1153 673 1151 676 1148 675 1148 672 1151 672zM1204 689 1204 691 1201 690 1200 688 1203 688zM1124 677 1123 678 1122 678 1122 677 1124 676zM1242 698 1240 700 1237 700 1236 697 1240 697zM1202 688 1202 689 1200 689 1200 688 1202 687zM1164 657 1162 659 1160 658 1160 657 1163 655zM1165 683 1163 684 1161 684 1161 682 1164 681zM1214 699 1213 701 1211 701 1211 699 1212 698zM1202 671 1200 673 1198 672 1199 670 1200 670zM1154 697 1153 699 1150 698 1149 696 1152 695zM1229 684 1228 686 1226 686 1226 684 1228 683zM1231 657 1229 658 1226 657 1227 656 1229 655zM1192 659 1190 659 1188 659 1188 657 1191 657zM1223 694 1222 695 1220 694 1220 692 1222 693zM1206 677 1204 679 1202 677 1202 675 1204 674zM1205 676 1203 678 1201 677 1201 675 1203 674zM1218 679 1217 680 1215 680 1215 678 1217 677zM1147 690 1147 691 1146 690 1146 690 1147 689zM1196 697 1195 699 1193 698 1193 696 1195 696zM1194 651 1192 652 1190 652 1190 650 1192 649zM1133 696 1132 697 1130 697 1130 695 1132 695zM1195 683 1193 685 1190 685 1189 682 1193 682zM1161 652 1160 654 1156 653 1155 650 1160 650zM1159 657 1158 658 1154 659 1154 655 1157 655zM1204 649 1203 650 1200 650 1200 648 1203 647zM1220 686 1219 687 1217 687 1217 684 1219 684zM1179 685 1178 686 1176 685 1176 685 1177 684zM1199 689 1199 692 1195 692 1195 688 1197 687zM1151 661 1149 662 1145 661 1146 659 1148 658zM1212 669 1210 670 1207 670 1207 668 1210 668zM1187 652 1185 653 1183 653 1183 651 1186 650zM1189 664 1187 665 1185 666 1185 663 1187 662zM1233 654 1231 655 1230 655 1230 653 1232 652z"/><path fill="#3ec0c8" d="M1163 691 1162 692 1159 692 1160 690 1161 690zM1194 661 1192 662 1190 662 1191 660 1193 658zM1182 659 1179 662 1176 661 1176 659 1179 658zM1090 671 1089 672 1088 671 1087 670 1089 669zM1118 695 1116 697 1114 697 1114 695 1116 694zM1130 687 1129 688 1127 688 1128 687 1129 686zM1128 667 1127 669 1126 669 1125 667 1128 666zM1207 703 1205 705 1202 704 1203 702 1205 701zM1170 689 1169 691 1166 690 1166 688 1169 688zM1225 694 1224 696 1221 696 1221 693 1225 692zM1235 705 1235 706 1233 705 1234 704 1235 704zM1134 680 1134 682 1131 681 1131 680 1133 679zM1152 657 1151 658 1149 658 1149 656 1151 656zM1154 675 1153 677 1150 676 1150 674 1153 673zM1222 683 1221 684 1218 683 1218 681 1221 682zM1176 698 1175 700 1172 699 1171 696 1174 696zM1099 702 1099 703 1098 703 1098 702 1099 702zM1225 699 1223 701 1221 700 1221 698 1223 698zM1156 705 1154 707 1151 706 1152 704 1154 703zM1140 692 1138 694 1136 694 1137 691 1139 690zM1242 665 1242 667 1240 666 1239 665 1242 664zM1153 690 1152 692 1148 691 1148 688 1152 687zM1172 703 1171 704 1170 703 1170 702 1171 702zM1149 688 1149 688 1147 688 1147 687 1149 687zM1171 694 1169 695 1165 695 1165 693 1169 692zM1221 694 1220 696 1216 696 1216 693 1219 693zM1114 674 1113 674 1111 674 1111 673 1113 672zM1108 675 1107 676 1107 676 1106 675 1107 675zM1137 685 1136 686 1135 685 1135 684 1136 683zM1196 667 1195 669 1193 669 1192 666 1196 665zM1197 696 1196 699 1191 697 1193 695 1196 694zM1212 674 1211 675 1210 675 1210 674 1211 673zM1222 655 1220 657 1218 655 1218 654 1221 653zM1166 648 1165 650 1164 649 1164 648 1165 647zM1169 689 1168 690 1165 690 1165 688 1167 687zM1136 693 1136 694 1134 694 1133 693 1136 692zM1199 673 1197 675 1195 673 1193 672 1197 670zM1171 680 1170 681 1168 681 1167 680 1169 679zM1190 704 1190 706 1188 705 1188 704 1189 703zM1085 690 1085 691 1084 691 1084 690 1085 690zM1233 683 1233 684 1230 684 1230 682 1232 680zM1179 684 1178 685 1175 685 1174 682 1178 682zM1227 658 1225 659 1223 659 1223 658 1225 657zM1229 695 1228 695 1226 695 1226 694 1228 693zM1234 647 1232 649 1231 648 1231 647 1232 646zM1186 654 1185 655 1184 655 1184 654 1185 654zM1224 679 1222 680 1220 680 1220 678 1222 677zM1219 657 1219 658 1217 658 1217 657 1218 656zM1159 680 1158 681 1156 680 1157 678 1159 677zM1166 677 1165 679 1161 678 1162 677 1165 675zM1190 663 1190 665 1187 665 1187 662 1189 661zM1199 674 1198 675 1195 676 1196 673 1197 672zM1174 649 1172 650 1170 650 1170 647 1172 647zM1171 665 1169 667 1166 666 1166 664 1169 663zM1220 667 1219 669 1216 669 1217 667 1220 665zM1184 685 1182 686 1180 685 1180 683 1182 684zM1235 659 1232 661 1230 661 1231 658 1232 658zM1121 706 1121 708 1119 707 1119 706 1120 706zM1191 654 1190 655 1188 655 1188 654 1190 654zM1216 657 1215 659 1213 658 1213 656 1215 656zM1216 649 1214 650 1210 649 1211 647 1214 647zM1228 701 1226 703 1223 703 1223 701 1226 700zM1082 696 1082 697 1081 697 1081 696 1082 696zM1179 663 1177 666 1175 666 1175 663 1178 662zM1236 653 1235 654 1232 654 1232 651 1235 651zM1131 685 1131 686 1129 686 1128 684 1130 684zM1190 693 1188 695 1185 694 1185 692 1188 691zM1149 691 1148 693 1146 692 1146 690 1149 689zM1240 693 1238 694 1235 693 1236 692 1238 691zM1167 703 1166 704 1164 704 1165 702 1166 702zM1225 669 1224 671 1222 671 1221 669 1224 669zM1143 703 1142 705 1139 704 1140 703 1141 701zM1190 655 1190 656 1188 655 1188 655 1190 654zM1171 657 1169 659 1165 658 1165 655 1168 655zM1201 706 1199 707 1198 706 1198 705 1200 705zM1187 698 1185 701 1181 700 1181 697 1185 696zM1228 703 1226 705 1223 704 1223 701 1226 701zM1231 705 1229 706 1226 705 1227 704 1230 702zM1188 652 1188 653 1186 653 1186 652 1187 652zM1216 701 1215 702 1214 702 1214 700 1215 699zM1232 679 1231 680 1229 680 1229 678 1230 677zM1101 688 1100 689 1098 688 1099 687 1100 686zM1238 670 1237 672 1233 672 1234 669 1235 669zM1142 654 1141 656 1138 655 1138 654 1141 653zM1194 694 1192 697 1190 695 1190 693 1193 692zM1146 669 1145 670 1144 669 1144 668 1145 668zM1169 707 1168 708 1166 707 1166 705 1169 705zM1179 682 1177 683 1176 682 1176 680 1177 680zM1194 679 1192 681 1188 680 1190 679 1193 677zM1170 668 1168 669 1166 668 1165 667 1169 666zM1139 697 1139 698 1138 697 1137 696 1138 696zM1218 705 1216 706 1212 706 1213 703 1216 703zM1155 680 1153 681 1150 682 1151 679 1153 679zM1148 680 1146 680 1145 680 1146 679 1147 678zM1175 675 1174 677 1172 676 1171 674 1174 673zM1210 654 1208 656 1203 655 1203 653 1207 652zM1168 681 1166 684 1163 682 1163 680 1166 679zM1171 655 1170 655 1168 655 1168 653 1169 653zM1224 678 1223 679 1222 678 1222 677 1223 677zM1119 700 1118 701 1117 700 1117 699 1118 699zM1133 689 1132 691 1131 690 1131 689 1132 689zM1145 663 1144 665 1141 664 1141 661 1144 661zM1144 667 1142 668 1139 669 1139 666 1143 664zM1162 691 1162 692 1159 691 1159 689 1161 689zM1089 696 1088 697 1087 696 1086 695 1088 695zM1170 660 1168 661 1165 660 1165 657 1167 657zM1153 666 1152 668 1149 668 1149 665 1152 664zM1183 646 1181 648 1178 647 1177 644 1180 645zM1118 687 1117 687 1116 687 1116 686 1117 686zM1111 697 1110 699 1107 699 1108 697 1110 697zM1213 682 1211 684 1209 683 1209 681 1211 681zM1235 695 1233 697 1232 697 1231 695 1234 693zM1179 680 1178 682 1174 681 1175 679 1178 679zM1102 700 1102 700 1101 700 1101 699 1102 699zM1212 693 1211 694 1209 693 1208 692 1211 691zM1227 686 1226 688 1224 687 1224 685 1226 685zM1205 695 1204 696 1203 696 1203 695 1204 694zM1213 650 1213 651 1211 650 1211 649 1212 649zM1075 681 1074 681 1074 681 1073 680 1075 680zM1222 692 1221 693 1220 692 1220 691 1221 690zM1115 660 1114 660 1114 660 1113 659 1114 659zM1199 685 1196 686 1192 686 1193 684 1196 683zM1201 654 1201 655 1199 655 1199 654 1201 654zM1112 661 1111 661 1110 661 1110 660 1111 660zM1210 685 1208 687 1206 687 1206 684 1209 683zM1178 684 1176 686 1174 686 1174 684 1177 682zM1137 704 1136 704 1135 704 1135 703 1136 703zM1230 677 1227 678 1224 677 1223 675 1227 675zM1182 666 1181 668 1179 667 1179 665 1181 664zM1093 673 1092 674 1090 673 1090 672 1092 672zM1154 671 1153 672 1152 671 1152 670 1153 669zM1128 686 1128 687 1126 686 1126 686 1128 685zM1167 692 1166 695 1163 694 1162 691 1164 691zM1236 651 1235 653 1231 652 1231 650 1234 650zM1123 678 1122 679 1120 679 1121 678 1122 677zM1181 686 1178 689 1174 687 1175 684 1178 684zM1145 686 1144 687 1143 687 1142 686 1144 685zM1186 684 1183 687 1181 685 1181 682 1184 682zM1185 648 1184 648 1183 648 1182 647 1184 646zM1157 649 1156 650 1153 650 1154 647 1156 646zM1095 680 1094 681 1092 680 1092 680 1094 679zM1156 685 1155 687 1153 686 1153 684 1156 684zM1173 670 1172 670 1170 670 1170 669 1172 668zM1232 652 1231 654 1229 653 1229 651 1232 650zM1177 648 1176 648 1174 648 1174 647 1175 646zM1211 661 1209 663 1207 663 1208 660 1209 660zM1186 658 1186 660 1183 660 1184 658 1186 657zM1213 659 1211 662 1209 661 1209 659 1211 658zM1196 686 1195 687 1193 687 1193 685 1195 685zM1216 689 1215 691 1212 691 1212 689 1215 688zM1154 702 1153 704 1151 703 1151 701 1153 701zM1211 688 1208 690 1205 689 1206 687 1209 686zM1217 671 1216 673 1214 673 1214 670 1216 669zM1189 665 1189 666 1186 666 1186 664 1188 664zM1201 651 1199 652 1197 651 1197 650 1200 649zM1101 686 1101 687 1100 687 1099 686 1101 685zM1174 683 1173 683 1172 683 1172 682 1173 681zM1174 673 1171 675 1169 674 1168 672 1171 671zM1167 655 1165 656 1163 656 1164 654 1166 653zM1198 688 1197 689 1196 688 1196 687 1197 686zM1202 705 1201 706 1199 706 1198 704 1201 704zM1189 654 1187 655 1186 655 1185 653 1188 652zM1156 657 1154 657 1154 657 1153 655 1155 655zM1147 675 1147 677 1144 676 1145 674 1146 674zM1216 670 1215 671 1213 670 1213 669 1215 668zM1234 657 1232 658 1230 658 1230 656 1232 655zM1199 667 1196 668 1194 668 1193 665 1196 665zM1173 703 1173 703 1171 703 1171 702 1173 701zM1068 681 1068 682 1067 682 1066 681 1068 680zM1196 664 1195 668 1191 666 1191 664 1194 664zM1151 697 1150 699 1147 698 1146 695 1150 695zM1106 675 1105 676 1105 675 1105 674 1105 674zM1110 693 1108 695 1106 694 1106 693 1108 692zM1130 673 1128 674 1126 673 1126 672 1128 672zM1125 701 1124 702 1122 702 1123 701 1124 700zM1135 677 1134 677 1133 677 1133 676 1134 675zM1135 703 1134 704 1133 703 1133 703 1134 702zM1201 679 1199 681 1198 680 1198 679 1200 678zM1244 647 1241 650 1238 649 1238 646 1242 645zM1153 686 1151 687 1149 687 1149 686 1151 685zM1164 684 1163 685 1161 685 1160 683 1163 682zM1141 659 1140 661 1137 661 1137 658 1141 657zM1162 683 1160 684 1158 684 1158 681 1160 681zM1215 669 1212 672 1210 671 1208 668 1213 668zM1165 667 1164 669 1160 669 1160 665 1164 665zM1169 699 1168 701 1164 700 1163 698 1167 697zM1243 669 1242 670 1240 669 1240 667 1243 666zM1147 664 1146 665 1143 665 1142 663 1145 662zM1116 698 1114 699 1113 699 1113 697 1115 696z"/></g><polygon points="1082.4,638.2 1093.7,635.1 1108,681.3 1096.7,684.3" fill="#f2a8a8" opacity="0.6"/><text x="1019.5" y="656" font-size="14.5" fill="#2a2a2a" text-anchor="start" font-weight="normal" textLength="54.5" lengthAdjust="spacingAndGlyphs">Interface</text><g fill="#000"><line x1="1250" y1="643" x2="1250" y2="702" stroke="#000" stroke-width="1.6"/><polygon points="1250,636.5 1246.3,645 1253.7,645"/><polygon points="1250,708.5 1246.3,700 1253.7,700"/></g><text transform="translate(1266,673) rotate(-90)" font-size="11.5" fill="#222" text-anchor="middle">45 nm</text><g fill="none" stroke-width="1.1" stroke-dasharray="1.5,1.5"><line x1="718.6" y1="661" x2="718.6" y2="737" stroke="#d050c0"/><line x1="731" y1="660.6" x2="862" y2="733" stroke="#d050c0"/><line x1="906.8" y1="669" x2="906.8" y2="737" stroke="#e09040"/><line x1="920" y1="668.6" x2="1051" y2="732.5" stroke="#e09040"/><line x1="1094.8" y1="680" x2="1094.8" y2="737" stroke="#e89090"/><line x1="1105.7" y1="670" x2="1243" y2="733.6" stroke="#e08060"/></g><rect x="716.8" y="739" width="145.5" height="116.9" fill="#fff" stroke="#777" stroke-width="1"/><line x1="789.5" y1="739" x2="789.5" y2="855.9" stroke="#222" stroke-width="1.3" stroke-dasharray="3,2.5"/><polyline points="719.8,815.5 725.9,813.4 732,818.7 738,807 744.1,808.1 750.1,818.7 756.2,811.3 762.3,807 768.3,814.5 774.4,831.5 780.5,809.1 786.5,811.3 792.6,829.3 798.6,827.2 804.7,824 810.8,814.5 816.8,833.6 822.9,826.1 829,833.6 835,845.3 841.1,845.3 847.1,845.3 853.2,828.3 859.3,845.3" fill="none" stroke="#30d8e8" stroke-width="0.8"/><g fill="#30d8e8"><circle cx="719.8" cy="815.5" r="1.6"/><circle cx="725.9" cy="813.4" r="1.6"/><circle cx="732" cy="818.7" r="1.6"/><circle cx="738" cy="807" r="1.6"/><circle cx="744.1" cy="808.1" r="1.6"/><circle cx="750.1" cy="818.7" r="1.6"/><circle cx="756.2" cy="811.3" r="1.6"/><circle cx="762.3" cy="807" r="1.6"/><circle cx="768.3" cy="814.5" r="1.6"/><circle cx="774.4" cy="831.5" r="1.6"/><circle cx="780.5" cy="809.1" r="1.6"/><circle cx="786.5" cy="811.3" r="1.6"/><circle cx="792.6" cy="829.3" r="1.6"/><circle cx="798.6" cy="827.2" r="1.6"/><circle cx="804.7" cy="824" r="1.6"/><circle cx="810.8" cy="814.5" r="1.6"/><circle cx="816.8" cy="833.6" r="1.6"/><circle cx="822.9" cy="826.1" r="1.6"/><circle cx="829" cy="833.6" r="1.6"/><circle cx="835" cy="845.3" r="1.6"/><circle cx="841.1" cy="845.3" r="1.6"/><circle cx="847.1" cy="845.3" r="1.6"/><circle cx="853.2" cy="828.3" r="1.6"/><circle cx="859.3" cy="845.3" r="1.6"/></g><polyline points="719.8,832.5 725.9,834.6 732,838.9 738,826.1 744.1,834.6 750.1,836.8 756.2,832.5 762.3,834.6 768.3,833.6 774.4,836.8 780.5,830.4 786.5,833.6 792.6,834.6 798.6,830.4 804.7,837.8 810.8,828.3 816.8,817.6 822.9,832.5 829,840 835,838.9 841.1,836.8 847.1,840 853.2,828.3 859.3,810.2" fill="none" stroke="#f08a30" stroke-width="0.8"/><g fill="#f08a30"><circle cx="719.8" cy="832.5" r="1.6"/><circle cx="725.9" cy="834.6" r="1.6"/><circle cx="732" cy="838.9" r="1.6"/><circle cx="738" cy="826.1" r="1.6"/><circle cx="744.1" cy="834.6" r="1.6"/><circle cx="750.1" cy="836.8" r="1.6"/><circle cx="756.2" cy="832.5" r="1.6"/><circle cx="762.3" cy="834.6" r="1.6"/><circle cx="768.3" cy="833.6" r="1.6"/><circle cx="774.4" cy="836.8" r="1.6"/><circle cx="780.5" cy="830.4" r="1.6"/><circle cx="786.5" cy="833.6" r="1.6"/><circle cx="792.6" cy="834.6" r="1.6"/><circle cx="798.6" cy="830.4" r="1.6"/><circle cx="804.7" cy="837.8" r="1.6"/><circle cx="810.8" cy="828.3" r="1.6"/><circle cx="816.8" cy="817.6" r="1.6"/><circle cx="822.9" cy="832.5" r="1.6"/><circle cx="829" cy="840" r="1.6"/><circle cx="835" cy="838.9" r="1.6"/><circle cx="841.1" cy="836.8" r="1.6"/><circle cx="847.1" cy="840" r="1.6"/><circle cx="853.2" cy="828.3" r="1.6"/><circle cx="859.3" cy="810.2" r="1.6"/></g><polyline points="719.8,831.5 725.9,828.3 732,818.7 738,834.6 744.1,829.3 750.1,825.1 756.2,838.9 762.3,836.8 768.3,830.4 774.4,813.4 780.5,841 786.5,833.6 792.6,837.8 798.6,824 804.7,836.8 810.8,829.3 816.8,835.7 822.9,826.1 829,845.3 835,837.8 841.1,836.8 847.1,834.6 853.2,845.3 859.3,845.3" fill="none" stroke="#8020d0" stroke-width="0.8"/><g fill="#8020d0"><circle cx="719.8" cy="831.5" r="1.6"/><circle cx="725.9" cy="828.3" r="1.6"/><circle cx="732" cy="818.7" r="1.6"/><circle cx="738" cy="834.6" r="1.6"/><circle cx="744.1" cy="829.3" r="1.6"/><circle cx="750.1" cy="825.1" r="1.6"/><circle cx="756.2" cy="838.9" r="1.6"/><circle cx="762.3" cy="836.8" r="1.6"/><circle cx="768.3" cy="830.4" r="1.6"/><circle cx="774.4" cy="813.4" r="1.6"/><circle cx="780.5" cy="841" r="1.6"/><circle cx="786.5" cy="833.6" r="1.6"/><circle cx="792.6" cy="837.8" r="1.6"/><circle cx="798.6" cy="824" r="1.6"/><circle cx="804.7" cy="836.8" r="1.6"/><circle cx="810.8" cy="829.3" r="1.6"/><circle cx="816.8" cy="835.7" r="1.6"/><circle cx="822.9" cy="826.1" r="1.6"/><circle cx="829" cy="845.3" r="1.6"/><circle cx="835" cy="837.8" r="1.6"/><circle cx="841.1" cy="836.8" r="1.6"/><circle cx="847.1" cy="834.6" r="1.6"/><circle cx="853.2" cy="845.3" r="1.6"/><circle cx="859.3" cy="845.3" r="1.6"/></g><polyline points="719.8,842.1 725.9,845.3 732,838.9 738,844.2 744.1,840 750.1,838.9 756.2,835.7 762.3,836.8 768.3,834.6 774.4,837.8 780.5,836.8 786.5,828.3 792.6,800.6 798.6,808.1 804.7,798.5 810.8,814.5 816.8,798.5 822.9,795.3 829,762.4 835,760.3 841.1,754.9 847.1,770.9 853.2,774.1 859.3,774.1" fill="none" stroke="#e0207a" stroke-width="0.8"/><g fill="#e0207a"><circle cx="719.8" cy="842.1" r="1.6"/><circle cx="725.9" cy="845.3" r="1.6"/><circle cx="732" cy="838.9" r="1.6"/><circle cx="738" cy="844.2" r="1.6"/><circle cx="744.1" cy="840" r="1.6"/><circle cx="750.1" cy="838.9" r="1.6"/><circle cx="756.2" cy="835.7" r="1.6"/><circle cx="762.3" cy="836.8" r="1.6"/><circle cx="768.3" cy="834.6" r="1.6"/><circle cx="774.4" cy="837.8" r="1.6"/><circle cx="780.5" cy="836.8" r="1.6"/><circle cx="786.5" cy="828.3" r="1.6"/><circle cx="792.6" cy="800.6" r="1.6"/><circle cx="798.6" cy="808.1" r="1.6"/><circle cx="804.7" cy="798.5" r="1.6"/><circle cx="810.8" cy="814.5" r="1.6"/><circle cx="816.8" cy="798.5" r="1.6"/><circle cx="822.9" cy="795.3" r="1.6"/><circle cx="829" cy="762.4" r="1.6"/><circle cx="835" cy="760.3" r="1.6"/><circle cx="841.1" cy="754.9" r="1.6"/><circle cx="847.1" cy="770.9" r="1.6"/><circle cx="853.2" cy="774.1" r="1.6"/><circle cx="859.3" cy="774.1" r="1.6"/></g><polyline points="719.8,796.4 725.9,797.5 732,804.9 738,807 744.1,808.1 750.1,800.6 756.2,802.8 762.3,806 768.3,808.1 774.4,801.7 780.5,804.9 786.5,813.4 792.6,816.6 798.6,827.2 804.7,821.9 810.8,833.6 816.8,835.7 822.9,832.5 829,838.9 835,837.8 841.1,845.3 847.1,824 853.2,845.3 859.3,845.3" fill="none" stroke="#6ab020" stroke-width="0.8"/><g fill="#6ab020"><circle cx="719.8" cy="796.4" r="1.6"/><circle cx="725.9" cy="797.5" r="1.6"/><circle cx="732" cy="804.9" r="1.6"/><circle cx="738" cy="807" r="1.6"/><circle cx="744.1" cy="808.1" r="1.6"/><circle cx="750.1" cy="800.6" r="1.6"/><circle cx="756.2" cy="802.8" r="1.6"/><circle cx="762.3" cy="806" r="1.6"/><circle cx="768.3" cy="808.1" r="1.6"/><circle cx="774.4" cy="801.7" r="1.6"/><circle cx="780.5" cy="804.9" r="1.6"/><circle cx="786.5" cy="813.4" r="1.6"/><circle cx="792.6" cy="816.6" r="1.6"/><circle cx="798.6" cy="827.2" r="1.6"/><circle cx="804.7" cy="821.9" r="1.6"/><circle cx="810.8" cy="833.6" r="1.6"/><circle cx="816.8" cy="835.7" r="1.6"/><circle cx="822.9" cy="832.5" r="1.6"/><circle cx="829" cy="838.9" r="1.6"/><circle cx="835" cy="837.8" r="1.6"/><circle cx="841.1" cy="845.3" r="1.6"/><circle cx="847.1" cy="824" r="1.6"/><circle cx="853.2" cy="845.3" r="1.6"/><circle cx="859.3" cy="845.3" r="1.6"/></g><line x1="728.9" y1="855.9" x2="728.9" y2="853.9" stroke="#555" stroke-width="0.6"/><text x="728.9" y="861.4" font-size="5.3" fill="#444" text-anchor="middle" font-weight="normal" >-1.0</text><line x1="759.2" y1="855.9" x2="759.2" y2="853.9" stroke="#555" stroke-width="0.6"/><text x="759.2" y="861.4" font-size="5.3" fill="#444" text-anchor="middle" font-weight="normal" >-0.5</text><line x1="789.5" y1="855.9" x2="789.5" y2="853.9" stroke="#555" stroke-width="0.6"/><text x="789.5" y="861.4" font-size="5.3" fill="#444" text-anchor="middle" font-weight="normal" >0.0</text><line x1="819.9" y1="855.9" x2="819.9" y2="853.9" stroke="#555" stroke-width="0.6"/><text x="819.9" y="861.4" font-size="5.3" fill="#444" text-anchor="middle" font-weight="normal" >0.5</text><line x1="850.2" y1="855.9" x2="850.2" y2="853.9" stroke="#555" stroke-width="0.6"/><text x="850.2" y="861.4" font-size="5.3" fill="#444" text-anchor="middle" font-weight="normal" >1.0</text><text x="715.3" y="847.1" font-size="5.3" fill="#444" text-anchor="end" font-weight="normal" >0</text><text x="715.3" y="825.8" font-size="5.3" fill="#444" text-anchor="end" font-weight="normal" >20</text><text x="715.3" y="804.6" font-size="5.3" fill="#444" text-anchor="end" font-weight="normal" >40</text><text x="715.3" y="783.3" font-size="5.3" fill="#444" text-anchor="end" font-weight="normal" >60</text><text x="715.3" y="762.1" font-size="5.3" fill="#444" text-anchor="end" font-weight="normal" >80</text><text x="715.3" y="740.8" font-size="5.3" fill="#444" text-anchor="end" font-weight="normal" >100</text><text x="789.5" y="866.9" font-size="6.2" fill="#333" text-anchor="middle" font-weight="normal" >Distance (nm)</text><text transform="translate(708.8,797.5) rotate(-90)" font-size="6.2" fill="#333" text-anchor="middle">Concentration (at.%)</text><line x1="720.3" y1="744" x2="735.3" y2="744" stroke="#30d8e8" stroke-width="0.8"/><circle cx="727.8" cy="744" r="1.5" fill="#30d8e8"/><text x="738.8" y="746" font-size="5.5" fill="#333" text-anchor="start" font-weight="normal" >Al</text><line x1="720.3" y1="751.5" x2="735.3" y2="751.5" stroke="#8020d0" stroke-width="0.8"/><circle cx="727.8" cy="751.5" r="1.5" fill="#8020d0"/><text x="738.8" y="753.5" font-size="5.5" fill="#333" text-anchor="start" font-weight="normal" >Co</text><line x1="720.3" y1="759" x2="735.3" y2="759" stroke="#e0207a" stroke-width="0.8"/><circle cx="727.8" cy="759" r="1.5" fill="#e0207a"/><text x="738.8" y="761" font-size="5.5" fill="#333" text-anchor="start" font-weight="normal" >Cr</text><line x1="720.3" y1="766.5" x2="735.3" y2="766.5" stroke="#f08a30" stroke-width="0.8"/><circle cx="727.8" cy="766.5" r="1.5" fill="#f08a30"/><text x="738.8" y="768.5" font-size="5.5" fill="#333" text-anchor="start" font-weight="normal" >Fe</text><line x1="720.3" y1="774" x2="735.3" y2="774" stroke="#6ab020" stroke-width="0.8"/><circle cx="727.8" cy="774" r="1.5" fill="#6ab020"/><text x="738.8" y="776" font-size="5.5" fill="#333" text-anchor="start" font-weight="normal" >Ni</text><g stroke-width="0.6" opacity="0.45"><line x1="719.8" y1="834.6" x2="719.8" y2="849.5" stroke="#f080b0"/><line x1="720.6" y1="790" x2="720.6" y2="802.8" stroke="#a0d080"/><line x1="719" y1="826.1" x2="719" y2="838.9" stroke="#f8c090"/><line x1="725.9" y1="837.8" x2="725.9" y2="852.7" stroke="#f080b0"/><line x1="726.7" y1="791.1" x2="726.7" y2="803.8" stroke="#a0d080"/><line x1="725.1" y1="828.3" x2="725.1" y2="841" stroke="#f8c090"/><line x1="732" y1="831.5" x2="732" y2="846.3" stroke="#f080b0"/><line x1="732.8" y1="798.5" x2="732.8" y2="811.3" stroke="#a0d080"/><line x1="731.2" y1="832.5" x2="731.2" y2="845.3" stroke="#f8c090"/><line x1="738" y1="836.8" x2="738" y2="851.6" stroke="#f080b0"/><line x1="738.8" y1="800.6" x2="738.8" y2="813.4" stroke="#a0d080"/><line x1="737.2" y1="819.8" x2="737.2" y2="832.5" stroke="#f8c090"/><line x1="744.1" y1="832.5" x2="744.1" y2="847.4" stroke="#f080b0"/><line x1="744.9" y1="801.7" x2="744.9" y2="814.5" stroke="#a0d080"/><line x1="743.3" y1="828.3" x2="743.3" y2="841" stroke="#f8c090"/><line x1="750.1" y1="831.5" x2="750.1" y2="846.3" stroke="#f080b0"/><line x1="750.9" y1="794.3" x2="750.9" y2="807" stroke="#a0d080"/><line x1="749.3" y1="830.4" x2="749.3" y2="843.1" stroke="#f8c090"/><line x1="756.2" y1="828.3" x2="756.2" y2="843.1" stroke="#f080b0"/><line x1="757" y1="796.4" x2="757" y2="809.1" stroke="#a0d080"/><line x1="755.4" y1="826.1" x2="755.4" y2="838.9" stroke="#f8c090"/><line x1="762.3" y1="829.3" x2="762.3" y2="844.2" stroke="#f080b0"/><line x1="763.1" y1="799.6" x2="763.1" y2="812.3" stroke="#a0d080"/><line x1="761.5" y1="828.3" x2="761.5" y2="841" stroke="#f8c090"/><line x1="768.3" y1="827.2" x2="768.3" y2="842.1" stroke="#f080b0"/><line x1="769.1" y1="801.7" x2="769.1" y2="814.5" stroke="#a0d080"/><line x1="767.5" y1="827.2" x2="767.5" y2="840" stroke="#f8c090"/><line x1="774.4" y1="830.4" x2="774.4" y2="845.3" stroke="#f080b0"/><line x1="775.2" y1="795.3" x2="775.2" y2="808.1" stroke="#a0d080"/><line x1="773.6" y1="830.4" x2="773.6" y2="843.1" stroke="#f8c090"/><line x1="780.5" y1="829.3" x2="780.5" y2="844.2" stroke="#f080b0"/><line x1="781.3" y1="798.5" x2="781.3" y2="811.3" stroke="#a0d080"/><line x1="779.7" y1="824" x2="779.7" y2="836.8" stroke="#f8c090"/><line x1="786.5" y1="820.8" x2="786.5" y2="835.7" stroke="#f080b0"/><line x1="787.3" y1="807" x2="787.3" y2="819.8" stroke="#a0d080"/><line x1="785.7" y1="827.2" x2="785.7" y2="840" stroke="#f8c090"/><line x1="792.6" y1="793.2" x2="792.6" y2="808.1" stroke="#f080b0"/><line x1="793.4" y1="810.2" x2="793.4" y2="823" stroke="#a0d080"/><line x1="791.8" y1="828.3" x2="791.8" y2="841" stroke="#f8c090"/><line x1="798.6" y1="800.6" x2="798.6" y2="815.5" stroke="#f080b0"/><line x1="799.4" y1="820.8" x2="799.4" y2="833.6" stroke="#a0d080"/><line x1="797.8" y1="824" x2="797.8" y2="836.8" stroke="#f8c090"/><line x1="804.7" y1="791.1" x2="804.7" y2="806" stroke="#f080b0"/><line x1="805.5" y1="815.5" x2="805.5" y2="828.3" stroke="#a0d080"/><line x1="803.9" y1="831.5" x2="803.9" y2="844.2" stroke="#f8c090"/><line x1="810.8" y1="807" x2="810.8" y2="821.9" stroke="#f080b0"/><line x1="811.6" y1="827.2" x2="811.6" y2="840" stroke="#a0d080"/><line x1="810" y1="821.9" x2="810" y2="834.6" stroke="#f8c090"/><line x1="816.8" y1="791.1" x2="816.8" y2="806" stroke="#f080b0"/><line x1="817.6" y1="829.3" x2="817.6" y2="842.1" stroke="#a0d080"/><line x1="816" y1="811.3" x2="816" y2="824" stroke="#f8c090"/><line x1="822.9" y1="782.6" x2="822.9" y2="808.1" stroke="#f080b0"/><line x1="823.7" y1="826.1" x2="823.7" y2="838.9" stroke="#a0d080"/><line x1="822.1" y1="826.1" x2="822.1" y2="838.9" stroke="#f8c090"/><line x1="829" y1="749.6" x2="829" y2="775.1" stroke="#f080b0"/><line x1="829.8" y1="832.5" x2="829.8" y2="845.3" stroke="#a0d080"/><line x1="828.2" y1="833.6" x2="828.2" y2="846.3" stroke="#f8c090"/><line x1="835" y1="747.5" x2="835" y2="773" stroke="#f080b0"/><line x1="835.8" y1="831.5" x2="835.8" y2="844.2" stroke="#a0d080"/><line x1="834.2" y1="832.5" x2="834.2" y2="845.3" stroke="#f8c090"/><line x1="841.1" y1="742.2" x2="841.1" y2="767.7" stroke="#f080b0"/><line x1="841.9" y1="838.9" x2="841.9" y2="851.6" stroke="#a0d080"/><line x1="840.3" y1="830.4" x2="840.3" y2="843.1" stroke="#f8c090"/><line x1="847.1" y1="758.1" x2="847.1" y2="783.6" stroke="#f080b0"/><line x1="847.9" y1="817.6" x2="847.9" y2="830.4" stroke="#a0d080"/><line x1="846.3" y1="833.6" x2="846.3" y2="846.3" stroke="#f8c090"/><line x1="853.2" y1="761.3" x2="853.2" y2="786.8" stroke="#f080b0"/><line x1="854" y1="838.9" x2="854" y2="851.6" stroke="#a0d080"/><line x1="852.4" y1="821.9" x2="852.4" y2="834.6" stroke="#f8c090"/><line x1="859.3" y1="761.3" x2="859.3" y2="786.8" stroke="#f080b0"/><line x1="860.1" y1="838.9" x2="860.1" y2="851.6" stroke="#a0d080"/><line x1="858.5" y1="803.8" x2="858.5" y2="816.6" stroke="#f8c090"/></g><text x="765" y="761" font-size="11.5" fill="#111" text-anchor="start" font-weight="normal" textLength="11.5" lengthAdjust="spacingAndGlyphs">B2</text><text x="798.5" y="761" font-size="11.5" fill="#111" text-anchor="start" font-weight="normal" textLength="18.5" lengthAdjust="spacingAndGlyphs">BCC</text><g fill="#000"><line x1="760" y1="764.4" x2="782" y2="764.4" stroke="#000" stroke-width="1.3"/><polygon points="756,764.4 762,761.5 762,767.3"/><line x1="797" y1="764.4" x2="819" y2="764.4" stroke="#000" stroke-width="1.3"/><polygon points="823,764.4 817,761.5 817,767.3"/></g><rect x="905.7" y="738.3" width="145.7" height="116.7" fill="#fff" stroke="#777" stroke-width="1"/><line x1="978.6" y1="738.3" x2="978.6" y2="855" stroke="#222" stroke-width="1.3" stroke-dasharray="3,2.5"/><polyline points="908.5,822.1 914.1,823.2 919.7,822.5 925.3,823.2 930.9,823.2 936.5,822.1 942.1,821.1 947.7,821.5 953.3,821.7 958.9,822.1 964.5,821.1 970.1,821.5 975.7,820.4 981.4,820 987,818.9 992.6,818.9 998.2,816.8 1003.8,818.5 1009.4,818.3 1015,816.2 1020.6,817.9 1026.2,814.7 1031.8,814.7 1037.4,817.9 1043,818.9 1048.6,813.6" fill="none" stroke="#30d8e8" stroke-width="0.8"/><g fill="#30d8e8"><circle cx="908.5" cy="822.1" r="1.5"/><circle cx="914.1" cy="823.2" r="1.5"/><circle cx="919.7" cy="822.5" r="1.5"/><circle cx="925.3" cy="823.2" r="1.5"/><circle cx="930.9" cy="823.2" r="1.5"/><circle cx="936.5" cy="822.1" r="1.5"/><circle cx="942.1" cy="821.1" r="1.5"/><circle cx="947.7" cy="821.5" r="1.5"/><circle cx="953.3" cy="821.7" r="1.5"/><circle cx="958.9" cy="822.1" r="1.5"/><circle cx="964.5" cy="821.1" r="1.5"/><circle cx="970.1" cy="821.5" r="1.5"/><circle cx="975.7" cy="820.4" r="1.5"/><circle cx="981.4" cy="820" r="1.5"/><circle cx="987" cy="818.9" r="1.5"/><circle cx="992.6" cy="818.9" r="1.5"/><circle cx="998.2" cy="816.8" r="1.5"/><circle cx="1003.8" cy="818.5" r="1.5"/><circle cx="1009.4" cy="818.3" r="1.5"/><circle cx="1015" cy="816.2" r="1.5"/><circle cx="1020.6" cy="817.9" r="1.5"/><circle cx="1026.2" cy="814.7" r="1.5"/><circle cx="1031.8" cy="814.7" r="1.5"/><circle cx="1037.4" cy="817.9" r="1.5"/><circle cx="1043" cy="818.9" r="1.5"/><circle cx="1048.6" cy="813.6" r="1.5"/></g><polyline points="908.5,797.7 914.1,799.8 919.7,800.5 925.3,800.9 930.9,802 936.5,800.9 942.1,801.5 947.7,802 953.3,802.4 958.9,803 964.5,804.1 970.1,805.1 975.7,804.1 981.4,806.2 987,806.6 992.6,806.2 998.2,807.3 1003.8,806.8 1009.4,807.3 1015,808.3 1020.6,808.3 1026.2,809.4 1031.8,808.3 1037.4,808.3 1043,809.4 1048.6,810.4" fill="none" stroke="#f08a30" stroke-width="0.8"/><g fill="#f08a30"><circle cx="908.5" cy="797.7" r="1.5"/><circle cx="914.1" cy="799.8" r="1.5"/><circle cx="919.7" cy="800.5" r="1.5"/><circle cx="925.3" cy="800.9" r="1.5"/><circle cx="930.9" cy="802" r="1.5"/><circle cx="936.5" cy="800.9" r="1.5"/><circle cx="942.1" cy="801.5" r="1.5"/><circle cx="947.7" cy="802" r="1.5"/><circle cx="953.3" cy="802.4" r="1.5"/><circle cx="958.9" cy="803" r="1.5"/><circle cx="964.5" cy="804.1" r="1.5"/><circle cx="970.1" cy="805.1" r="1.5"/><circle cx="975.7" cy="804.1" r="1.5"/><circle cx="981.4" cy="806.2" r="1.5"/><circle cx="987" cy="806.6" r="1.5"/><circle cx="992.6" cy="806.2" r="1.5"/><circle cx="998.2" cy="807.3" r="1.5"/><circle cx="1003.8" cy="806.8" r="1.5"/><circle cx="1009.4" cy="807.3" r="1.5"/><circle cx="1015" cy="808.3" r="1.5"/><circle cx="1020.6" cy="808.3" r="1.5"/><circle cx="1026.2" cy="809.4" r="1.5"/><circle cx="1031.8" cy="808.3" r="1.5"/><circle cx="1037.4" cy="808.3" r="1.5"/><circle cx="1043" cy="809.4" r="1.5"/><circle cx="1048.6" cy="810.4" r="1.5"/></g><polyline points="908.5,803 914.1,804.1 919.7,804.1 925.3,802 930.9,802 936.5,803 942.1,803 947.7,802 953.3,803.7 958.9,804.1 964.5,805.6 970.1,806.2 975.7,804.1 981.4,807.3 987,807.3 992.6,808.3 998.2,808.3 1003.8,807.9 1009.4,808.3 1015,809.8 1020.6,809 1026.2,810.4 1031.8,811.5 1037.4,809.4 1043,810.4 1048.6,810.4" fill="none" stroke="#8020d0" stroke-width="0.8"/><g fill="#8020d0"><circle cx="908.5" cy="803" r="1.5"/><circle cx="914.1" cy="804.1" r="1.5"/><circle cx="919.7" cy="804.1" r="1.5"/><circle cx="925.3" cy="802" r="1.5"/><circle cx="930.9" cy="802" r="1.5"/><circle cx="936.5" cy="803" r="1.5"/><circle cx="942.1" cy="803" r="1.5"/><circle cx="947.7" cy="802" r="1.5"/><circle cx="953.3" cy="803.7" r="1.5"/><circle cx="958.9" cy="804.1" r="1.5"/><circle cx="964.5" cy="805.6" r="1.5"/><circle cx="970.1" cy="806.2" r="1.5"/><circle cx="975.7" cy="804.1" r="1.5"/><circle cx="981.4" cy="807.3" r="1.5"/><circle cx="987" cy="807.3" r="1.5"/><circle cx="992.6" cy="808.3" r="1.5"/><circle cx="998.2" cy="808.3" r="1.5"/><circle cx="1003.8" cy="807.9" r="1.5"/><circle cx="1009.4" cy="808.3" r="1.5"/><circle cx="1015" cy="809.8" r="1.5"/><circle cx="1020.6" cy="809" r="1.5"/><circle cx="1026.2" cy="810.4" r="1.5"/><circle cx="1031.8" cy="811.5" r="1.5"/><circle cx="1037.4" cy="809.4" r="1.5"/><circle cx="1043" cy="810.4" r="1.5"/><circle cx="1048.6" cy="810.4" r="1.5"/></g><polyline points="908.5,793.5 914.1,791.3 919.7,791.8 925.3,791.8 930.9,793.5 936.5,793.9 942.1,795 947.7,796.6 953.3,796 958.9,797.7 964.5,797.3 970.1,797.7 975.7,799.2 981.4,799.8 987,800.9 992.6,800.9 998.2,803 1003.8,802 1009.4,804.1 1015,804.1 1020.6,803 1026.2,802 1031.8,807.3 1037.4,803 1043,799.8 1048.6,810.4" fill="none" stroke="#e0207a" stroke-width="0.8"/><g fill="#e0207a"><circle cx="908.5" cy="793.5" r="1.5"/><circle cx="914.1" cy="791.3" r="1.5"/><circle cx="919.7" cy="791.8" r="1.5"/><circle cx="925.3" cy="791.8" r="1.5"/><circle cx="930.9" cy="793.5" r="1.5"/><circle cx="936.5" cy="793.9" r="1.5"/><circle cx="942.1" cy="795" r="1.5"/><circle cx="947.7" cy="796.6" r="1.5"/><circle cx="953.3" cy="796" r="1.5"/><circle cx="958.9" cy="797.7" r="1.5"/><circle cx="964.5" cy="797.3" r="1.5"/><circle cx="970.1" cy="797.7" r="1.5"/><circle cx="975.7" cy="799.2" r="1.5"/><circle cx="981.4" cy="799.8" r="1.5"/><circle cx="987" cy="800.9" r="1.5"/><circle cx="992.6" cy="800.9" r="1.5"/><circle cx="998.2" cy="803" r="1.5"/><circle cx="1003.8" cy="802" r="1.5"/><circle cx="1009.4" cy="804.1" r="1.5"/><circle cx="1015" cy="804.1" r="1.5"/><circle cx="1020.6" cy="803" r="1.5"/><circle cx="1026.2" cy="802" r="1.5"/><circle cx="1031.8" cy="807.3" r="1.5"/><circle cx="1037.4" cy="803" r="1.5"/><circle cx="1043" cy="799.8" r="1.5"/><circle cx="1048.6" cy="810.4" r="1.5"/></g><polyline points="908.5,791.3 914.1,789.2 919.7,790.3 925.3,790.3 930.9,789.2 936.5,790.3 942.1,790.3 947.7,788.2 953.3,787.1 958.9,783.9 964.5,782.9 970.1,781.8 975.7,781.2 981.4,776.5 987,775.4 992.6,774.4 998.2,775.4 1003.8,773.9 1009.4,773.3 1015,773.3 1020.6,772.2 1026.2,772.2 1031.8,770.1 1037.4,771.2 1043,771.2 1048.6,770.1" fill="none" stroke="#6ab020" stroke-width="0.8"/><g fill="#6ab020"><circle cx="908.5" cy="791.3" r="1.5"/><circle cx="914.1" cy="789.2" r="1.5"/><circle cx="919.7" cy="790.3" r="1.5"/><circle cx="925.3" cy="790.3" r="1.5"/><circle cx="930.9" cy="789.2" r="1.5"/><circle cx="936.5" cy="790.3" r="1.5"/><circle cx="942.1" cy="790.3" r="1.5"/><circle cx="947.7" cy="788.2" r="1.5"/><circle cx="953.3" cy="787.1" r="1.5"/><circle cx="958.9" cy="783.9" r="1.5"/><circle cx="964.5" cy="782.9" r="1.5"/><circle cx="970.1" cy="781.8" r="1.5"/><circle cx="975.7" cy="781.2" r="1.5"/><circle cx="981.4" cy="776.5" r="1.5"/><circle cx="987" cy="775.4" r="1.5"/><circle cx="992.6" cy="774.4" r="1.5"/><circle cx="998.2" cy="775.4" r="1.5"/><circle cx="1003.8" cy="773.9" r="1.5"/><circle cx="1009.4" cy="773.3" r="1.5"/><circle cx="1015" cy="773.3" r="1.5"/><circle cx="1020.6" cy="772.2" r="1.5"/><circle cx="1026.2" cy="772.2" r="1.5"/><circle cx="1031.8" cy="770.1" r="1.5"/><circle cx="1037.4" cy="771.2" r="1.5"/><circle cx="1043" cy="771.2" r="1.5"/><circle cx="1048.6" cy="770.1" r="1.5"/></g><line x1="922.5" y1="855" x2="922.5" y2="853" stroke="#555" stroke-width="0.6"/><text x="922.5" y="860.5" font-size="5.3" fill="#444" text-anchor="middle" font-weight="normal" >-1.0</text><line x1="950.5" y1="855" x2="950.5" y2="853" stroke="#555" stroke-width="0.6"/><text x="950.5" y="860.5" font-size="5.3" fill="#444" text-anchor="middle" font-weight="normal" >-0.5</text><line x1="978.6" y1="855" x2="978.6" y2="853" stroke="#555" stroke-width="0.6"/><text x="978.6" y="860.5" font-size="5.3" fill="#444" text-anchor="middle" font-weight="normal" >0.0</text><line x1="1006.6" y1="855" x2="1006.6" y2="853" stroke="#555" stroke-width="0.6"/><text x="1006.6" y="860.5" font-size="5.3" fill="#444" text-anchor="middle" font-weight="normal" >0.5</text><line x1="1034.6" y1="855" x2="1034.6" y2="853" stroke="#555" stroke-width="0.6"/><text x="1034.6" y="860.5" font-size="5.3" fill="#444" text-anchor="middle" font-weight="normal" >1.0</text><text x="904.2" y="846.2" font-size="5.3" fill="#444" text-anchor="end" font-weight="normal" >0</text><text x="904.2" y="825" font-size="5.3" fill="#444" text-anchor="end" font-weight="normal" >10</text><text x="904.2" y="803.8" font-size="5.3" fill="#444" text-anchor="end" font-weight="normal" >20</text><text x="904.2" y="782.5" font-size="5.3" fill="#444" text-anchor="end" font-weight="normal" >30</text><text x="904.2" y="761.3" font-size="5.3" fill="#444" text-anchor="end" font-weight="normal" >40</text><text x="904.2" y="740.1" font-size="5.3" fill="#444" text-anchor="end" font-weight="normal" >50</text><text x="978.6" y="866" font-size="6.2" fill="#333" text-anchor="middle" font-weight="normal" >Distance (nm)</text><text transform="translate(897.7,796.6) rotate(-90)" font-size="6.2" fill="#333" text-anchor="middle">Concentration (at.%)</text><line x1="909.2" y1="743.3" x2="924.2" y2="743.3" stroke="#30d8e8" stroke-width="0.8"/><circle cx="916.7" cy="743.3" r="1.5" fill="#30d8e8"/><text x="927.7" y="745.3" font-size="5.5" fill="#333" text-anchor="start" font-weight="normal" >Al</text><line x1="909.2" y1="750.8" x2="924.2" y2="750.8" stroke="#8020d0" stroke-width="0.8"/><circle cx="916.7" cy="750.8" r="1.5" fill="#8020d0"/><text x="927.7" y="752.8" font-size="5.5" fill="#333" text-anchor="start" font-weight="normal" >Co</text><line x1="909.2" y1="758.3" x2="924.2" y2="758.3" stroke="#e0207a" stroke-width="0.8"/><circle cx="916.7" cy="758.3" r="1.5" fill="#e0207a"/><text x="927.7" y="760.3" font-size="5.5" fill="#333" text-anchor="start" font-weight="normal" >Cr</text><line x1="909.2" y1="765.8" x2="924.2" y2="765.8" stroke="#f08a30" stroke-width="0.8"/><circle cx="916.7" cy="765.8" r="1.5" fill="#f08a30"/><text x="927.7" y="767.8" font-size="5.5" fill="#333" text-anchor="start" font-weight="normal" >Fe</text><line x1="909.2" y1="773.3" x2="924.2" y2="773.3" stroke="#6ab020" stroke-width="0.8"/><circle cx="916.7" cy="773.3" r="1.5" fill="#6ab020"/><text x="927.7" y="775.3" font-size="5.5" fill="#333" text-anchor="start" font-weight="normal" >Ni</text><text x="953" y="761" font-size="11.5" fill="#111" text-anchor="start" font-weight="normal" textLength="17" lengthAdjust="spacingAndGlyphs">FCC</text><text x="990" y="761" font-size="11.5" fill="#111" letter-spacing="-0.5">L1<tspan font-size="7.5" dy="3">2</tspan></text><g fill="#000"><line x1="949" y1="764.4" x2="971" y2="764.4" stroke="#000" stroke-width="1.3"/><polygon points="945.4,764.4 951.4,761.5 951.4,767.3"/><line x1="985" y1="764.4" x2="1008" y2="764.4" stroke="#000" stroke-width="1.3"/><polygon points="1011.7,764.4 1005.7,761.5 1005.7,767.3"/></g><rect x="1096.5" y="738.3" width="145.8" height="116.7" fill="#fff" stroke="#777" stroke-width="1"/><line x1="1169.4" y1="738.3" x2="1169.4" y2="855" stroke="#222" stroke-width="1.3" stroke-dasharray="3,2.5"/><g fill="#30d8e8"><circle cx="1096.5" cy="789.2" r="1.45"/><circle cx="1098" cy="789" r="1.45"/><circle cx="1099.4" cy="788.8" r="1.45"/><circle cx="1100.9" cy="788.6" r="1.45"/><circle cx="1102.3" cy="788.4" r="1.45"/><circle cx="1103.8" cy="788.2" r="1.45"/><circle cx="1105.2" cy="788" r="1.45"/><circle cx="1106.7" cy="787.8" r="1.45"/><circle cx="1108.2" cy="787.6" r="1.45"/><circle cx="1109.6" cy="787.4" r="1.45"/><circle cx="1111.1" cy="787.1" r="1.45"/><circle cx="1112.5" cy="786.9" r="1.45"/><circle cx="1114" cy="786.7" r="1.45"/><circle cx="1115.5" cy="786.5" r="1.45"/><circle cx="1116.9" cy="786.3" r="1.45"/><circle cx="1118.4" cy="786.1" r="1.45"/><circle cx="1119.8" cy="785.9" r="1.45"/><circle cx="1121.3" cy="785.7" r="1.45"/><circle cx="1122.7" cy="785.5" r="1.45"/><circle cx="1124.2" cy="785.3" r="1.45"/><circle cx="1125.7" cy="785.1" r="1.45"/><circle cx="1127.1" cy="784.9" r="1.45"/><circle cx="1128.6" cy="784.6" r="1.45"/><circle cx="1130" cy="784.4" r="1.45"/><circle cx="1131.5" cy="784.2" r="1.45"/><circle cx="1133" cy="784" r="1.45"/><circle cx="1134.4" cy="783.8" r="1.45"/><circle cx="1135.9" cy="783.6" r="1.45"/><circle cx="1137.3" cy="783.4" r="1.45"/><circle cx="1138.8" cy="783.2" r="1.45"/><circle cx="1140.2" cy="784.1" r="1.45"/><circle cx="1141.7" cy="784.3" r="1.45"/><circle cx="1143.2" cy="784.6" r="1.45"/><circle cx="1144.6" cy="785" r="1.45"/><circle cx="1146.1" cy="785.4" r="1.45"/><circle cx="1147.5" cy="786" r="1.45"/><circle cx="1149" cy="786.6" r="1.45"/><circle cx="1150.4" cy="787.4" r="1.45"/><circle cx="1151.9" cy="788.4" r="1.45"/><circle cx="1153.4" cy="789.5" r="1.45"/><circle cx="1154.8" cy="790.9" r="1.45"/><circle cx="1156.3" cy="792.4" r="1.45"/><circle cx="1157.7" cy="794.2" r="1.45"/><circle cx="1159.2" cy="796.3" r="1.45"/><circle cx="1160.7" cy="798.6" r="1.45"/><circle cx="1162.1" cy="801.1" r="1.45"/><circle cx="1163.6" cy="803.9" r="1.45"/><circle cx="1165" cy="806.8" r="1.45"/><circle cx="1166.5" cy="809.9" r="1.45"/><circle cx="1167.9" cy="812.9" r="1.45"/><circle cx="1169.4" cy="816" r="1.45"/><circle cx="1170.9" cy="818.9" r="1.45"/><circle cx="1172.3" cy="821.7" r="1.45"/><circle cx="1173.8" cy="824.3" r="1.45"/><circle cx="1175.2" cy="826.6" r="1.45"/><circle cx="1176.7" cy="828.7" r="1.45"/><circle cx="1178.1" cy="830.6" r="1.45"/><circle cx="1179.6" cy="832.2" r="1.45"/><circle cx="1181.1" cy="833.5" r="1.45"/><circle cx="1182.5" cy="834.7" r="1.45"/><circle cx="1184" cy="835.7" r="1.45"/><circle cx="1185.4" cy="836.5" r="1.45"/><circle cx="1186.9" cy="837.1" r="1.45"/><circle cx="1188.4" cy="837.7" r="1.45"/><circle cx="1189.8" cy="838.2" r="1.45"/><circle cx="1191.3" cy="838.5" r="1.45"/><circle cx="1192.7" cy="838.7" r="1.45"/><circle cx="1194.2" cy="838.9" r="1.45"/><circle cx="1195.6" cy="839.1" r="1.45"/><circle cx="1197.1" cy="839.2" r="1.45"/><circle cx="1198.6" cy="839.2" r="1.45"/><circle cx="1200" cy="839.3" r="1.45"/><circle cx="1201.5" cy="839.3" r="1.45"/><circle cx="1202.9" cy="839.3" r="1.45"/><circle cx="1204.4" cy="839.3" r="1.45"/><circle cx="1205.8" cy="839.3" r="1.45"/><circle cx="1207.3" cy="839.3" r="1.45"/><circle cx="1208.8" cy="839.3" r="1.45"/><circle cx="1210.2" cy="839.2" r="1.45"/><circle cx="1211.7" cy="839.2" r="1.45"/><circle cx="1213.1" cy="839.1" r="1.45"/><circle cx="1214.6" cy="839.1" r="1.45"/><circle cx="1216.1" cy="839.1" r="1.45"/><circle cx="1217.5" cy="839" r="1.45"/><circle cx="1219" cy="838.9" r="1.45"/><circle cx="1220.4" cy="838.9" r="1.45"/><circle cx="1221.9" cy="838.8" r="1.45"/><circle cx="1223.3" cy="838.8" r="1.45"/><circle cx="1224.8" cy="838.7" r="1.45"/><circle cx="1226.3" cy="838.7" r="1.45"/><circle cx="1227.7" cy="838.6" r="1.45"/><circle cx="1229.2" cy="838.6" r="1.45"/><circle cx="1230.6" cy="838.5" r="1.45"/><circle cx="1232.1" cy="838.4" r="1.45"/><circle cx="1233.6" cy="838.4" r="1.45"/><circle cx="1235" cy="838.3" r="1.45"/><circle cx="1236.5" cy="838.3" r="1.45"/><circle cx="1237.9" cy="838.2" r="1.45"/><circle cx="1239.4" cy="838.1" r="1.45"/><circle cx="1240.8" cy="838.1" r="1.45"/><circle cx="1242.3" cy="838" r="1.45"/></g><g fill="#8020d0"><circle cx="1096.5" cy="823.2" r="1.45"/><circle cx="1098" cy="823.4" r="1.45"/><circle cx="1099.4" cy="823.5" r="1.45"/><circle cx="1100.9" cy="823.7" r="1.45"/><circle cx="1102.3" cy="823.9" r="1.45"/><circle cx="1103.8" cy="824.1" r="1.45"/><circle cx="1105.2" cy="824.2" r="1.45"/><circle cx="1106.7" cy="824.4" r="1.45"/><circle cx="1108.2" cy="824.6" r="1.45"/><circle cx="1109.6" cy="824.8" r="1.45"/><circle cx="1111.1" cy="825" r="1.45"/><circle cx="1112.5" cy="825.1" r="1.45"/><circle cx="1114" cy="825.3" r="1.45"/><circle cx="1115.5" cy="825.5" r="1.45"/><circle cx="1116.9" cy="825.7" r="1.45"/><circle cx="1118.4" cy="825.8" r="1.45"/><circle cx="1119.8" cy="826" r="1.45"/><circle cx="1121.3" cy="826.2" r="1.45"/><circle cx="1122.7" cy="826.4" r="1.45"/><circle cx="1124.2" cy="826.6" r="1.45"/><circle cx="1125.7" cy="826.7" r="1.45"/><circle cx="1127.1" cy="826.9" r="1.45"/><circle cx="1128.6" cy="827.1" r="1.45"/><circle cx="1130" cy="827.3" r="1.45"/><circle cx="1131.5" cy="827.5" r="1.45"/><circle cx="1133" cy="827.6" r="1.45"/><circle cx="1134.4" cy="827.8" r="1.45"/><circle cx="1135.9" cy="828" r="1.45"/><circle cx="1137.3" cy="828.2" r="1.45"/><circle cx="1138.8" cy="828.3" r="1.45"/><circle cx="1140.2" cy="828.5" r="1.45"/><circle cx="1141.7" cy="828.7" r="1.45"/><circle cx="1143.2" cy="828.9" r="1.45"/><circle cx="1144.6" cy="828.1" r="1.45"/><circle cx="1146.1" cy="828" r="1.45"/><circle cx="1147.5" cy="827.8" r="1.45"/><circle cx="1149" cy="827.5" r="1.45"/><circle cx="1150.4" cy="827.2" r="1.45"/><circle cx="1151.9" cy="826.9" r="1.45"/><circle cx="1153.4" cy="826.5" r="1.45"/><circle cx="1154.8" cy="826.1" r="1.45"/><circle cx="1156.3" cy="825.6" r="1.45"/><circle cx="1157.7" cy="825" r="1.45"/><circle cx="1159.2" cy="824.3" r="1.45"/><circle cx="1160.7" cy="823.6" r="1.45"/><circle cx="1162.1" cy="822.8" r="1.45"/><circle cx="1163.6" cy="822" r="1.45"/><circle cx="1165" cy="821.1" r="1.45"/><circle cx="1166.5" cy="820.2" r="1.45"/><circle cx="1167.9" cy="819.3" r="1.45"/><circle cx="1169.4" cy="818.4" r="1.45"/><circle cx="1170.9" cy="817.5" r="1.45"/><circle cx="1172.3" cy="816.6" r="1.45"/><circle cx="1173.8" cy="815.8" r="1.45"/><circle cx="1175.2" cy="815.1" r="1.45"/><circle cx="1176.7" cy="814.4" r="1.45"/><circle cx="1178.1" cy="813.8" r="1.45"/><circle cx="1179.6" cy="813.3" r="1.45"/><circle cx="1181.1" cy="812.9" r="1.45"/><circle cx="1182.5" cy="812.5" r="1.45"/><circle cx="1184" cy="812.1" r="1.45"/><circle cx="1185.4" cy="811.9" r="1.45"/><circle cx="1186.9" cy="811.6" r="1.45"/><circle cx="1188.4" cy="811.4" r="1.45"/><circle cx="1189.8" cy="811.2" r="1.45"/><circle cx="1191.3" cy="811.1" r="1.45"/><circle cx="1192.7" cy="811" r="1.45"/><circle cx="1194.2" cy="810.9" r="1.45"/><circle cx="1195.6" cy="810.8" r="1.45"/><circle cx="1197.1" cy="810.7" r="1.45"/><circle cx="1198.6" cy="810.7" r="1.45"/><circle cx="1200" cy="810.6" r="1.45"/><circle cx="1201.5" cy="810.6" r="1.45"/><circle cx="1202.9" cy="810.6" r="1.45"/><circle cx="1204.4" cy="810.6" r="1.45"/><circle cx="1205.8" cy="810.5" r="1.45"/><circle cx="1207.3" cy="810.5" r="1.45"/><circle cx="1208.8" cy="810.5" r="1.45"/><circle cx="1210.2" cy="810.5" r="1.45"/><circle cx="1211.7" cy="810.5" r="1.45"/><circle cx="1213.1" cy="810.5" r="1.45"/><circle cx="1214.6" cy="810.5" r="1.45"/><circle cx="1216.1" cy="810.5" r="1.45"/><circle cx="1217.5" cy="810.5" r="1.45"/><circle cx="1219" cy="810.5" r="1.45"/><circle cx="1220.4" cy="810.5" r="1.45"/><circle cx="1221.9" cy="810.5" r="1.45"/><circle cx="1223.3" cy="810.5" r="1.45"/><circle cx="1224.8" cy="810.4" r="1.45"/><circle cx="1226.3" cy="810.4" r="1.45"/><circle cx="1227.7" cy="810.4" r="1.45"/><circle cx="1229.2" cy="810.4" r="1.45"/><circle cx="1230.6" cy="810.4" r="1.45"/><circle cx="1232.1" cy="810.4" r="1.45"/><circle cx="1233.6" cy="810.4" r="1.45"/><circle cx="1235" cy="810.4" r="1.45"/><circle cx="1236.5" cy="810.4" r="1.45"/><circle cx="1237.9" cy="810.4" r="1.45"/><circle cx="1239.4" cy="810.4" r="1.45"/><circle cx="1240.8" cy="810.4" r="1.45"/><circle cx="1242.3" cy="810.4" r="1.45"/></g><g fill="#f08a30"><circle cx="1096.5" cy="839.1" r="1.45"/><circle cx="1098" cy="839.1" r="1.45"/><circle cx="1099.4" cy="839" r="1.45"/><circle cx="1100.9" cy="839" r="1.45"/><circle cx="1102.3" cy="838.9" r="1.45"/><circle cx="1103.8" cy="838.9" r="1.45"/><circle cx="1105.2" cy="838.9" r="1.45"/><circle cx="1106.7" cy="838.8" r="1.45"/><circle cx="1108.2" cy="838.8" r="1.45"/><circle cx="1109.6" cy="838.8" r="1.45"/><circle cx="1111.1" cy="838.7" r="1.45"/><circle cx="1112.5" cy="838.7" r="1.45"/><circle cx="1114" cy="838.7" r="1.45"/><circle cx="1115.5" cy="838.6" r="1.45"/><circle cx="1116.9" cy="838.6" r="1.45"/><circle cx="1118.4" cy="838.6" r="1.45"/><circle cx="1119.8" cy="838.5" r="1.45"/><circle cx="1121.3" cy="838.5" r="1.45"/><circle cx="1122.7" cy="838.4" r="1.45"/><circle cx="1124.2" cy="838.4" r="1.45"/><circle cx="1125.7" cy="838.4" r="1.45"/><circle cx="1127.1" cy="838.3" r="1.45"/><circle cx="1128.6" cy="838.3" r="1.45"/><circle cx="1130" cy="838.3" r="1.45"/><circle cx="1131.5" cy="838.2" r="1.45"/><circle cx="1133" cy="838.2" r="1.45"/><circle cx="1134.4" cy="838.2" r="1.45"/><circle cx="1135.9" cy="838.1" r="1.45"/><circle cx="1137.3" cy="838.1" r="1.45"/><circle cx="1138.8" cy="836.2" r="1.45"/><circle cx="1140.2" cy="835.9" r="1.45"/><circle cx="1141.7" cy="835.5" r="1.45"/><circle cx="1143.2" cy="835" r="1.45"/><circle cx="1144.6" cy="834.5" r="1.45"/><circle cx="1146.1" cy="834" r="1.45"/><circle cx="1147.5" cy="833.3" r="1.45"/><circle cx="1149" cy="832.6" r="1.45"/><circle cx="1150.4" cy="831.8" r="1.45"/><circle cx="1151.9" cy="830.9" r="1.45"/><circle cx="1153.4" cy="829.9" r="1.45"/><circle cx="1154.8" cy="828.8" r="1.45"/><circle cx="1156.3" cy="827.7" r="1.45"/><circle cx="1157.7" cy="826.5" r="1.45"/><circle cx="1159.2" cy="825.3" r="1.45"/><circle cx="1160.7" cy="824.1" r="1.45"/><circle cx="1162.1" cy="822.8" r="1.45"/><circle cx="1163.6" cy="821.6" r="1.45"/><circle cx="1165" cy="820.4" r="1.45"/><circle cx="1166.5" cy="819.2" r="1.45"/><circle cx="1167.9" cy="818.1" r="1.45"/><circle cx="1169.4" cy="817.1" r="1.45"/><circle cx="1170.9" cy="816.1" r="1.45"/><circle cx="1172.3" cy="815.3" r="1.45"/><circle cx="1173.8" cy="814.5" r="1.45"/><circle cx="1175.2" cy="813.8" r="1.45"/><circle cx="1176.7" cy="813.2" r="1.45"/><circle cx="1178.1" cy="812.6" r="1.45"/><circle cx="1179.6" cy="812.2" r="1.45"/><circle cx="1181.1" cy="811.8" r="1.45"/><circle cx="1182.5" cy="811.4" r="1.45"/><circle cx="1184" cy="811.1" r="1.45"/><circle cx="1185.4" cy="810.8" r="1.45"/><circle cx="1186.9" cy="810.6" r="1.45"/><circle cx="1188.4" cy="810.4" r="1.45"/><circle cx="1189.8" cy="810.3" r="1.45"/><circle cx="1191.3" cy="810.1" r="1.45"/><circle cx="1192.7" cy="810" r="1.45"/><circle cx="1194.2" cy="809.9" r="1.45"/><circle cx="1195.6" cy="809.8" r="1.45"/><circle cx="1197.1" cy="809.8" r="1.45"/><circle cx="1198.6" cy="809.7" r="1.45"/><circle cx="1200" cy="809.6" r="1.45"/><circle cx="1201.5" cy="809.6" r="1.45"/><circle cx="1202.9" cy="809.6" r="1.45"/><circle cx="1204.4" cy="809.5" r="1.45"/><circle cx="1205.8" cy="809.5" r="1.45"/><circle cx="1207.3" cy="809.5" r="1.45"/><circle cx="1208.8" cy="809.5" r="1.45"/><circle cx="1210.2" cy="809.5" r="1.45"/><circle cx="1211.7" cy="809.4" r="1.45"/><circle cx="1213.1" cy="809.4" r="1.45"/><circle cx="1214.6" cy="809.4" r="1.45"/><circle cx="1216.1" cy="809.4" r="1.45"/><circle cx="1217.5" cy="809.4" r="1.45"/><circle cx="1219" cy="809.4" r="1.45"/><circle cx="1220.4" cy="809.4" r="1.45"/><circle cx="1221.9" cy="809.4" r="1.45"/><circle cx="1223.3" cy="809.4" r="1.45"/><circle cx="1224.8" cy="809.4" r="1.45"/><circle cx="1226.3" cy="809.4" r="1.45"/><circle cx="1227.7" cy="809.4" r="1.45"/><circle cx="1229.2" cy="809.4" r="1.45"/><circle cx="1230.6" cy="809.4" r="1.45"/><circle cx="1232.1" cy="809.4" r="1.45"/><circle cx="1233.6" cy="809.4" r="1.45"/><circle cx="1235" cy="809.4" r="1.45"/><circle cx="1236.5" cy="809.4" r="1.45"/><circle cx="1237.9" cy="809.4" r="1.45"/><circle cx="1239.4" cy="809.4" r="1.45"/><circle cx="1240.8" cy="809.4" r="1.45"/><circle cx="1242.3" cy="809.4" r="1.45"/></g><g fill="#e0207a"><circle cx="1096.5" cy="848.6" r="1.45"/><circle cx="1098" cy="848.6" r="1.45"/><circle cx="1099.4" cy="848.6" r="1.45"/><circle cx="1100.9" cy="848.6" r="1.45"/><circle cx="1102.3" cy="848.6" r="1.45"/><circle cx="1103.8" cy="848.6" r="1.45"/><circle cx="1105.2" cy="848.6" r="1.45"/><circle cx="1106.7" cy="848.6" r="1.45"/><circle cx="1108.2" cy="848.5" r="1.45"/><circle cx="1109.6" cy="848.5" r="1.45"/><circle cx="1111.1" cy="848.5" r="1.45"/><circle cx="1112.5" cy="848.5" r="1.45"/><circle cx="1114" cy="848.5" r="1.45"/><circle cx="1115.5" cy="848.4" r="1.45"/><circle cx="1116.9" cy="848.4" r="1.45"/><circle cx="1118.4" cy="848.3" r="1.45"/><circle cx="1119.8" cy="848.3" r="1.45"/><circle cx="1121.3" cy="848.2" r="1.45"/><circle cx="1122.7" cy="848.1" r="1.45"/><circle cx="1124.2" cy="848.1" r="1.45"/><circle cx="1125.7" cy="847.9" r="1.45"/><circle cx="1127.1" cy="847.8" r="1.45"/><circle cx="1128.6" cy="847.7" r="1.45"/><circle cx="1130" cy="847.5" r="1.45"/><circle cx="1131.5" cy="847.3" r="1.45"/><circle cx="1133" cy="847" r="1.45"/><circle cx="1134.4" cy="846.7" r="1.45"/><circle cx="1135.9" cy="846.4" r="1.45"/><circle cx="1137.3" cy="846" r="1.45"/><circle cx="1138.8" cy="845.5" r="1.45"/><circle cx="1140.2" cy="844.9" r="1.45"/><circle cx="1141.7" cy="844.3" r="1.45"/><circle cx="1143.2" cy="843.5" r="1.45"/><circle cx="1144.6" cy="842.6" r="1.45"/><circle cx="1146.1" cy="841.6" r="1.45"/><circle cx="1147.5" cy="840.5" r="1.45"/><circle cx="1149" cy="839.2" r="1.45"/><circle cx="1150.4" cy="837.7" r="1.45"/><circle cx="1151.9" cy="836.1" r="1.45"/><circle cx="1153.4" cy="834.3" r="1.45"/><circle cx="1154.8" cy="832.4" r="1.45"/><circle cx="1156.3" cy="830.3" r="1.45"/><circle cx="1157.7" cy="828.1" r="1.45"/><circle cx="1159.2" cy="825.8" r="1.45"/><circle cx="1160.7" cy="823.5" r="1.45"/><circle cx="1162.1" cy="821.1" r="1.45"/><circle cx="1163.6" cy="818.6" r="1.45"/><circle cx="1165" cy="816.3" r="1.45"/><circle cx="1166.5" cy="814" r="1.45"/><circle cx="1167.9" cy="811.8" r="1.45"/><circle cx="1169.4" cy="809.7" r="1.45"/><circle cx="1170.9" cy="807.8" r="1.45"/><circle cx="1172.3" cy="806" r="1.45"/><circle cx="1173.8" cy="804.4" r="1.45"/><circle cx="1175.2" cy="802.9" r="1.45"/><circle cx="1176.7" cy="801.6" r="1.45"/><circle cx="1178.1" cy="800.5" r="1.45"/><circle cx="1179.6" cy="799.5" r="1.45"/><circle cx="1181.1" cy="798.6" r="1.45"/><circle cx="1182.5" cy="797.8" r="1.45"/><circle cx="1184" cy="797.2" r="1.45"/><circle cx="1185.4" cy="796.6" r="1.45"/><circle cx="1186.9" cy="796.1" r="1.45"/><circle cx="1188.4" cy="795.7" r="1.45"/><circle cx="1189.8" cy="795.4" r="1.45"/><circle cx="1191.3" cy="795.2" r="1.45"/><circle cx="1192.7" cy="795.2" r="1.45"/><circle cx="1194.2" cy="795.2" r="1.45"/><circle cx="1195.6" cy="795.2" r="1.45"/><circle cx="1197.1" cy="795.3" r="1.45"/><circle cx="1198.6" cy="795.3" r="1.45"/><circle cx="1200" cy="795.4" r="1.45"/><circle cx="1201.5" cy="795.6" r="1.45"/><circle cx="1202.9" cy="795.7" r="1.45"/><circle cx="1204.4" cy="795.8" r="1.45"/><circle cx="1205.8" cy="796" r="1.45"/><circle cx="1207.3" cy="796.1" r="1.45"/><circle cx="1208.8" cy="796.3" r="1.45"/><circle cx="1210.2" cy="796.5" r="1.45"/><circle cx="1211.7" cy="796.7" r="1.45"/><circle cx="1213.1" cy="796.9" r="1.45"/><circle cx="1214.6" cy="797" r="1.45"/><circle cx="1216.1" cy="797.2" r="1.45"/><circle cx="1217.5" cy="797.4" r="1.45"/><circle cx="1219" cy="797.6" r="1.45"/><circle cx="1220.4" cy="797.8" r="1.45"/><circle cx="1221.9" cy="798" r="1.45"/><circle cx="1223.3" cy="798.2" r="1.45"/><circle cx="1224.8" cy="798.4" r="1.45"/><circle cx="1226.3" cy="798.6" r="1.45"/><circle cx="1227.7" cy="798.8" r="1.45"/><circle cx="1229.2" cy="799" r="1.45"/><circle cx="1230.6" cy="799.2" r="1.45"/><circle cx="1232.1" cy="799.5" r="1.45"/><circle cx="1233.6" cy="799.7" r="1.45"/><circle cx="1235" cy="799.9" r="1.45"/><circle cx="1236.5" cy="800.1" r="1.45"/><circle cx="1237.9" cy="800.3" r="1.45"/><circle cx="1239.4" cy="800.5" r="1.45"/><circle cx="1240.8" cy="800.7" r="1.45"/><circle cx="1242.3" cy="800.9" r="1.45"/></g><g fill="#6ab020"><circle cx="1096.5" cy="763.8" r="1.45"/><circle cx="1098" cy="763.8" r="1.45"/><circle cx="1099.4" cy="763.8" r="1.45"/><circle cx="1100.9" cy="763.8" r="1.45"/><circle cx="1102.3" cy="763.8" r="1.45"/><circle cx="1103.8" cy="763.8" r="1.45"/><circle cx="1105.2" cy="763.8" r="1.45"/><circle cx="1106.7" cy="763.8" r="1.45"/><circle cx="1108.2" cy="763.8" r="1.45"/><circle cx="1109.6" cy="763.8" r="1.45"/><circle cx="1111.1" cy="763.8" r="1.45"/><circle cx="1112.5" cy="763.8" r="1.45"/><circle cx="1114" cy="763.8" r="1.45"/><circle cx="1115.5" cy="763.8" r="1.45"/><circle cx="1116.9" cy="763.8" r="1.45"/><circle cx="1118.4" cy="763.8" r="1.45"/><circle cx="1119.8" cy="763.8" r="1.45"/><circle cx="1121.3" cy="763.8" r="1.45"/><circle cx="1122.7" cy="763.8" r="1.45"/><circle cx="1124.2" cy="763.8" r="1.45"/><circle cx="1125.7" cy="763.8" r="1.45"/><circle cx="1127.1" cy="763.8" r="1.45"/><circle cx="1128.6" cy="765" r="1.45"/><circle cx="1130" cy="765.3" r="1.45"/><circle cx="1131.5" cy="765.6" r="1.45"/><circle cx="1133" cy="766" r="1.45"/><circle cx="1134.4" cy="766.4" r="1.45"/><circle cx="1135.9" cy="767" r="1.45"/><circle cx="1137.3" cy="767.6" r="1.45"/><circle cx="1138.8" cy="768.4" r="1.45"/><circle cx="1140.2" cy="769.3" r="1.45"/><circle cx="1141.7" cy="770.4" r="1.45"/><circle cx="1143.2" cy="771.6" r="1.45"/><circle cx="1144.6" cy="773" r="1.45"/><circle cx="1146.1" cy="774.6" r="1.45"/><circle cx="1147.5" cy="776.3" r="1.45"/><circle cx="1149" cy="778.2" r="1.45"/><circle cx="1150.4" cy="780.3" r="1.45"/><circle cx="1151.9" cy="782.5" r="1.45"/><circle cx="1153.4" cy="784.8" r="1.45"/><circle cx="1154.8" cy="787.1" r="1.45"/><circle cx="1156.3" cy="789.4" r="1.45"/><circle cx="1157.7" cy="791.7" r="1.45"/><circle cx="1159.2" cy="793.9" r="1.45"/><circle cx="1160.7" cy="796" r="1.45"/><circle cx="1162.1" cy="797.9" r="1.45"/><circle cx="1163.6" cy="799.6" r="1.45"/><circle cx="1165" cy="801.2" r="1.45"/><circle cx="1166.5" cy="802.6" r="1.45"/><circle cx="1167.9" cy="803.8" r="1.45"/><circle cx="1169.4" cy="804.9" r="1.45"/><circle cx="1170.9" cy="805.8" r="1.45"/><circle cx="1172.3" cy="806.6" r="1.45"/><circle cx="1173.8" cy="807.2" r="1.45"/><circle cx="1175.2" cy="807.8" r="1.45"/><circle cx="1176.7" cy="808.2" r="1.45"/><circle cx="1178.1" cy="808.6" r="1.45"/><circle cx="1179.6" cy="808.9" r="1.45"/><circle cx="1181.1" cy="809.2" r="1.45"/><circle cx="1182.5" cy="809.4" r="1.45"/><circle cx="1184" cy="809.6" r="1.45"/><circle cx="1185.4" cy="810.4" r="1.45"/><circle cx="1186.9" cy="810.3" r="1.45"/><circle cx="1188.4" cy="810.2" r="1.45"/><circle cx="1189.8" cy="810.1" r="1.45"/><circle cx="1191.3" cy="810" r="1.45"/><circle cx="1192.7" cy="809.9" r="1.45"/><circle cx="1194.2" cy="809.8" r="1.45"/><circle cx="1195.6" cy="809.7" r="1.45"/><circle cx="1197.1" cy="809.6" r="1.45"/><circle cx="1198.6" cy="809.5" r="1.45"/><circle cx="1200" cy="809.4" r="1.45"/><circle cx="1201.5" cy="809.3" r="1.45"/><circle cx="1202.9" cy="809.2" r="1.45"/><circle cx="1204.4" cy="809.1" r="1.45"/><circle cx="1205.8" cy="809" r="1.45"/><circle cx="1207.3" cy="808.9" r="1.45"/><circle cx="1208.8" cy="808.7" r="1.45"/><circle cx="1210.2" cy="808.6" r="1.45"/><circle cx="1211.7" cy="808.5" r="1.45"/><circle cx="1213.1" cy="808.4" r="1.45"/><circle cx="1214.6" cy="808.3" r="1.45"/><circle cx="1216.1" cy="808.2" r="1.45"/><circle cx="1217.5" cy="808.1" r="1.45"/><circle cx="1219" cy="808" r="1.45"/><circle cx="1220.4" cy="807.9" r="1.45"/><circle cx="1221.9" cy="807.8" r="1.45"/><circle cx="1223.3" cy="807.7" r="1.45"/><circle cx="1224.8" cy="807.6" r="1.45"/><circle cx="1226.3" cy="807.5" r="1.45"/><circle cx="1227.7" cy="807.4" r="1.45"/><circle cx="1229.2" cy="807.3" r="1.45"/><circle cx="1230.6" cy="807.2" r="1.45"/><circle cx="1232.1" cy="807.1" r="1.45"/><circle cx="1233.6" cy="807" r="1.45"/><circle cx="1235" cy="806.9" r="1.45"/><circle cx="1236.5" cy="806.8" r="1.45"/><circle cx="1237.9" cy="806.7" r="1.45"/><circle cx="1239.4" cy="806.6" r="1.45"/><circle cx="1240.8" cy="806.5" r="1.45"/><circle cx="1242.3" cy="806.4" r="1.45"/></g><line x1="1096.5" y1="855" x2="1096.5" y2="853" stroke="#555" stroke-width="0.6"/><text x="1096.5" y="860.5" font-size="5.3" fill="#444" text-anchor="middle" font-weight="normal" >0</text><line x1="1117.3" y1="855" x2="1117.3" y2="853" stroke="#555" stroke-width="0.6"/><text x="1117.3" y="860.5" font-size="5.3" fill="#444" text-anchor="middle" font-weight="normal" >2</text><line x1="1138.2" y1="855" x2="1138.2" y2="853" stroke="#555" stroke-width="0.6"/><text x="1138.2" y="860.5" font-size="5.3" fill="#444" text-anchor="middle" font-weight="normal" >4</text><line x1="1159" y1="855" x2="1159" y2="853" stroke="#555" stroke-width="0.6"/><text x="1159" y="860.5" font-size="5.3" fill="#444" text-anchor="middle" font-weight="normal" >6</text><line x1="1179.8" y1="855" x2="1179.8" y2="853" stroke="#555" stroke-width="0.6"/><text x="1179.8" y="860.5" font-size="5.3" fill="#444" text-anchor="middle" font-weight="normal" >8</text><line x1="1200.6" y1="855" x2="1200.6" y2="853" stroke="#555" stroke-width="0.6"/><text x="1200.6" y="860.5" font-size="5.3" fill="#444" text-anchor="middle" font-weight="normal" >10</text><line x1="1221.5" y1="855" x2="1221.5" y2="853" stroke="#555" stroke-width="0.6"/><text x="1221.5" y="860.5" font-size="5.3" fill="#444" text-anchor="middle" font-weight="normal" >12</text><line x1="1242.3" y1="855" x2="1242.3" y2="853" stroke="#555" stroke-width="0.6"/><text x="1242.3" y="860.5" font-size="5.3" fill="#444" text-anchor="middle" font-weight="normal" >14</text><text x="1095" y="856.8" font-size="5.3" fill="#444" text-anchor="end" font-weight="normal" >0</text><text x="1095" y="835.6" font-size="5.3" fill="#444" text-anchor="end" font-weight="normal" >10</text><text x="1095" y="814.4" font-size="5.3" fill="#444" text-anchor="end" font-weight="normal" >20</text><text x="1095" y="793.1" font-size="5.3" fill="#444" text-anchor="end" font-weight="normal" >30</text><text x="1095" y="771.9" font-size="5.3" fill="#444" text-anchor="end" font-weight="normal" >40</text><text x="1095" y="750.7" font-size="5.3" fill="#444" text-anchor="end" font-weight="normal" >50</text><text x="1169.4" y="866" font-size="6.2" fill="#333" text-anchor="middle" font-weight="normal" >Distance (nm)</text><text transform="translate(1088.5,796.6) rotate(-90)" font-size="6.2" fill="#333" text-anchor="middle">Concentration (at.%)</text><circle cx="1223.5" cy="745.8" r="1.5" fill="#30d8e8"/><text x="1230.5" y="747.8" font-size="5.5" fill="#333" text-anchor="start" font-weight="normal" >Al</text><circle cx="1223.5" cy="752.6" r="1.5" fill="#8020d0"/><text x="1230.5" y="754.6" font-size="5.5" fill="#333" text-anchor="start" font-weight="normal" >Co</text><circle cx="1223.5" cy="759.4" r="1.5" fill="#e0207a"/><text x="1230.5" y="761.4" font-size="5.5" fill="#333" text-anchor="start" font-weight="normal" >Cr</text><circle cx="1223.5" cy="766.2" r="1.5" fill="#f08a30"/><text x="1230.5" y="768.2" font-size="5.5" fill="#333" text-anchor="start" font-weight="normal" >Fe</text><circle cx="1223.5" cy="773" r="1.5" fill="#6ab020"/><text x="1230.5" y="775" font-size="5.5" fill="#333" text-anchor="start" font-weight="normal" >Ni</text><text x="1143.7" y="760" font-size="11.5" fill="#111" text-anchor="start" font-weight="normal" textLength="12" lengthAdjust="spacingAndGlyphs">B2</text><text x="1181" y="760" font-size="11.5" fill="#111" text-anchor="start" font-weight="normal" textLength="17" lengthAdjust="spacingAndGlyphs">FCC</text><text x="1173.6" y="780" font-size="11.5" fill="#222" text-anchor="start" font-weight="normal" textLength="40" lengthAdjust="spacingAndGlyphs">Interface</text></svg></body></html>
